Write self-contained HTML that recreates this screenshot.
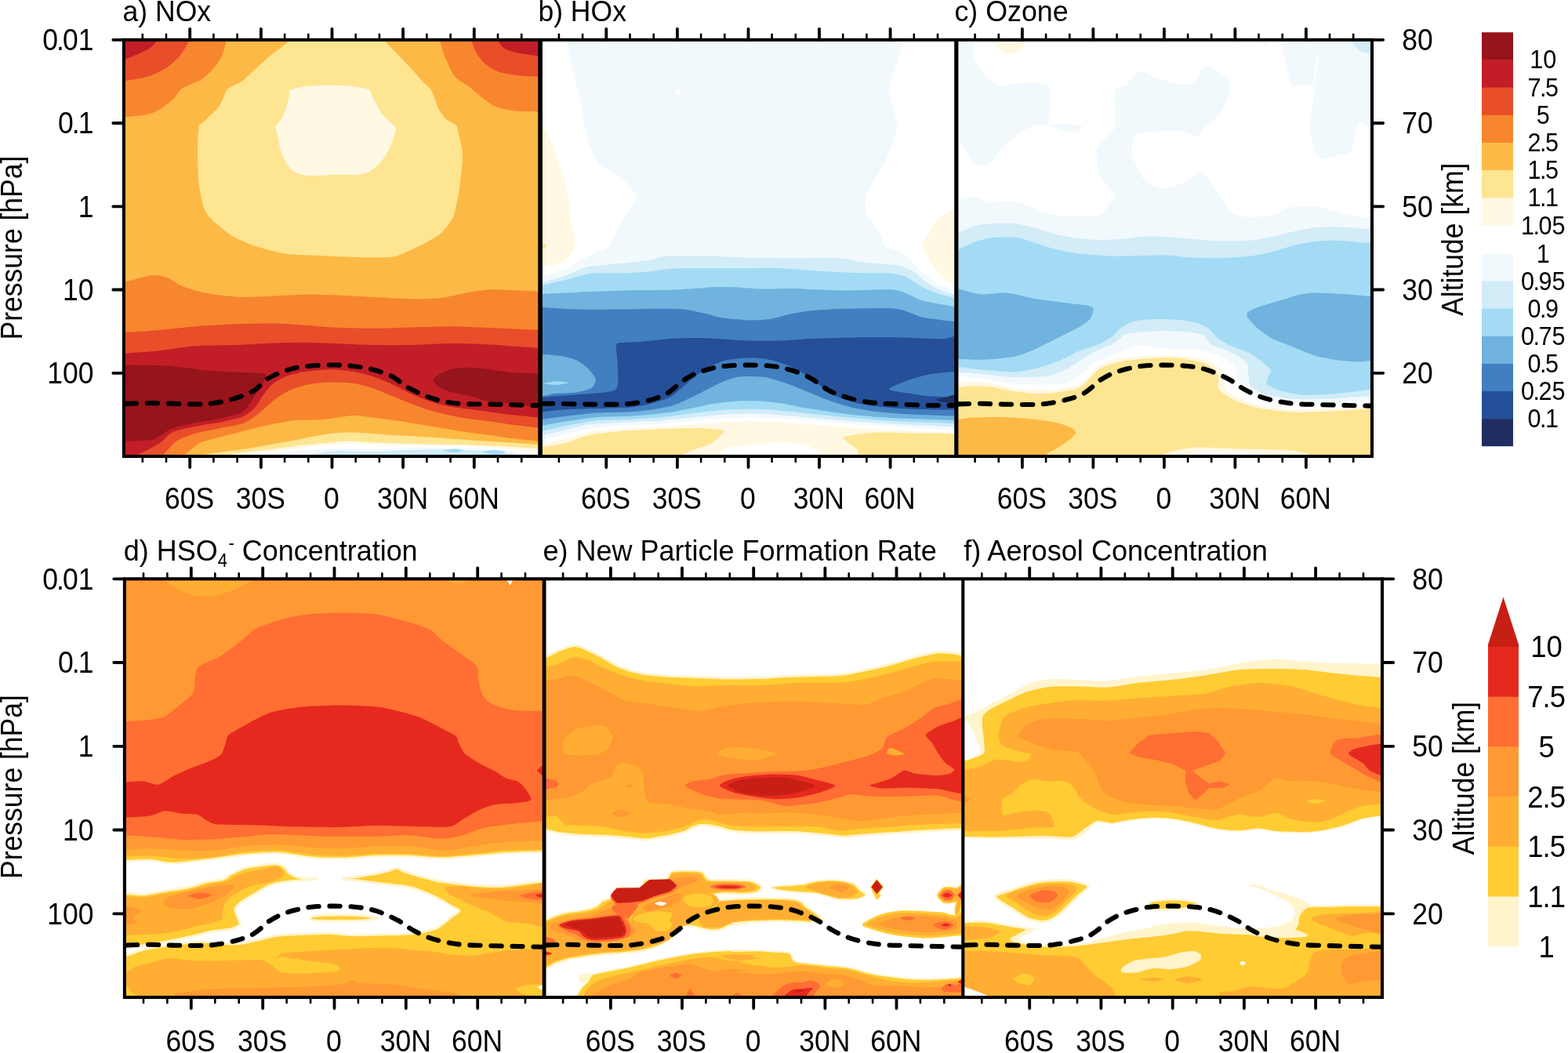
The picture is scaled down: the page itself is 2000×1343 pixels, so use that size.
<!DOCTYPE html>
<html lang="en">
<head>
<meta charset="utf-8">
<title>Zonal mean changes: NOx, HOx, Ozone, HSO4- Concentration, New Particle Formation Rate, Aerosol Concentration</title>
<style>
html,body{margin:0;padding:0;background:#fff;}
body{width:2000px;height:1343px;overflow:hidden;}
svg{display:block;}
svg text{font-family:'Liberation Sans', sans-serif;fill:#000;}
</style>
</head>
<body>
<svg width="2000" height="1343" viewBox="0 0 2000 1343">
<defs>
<clipPath id="cpa"><rect x="157.9" y="50.8" width="531.2" height="531.2"/></clipPath>
<clipPath id="cpb"><rect x="689.1" y="50.8" width="530.7" height="531.2"/></clipPath>
<clipPath id="cpc"><rect x="1219.8" y="50.8" width="530.2" height="531.2"/></clipPath>
<clipPath id="cpd"><rect x="158.9" y="738.3" width="535.2" height="533.7"/></clipPath>
<clipPath id="cpe"><rect x="694.1" y="738.3" width="534.2" height="533.7"/></clipPath>
<clipPath id="cpf"><rect x="1228.3" y="738.3" width="534.7" height="533.7"/></clipPath>
</defs>
<rect width="2000" height="1343" fill="#fff"/>
<g id="fills" shape-rendering="geometricPrecision">
<g clip-path="url(#cpa)">
<rect x="155.9" y="48.8" width="535.2" height="535.2" fill="#fdb945"/>
<path d="M372 44C364.4 45.9 370.3 50.3 366.5 54C362.7 57.7 346.8 69.2 340 75C333.2 80.8 316 97.8 310 102.5C304 107.2 293.6 109.8 290 113.8C286.4 117.7 283.6 130.1 280 135C276.4 139.9 263.1 151.8 260 155C256.9 158.2 254.7 156.4 253.8 161.2C252.8 166.1 252 186.2 252 195C252 203.8 252.8 226.6 253.8 235C254.7 243.4 258.1 259.6 260 265C261.9 270.4 265.8 275.8 270 280C274.2 284.2 288.4 295.9 295 300C301.6 304.1 316.6 310.9 325 313.8C333.4 316.6 356 322.3 365 323.8C374 325.2 389.8 325.2 400 325.8C410.2 326.3 438.3 327.7 450 328C461.7 328.3 490 328.5 497.5 328C505 327.5 507.4 325.8 512.5 323.8C517.6 321.7 534 314.4 540 311.2C546 308.1 558 301.6 562.5 297.5C567 293.4 574.8 283.5 577.5 277.5C580.2 271.5 583.6 255 585 247.5C586.4 240 588.1 221.3 588.8 215C589.4 208.7 590.3 199.8 590 195C589.7 190.2 587.2 179.2 586.2 175C585.3 170.8 584 162.7 582 160C580 157.3 572.6 154.9 570 152.5C567.4 150.1 562.4 144.5 560 140C557.6 135.5 552.3 119.1 550 115C547.7 110.9 544.1 109.4 541 106C537.9 102.6 528 91.3 524 87C520 82.7 511.8 74 508 70C504.2 66 494.9 57.1 492.5 54C490.1 50.9 495.5 45.9 488 44C480.5 42.1 443.9 38 430 38C416.1 38 379.6 42.1 372 44Z" fill="#fde592"/>
<path d="M370 115C372.2 113.6 382.4 111.2 387.5 110.5C392.6 109.8 406.5 108.9 412.5 108.8C418.5 108.6 432.1 109 437.5 109.2C442.9 109.5 453.4 110.6 457.5 111.2C461.6 111.9 469.1 113.2 471.2 114.5C473.4 115.8 473.6 119.7 475 122.5C476.4 125.3 480.7 134.3 482.5 137.5C484.3 140.7 487.4 145.9 490 148.8C492.6 151.6 502 159 503.8 161.2C505.5 163.5 505.1 164.7 504.5 167.5C503.9 170.3 500.2 181.4 498.8 185C497.3 188.6 494.4 194.5 492.5 197.5C490.6 200.5 485.2 207.4 482.5 210C479.8 212.6 473.3 217.9 470 219.5C466.7 221.1 459.5 222.9 455 223.2C450.5 223.6 437.6 222.4 432.5 222.5C427.4 222.6 417.6 223.6 412.5 223.8C407.4 223.9 394.5 224.3 390 223.8C385.5 223.2 377.9 220.4 375 218.8C372.1 217.1 368.4 213.4 366.2 210C364.1 206.6 359 194.8 357.5 190C356 185.2 354.5 173.4 353.8 170C353 166.6 350.5 164.2 351.2 161.8C352 159.3 358.4 152.9 360 150C361.6 147.1 363.9 140.8 365 137.5C366.1 134.2 368.1 125.2 368.8 122.5C369.4 119.8 367.8 116.4 370 115Z" fill="#fff8e3"/>
<path d="M155 149.5C158.9 149.1 181.5 147.5 187.5 146.2C193.5 145 200.8 141.3 205 138.8C209.2 136.2 219.2 128.2 222.5 125C225.8 121.8 228.6 115.2 232.5 112.5C236.4 109.8 250.5 105.2 255 102.5C259.5 99.8 266.7 93.6 270 90C273.3 86.4 280.1 77.5 282.5 72.5C284.9 67.5 289.1 50.9 290 48L149.9 42.8 Z" fill="#f8862e"/>
<path d="M150 103.5C151.2 103.4 155.5 103.7 160 103C164.5 102.3 181.5 99.8 187.5 98C193.5 96.2 205.1 91 210 88C214.9 85 224.6 76.6 228 73C231.4 69.4 236.2 61.2 238 58C239.8 54.8 242.4 47.4 243 46L149.9 42.8 Z" fill="#e84e2a"/>
<path d="M150 78C151.2 77.7 156.9 76.6 160 75.5C163.1 74.4 172.4 70.6 176 69C179.6 67.4 187.5 63.6 190 62C192.5 60.4 195.4 57.9 197 56C198.6 54.1 202.3 47.2 203 46L149.9 42.8 Z" fill="#c31e27"/>
<path d="M560 48C560.9 50.9 565.1 66.6 567.5 72.5C569.9 78.4 576.4 93 580 97.5C583.6 102 593.6 107 597.5 110C601.4 113 608.6 119.5 612.5 122.5C616.4 125.5 624.9 132.8 630 135C635.1 137.2 647.6 140.3 655 141.2C662.4 142.2 687.6 142.3 692 142.5L697.1 42.8 Z" fill="#f8862e"/>
<path d="M600 48C600.9 50.3 605.1 63.4 607.5 67.5C609.9 71.6 616.7 79.7 620 82.5C623.3 85.3 630.2 89.6 635 91.2C639.8 92.9 653.2 95.4 660 96.2C666.8 97.1 688.2 97.8 692 98L697.1 42.8 Z" fill="#e84e2a"/>
<path d="M632.5 48C633.7 49.6 639.2 58.9 642.5 61.2C645.8 63.6 654.1 66.2 660 67.5C665.9 68.8 688.2 71.5 692 72L697.1 42.8 Z" fill="#c31e27"/>
<path d="M155 361C159.5 359.8 185.6 352.1 192.5 351.2C199.4 350.4 207.7 352.1 212.5 353.8C217.3 355.4 226.5 362.6 232.5 365C238.5 367.4 253.8 372.1 262.5 373.8C271.2 375.4 294.5 378.3 305 378.8C315.5 379.2 340.1 377.9 350 377.5C359.9 377.1 378.5 375.9 387.5 375.8C396.5 375.6 414.5 375.9 425 376.2C435.5 376.6 463 378.1 475 378.8C487 379.4 514.5 381.1 525 381.2C535.5 381.4 553.5 381.1 562.5 380C571.5 378.9 592.5 373.8 600 372.5C607.5 371.2 619 369.6 625 369.2C631 368.9 642 369.7 650 370C658 370.3 687 371.8 692 372L697.1 372 L697.1 590 L149.9 590 L149.9 361 Z" fill="#f8862e"/>
<path d="M155 424C160.4 423.7 188.6 422.2 200 421.2C211.4 420.3 238 417.2 250 416.2C262 415.3 288 413.7 300 413.2C312 412.8 341 412.4 350 412.5C359 412.6 366 413.1 375 413.8C384 414.4 413 416.9 425 417.5C437 418.1 463 418.8 475 418.8C487 418.8 513 417.8 525 417.5C537 417.2 564.5 416.2 575 416.2C585.5 416.2 603.5 417.1 612.5 417.5C621.5 417.9 640.5 418.8 650 419.2C659.5 419.7 687 420.8 692 421L697.1 421 L697.1 590 L149.9 590 L149.9 424 Z" fill="#e84e2a"/>
<path d="M155 451C160.4 450.6 188.6 448.7 200 447.5C211.4 446.3 238 442.1 250 441.2C262 440.4 288 440.4 300 440C312 439.6 339.5 437.9 350 437.5C360.5 437.1 378.5 436.7 387.5 436.8C396.5 436.8 414.5 437.6 425 438C435.5 438.4 463 439.8 475 440C487 440.2 513 440.2 525 440C537 439.8 564.5 438.1 575 438C585.5 437.9 603.5 438.4 612.5 438.8C621.5 439.1 640.5 440.6 650 441.2C659.5 441.9 687 443.7 692 444L697.1 444 L697.1 590 L149.9 590 L149.9 451 Z" fill="#c31e27"/>
<path d="M100 464.5C107.2 452.8 146.5 465.3 160 465.5C173.5 465.7 200.2 465.7 212.5 466.5C224.8 467.3 252 471.5 262.5 472.5C273 473.5 291.3 474.1 300 474.5C308.7 474.9 330.4 475.6 335 476.2C339.6 476.9 338.8 478.4 338.8 480C338.8 481.6 336.6 487 335 490C333.4 493 327.4 501.4 325 505C322.6 508.6 317.4 517.3 315 520C312.6 522.7 309.8 525.7 305 527.5C300.2 529.3 282.2 533.5 275 535C267.8 536.5 251.6 538.6 245 540C238.4 541.4 224.8 544.5 220 546.2C215.2 548 208.3 553.2 205 555C201.7 556.8 197.9 560.4 192.5 561.2C187.1 562.1 171.1 562.3 160 562.5C148.9 562.7 107.2 574.8 100 563C92.8 551.2 92.8 476.2 100 464.5Z" fill="#96141b"/>
<path d="M552.5 485C552.5 483.1 557.3 479.1 560 477.5C562.7 475.9 570.8 472.3 575 471.2C579.2 470.2 589 468.8 595 468.8C601 468.8 618.4 470.5 625 471.2C631.6 472 641 473.9 650 475C659 476.1 694 474.8 700 480C706 485.2 706 513.9 700 518C694 522.1 659 515.2 650 514.5C641 513.8 631 513.6 625 512.5C619 511.4 606 506.5 600 505C594 503.5 579.8 501.4 575 500C570.2 498.6 562.7 495.6 560 493.8C557.3 491.9 552.5 486.9 552.5 485Z" fill="#96141b"/>
<path d="M164 586C165.2 585.3 170.9 582.1 174 580.5C177.1 578.9 186.4 574.9 190 573C193.6 571.1 200.4 567.6 204 565C207.6 562.4 214.5 553.8 220 551.2C225.5 548.7 242.8 545.2 250 543.8C257.2 542.2 272.8 540.2 280 538.8C287.2 537.2 304.6 533.5 310 531.2C315.4 529 322 523.1 325 520C328 516.9 332.3 508.6 335 505C337.7 501.4 343.9 493 347.5 490C351.1 487 359.9 481.9 365 480C370.1 478.1 383.1 474.8 390 473.8C396.9 472.7 415.3 471.2 422.5 471.2C429.7 471.2 443.7 472.7 450 473.8C456.3 474.8 469 478.1 475 480C481 481.9 494 487.3 500 490C506 492.7 519 499.8 525 502.5C531 505.2 544 510.6 550 512.5C556 514.5 567.5 517.4 575 518.8C582.5 520.1 603.5 522.5 612.5 523.8C621.5 525 640.5 527.6 650 528.8C659.5 529.9 687 532.5 692 533L697.1 533 L697.1 590 L149.9 590 L149.9 586 Z" fill="#e84e2a"/>
<path d="M200 587C201 586.2 205 583.4 208 580.5C211 577.6 220 565.9 225 562.5C230 559.1 243.4 554.5 250 552.5C256.6 550.5 272.8 547.8 280 546.2C287.2 544.8 304 542.2 310 540C316 537.8 325.2 531.1 330 527.5C334.8 523.9 345.2 513.6 350 510C354.8 506.4 364.6 499.9 370 497.5C375.4 495.1 388.7 491.2 395 490C401.3 488.8 415.9 487.6 422.5 487.5C429.1 487.4 443.7 487.9 450 488.8C456.3 489.6 469 493.1 475 495C481 496.9 494 502.6 500 505C506 507.4 519 512.8 525 515C531 517.2 542.5 521.6 550 523.8C557.5 525.9 578.5 530.9 587.5 532.5C596.5 534.1 617.5 536.5 625 537.5C632.5 538.5 642 540.2 650 541.2C658 542.3 687 545.4 692 546L697.1 546 L697.1 590 L149.9 590 L149.9 587 Z" fill="#f8862e"/>
<path d="M230 585C233 582.6 249 568.3 255 565C261 561.7 273.4 559.3 280 557.5C286.6 555.7 302.8 551.8 310 550C317.2 548.2 332.2 544.1 340 542.5C347.8 540.9 366.3 537.1 375 536.2C383.7 535.4 403.5 535.8 412.5 535C421.5 534.2 442.5 530.3 450 530C457.5 529.7 467.5 531.6 475 532.5C482.5 533.4 503.5 536.1 512.5 537.5C521.5 538.9 541 542.2 550 543.8C559 545.2 578.5 548.6 587.5 550C596.5 551.4 617.5 554 625 555C632.5 556 642 557.8 650 558.8C658 559.7 687 562.5 692 563L697.1 563 L697.1 590 L149.9 590 L149.9 585 Z" fill="#fdb945"/>
<path d="M258 585C258.9 584.3 258.7 580.5 265.5 579C272.3 577.5 302.5 574.3 315 572.3C327.5 570.3 358.4 564.7 370 562.6C381.6 560.5 402.1 555.7 411.3 554.4C420.5 553.1 437.1 551.6 447 551.6C456.9 551.6 479.9 553.6 493.8 554.4C507.7 555.2 547.7 557.5 562.5 558.5C577.3 559.5 602 561.6 617.5 562.6C633 563.6 683.1 566.5 692 567L697.1 567 L697.1 590 L149.9 590 L149.9 585 Z" fill="#fde592"/>
<path d="M288 585C288.9 584.3 289.3 580.4 295.8 579C302.3 577.6 331.9 574.9 342.5 573.6C353.1 572.3 373.9 569.3 383.8 568.1C393.7 566.9 417.4 564.7 425 564C432.6 563.3 440.4 562.5 447 562.6C453.6 562.7 469.4 564.2 480 564.6C490.6 565 521.8 565.9 535 566.2C548.2 566.5 576.8 566.9 590 567.3C603.2 567.7 632.8 568.9 645 569.5C657.2 570.1 686.4 572.1 692 572.5L697.1 572.5 L697.1 590 L149.9 590 L149.9 585 Z" fill="#fff8e3"/>
<path d="M296 585C297 584.3 296.8 580.2 304 579C311.2 577.8 345.1 576.1 356.3 575C367.5 573.9 389.3 570.4 397.5 569.5C405.7 568.6 418.4 567.7 425 567.3C431.6 566.9 442.6 566.1 452.5 566.2C462.4 566.3 494.3 567.8 507.5 568.1C520.7 568.4 549.3 568.8 562.5 569C575.7 569.2 605.9 569.4 617.5 570C629.1 570.6 649.9 572.8 658.8 573.6C667.7 574.4 688 576.6 692 577L697.1 577 L697.1 590 L149.9 590 L149.9 585 Z" fill="#ffffff"/>
<path d="M330 585C289.5 583.7 334.4 580.4 342.5 579C350.6 577.6 387.6 574.5 397.5 573.6C407.4 572.7 415.1 571.9 425 571.7C434.9 571.5 468.4 572.4 480 572.3C491.6 572.2 511.4 571.1 521.3 570.9C531.2 570.7 551 570.7 562.5 570.9C574 571.1 605.9 571.6 617.5 572.3C629.1 573 651.9 575.4 658.8 576.4C665.7 577.4 672.5 579.4 675 581C677.5 582.6 721.4 589.5 680 590C638.6 590.5 370.5 586.3 330 585Z" fill="#f2f9fd"/>
<path d="M400 585C371.2 583.7 416.6 576.1 425 575C433.4 573.9 458.6 576.1 470 576C481.4 575.9 509 574.3 520 574C531 573.7 550.4 573.4 562 573.5C573.6 573.6 605.8 574.3 617 575C628.2 575.7 649.2 577.7 655 579C660.8 580.3 695.6 585.3 665 586C634.4 586.7 428.8 586.3 400 585Z" fill="#d2ecf8"/>
<path d="M565 574.5C565 574 576.8 572.5 580 572.5C583.2 572.5 592 574 592 574.5C592 575 583.2 577 580 577C576.8 577 565 575 565 574.5Z" fill="#a3dbf5"/>
<path d="M615 576C615.2 575.3 628.4 573.9 632 574C635.6 574.1 645.2 576.3 645 577C644.8 577.7 633.6 579.6 630 579.5C626.4 579.4 614.8 576.7 615 576Z" fill="#a3dbf5"/>
<path d="M157.9 514.9C164.9 514.8 184.7 514.1 200 514.2C215.3 514.4 237.5 515.6 250 515.5C262.5 515.4 266.7 515 275 513.8C283.3 512.5 291.7 510.7 300 508C308.3 505.3 318.3 501.5 325 497.5C331.7 493.5 333.3 487.9 340 483.8C346.7 479.6 357.1 475.2 365 472.5C372.9 469.8 377.9 468.7 387.5 467.5C397.1 466.3 412.1 465.6 422.5 465.5C432.9 465.4 441.2 466 450 467C458.8 468 466.7 469.1 475 471.2C483.3 473.4 492.9 476.5 500 480C507.1 483.5 510.8 488.5 517.5 492.5C524.2 496.5 532.5 500.6 540 503.8C547.5 506.9 554.6 509.4 562.5 511.2C570.4 513.1 577.1 514.3 587.5 515C597.9 515.7 614.6 515.3 625 515.5C635.4 515.7 638.3 515.9 650 516.2C661.7 516.6 687.5 517.3 695 517.5" fill="none" stroke="#000" stroke-width="6.1" stroke-dasharray="13.3 13.7" stroke-dashoffset="-3" stroke-linecap="round"/>
</g>
<g clip-path="url(#cpb)">
<rect x="687.1" y="48.8" width="534.7" height="535.2" fill="#f2f9fd"/>
<path d="M722.7 45.5C723.4 49.8 726.4 72.7 728.2 81.3C730 89.9 735.9 108.2 737.9 117.2C739.9 126.1 742.9 147.1 744.8 155.7C746.6 164.3 750.5 182.2 753 188.8C755.5 195.4 761 206.5 765.4 210.8C769.9 215.1 784.7 220 790.2 224.6C795.8 229.3 810.4 244.1 811.7 249.4C813 254.7 803.8 264.1 801.2 268.7C798.7 273.3 793.2 282.5 790.2 288C787.2 293.5 780.1 310.2 776.4 314.2C772.8 318.1 763.9 319.1 759.9 321.1C755.9 323.1 748 328.1 743.4 330.7C738.7 333.4 728.3 340.3 721.3 343.1C714.4 345.9 689.8 352.8 685.5 354.1L681.1 354.1 L681.1 45.5 Z" fill="#ffffff"/>
<path d="M685.5 150.2C687.5 153.5 698.7 170.5 702 177.8C705.4 185.1 710.4 202.6 713.1 210.8C715.7 219.1 722.3 238.1 724.1 246.7C725.9 255.3 727.1 274.6 728.2 282.5C729.4 290.4 734.6 307 733.7 312.8C732.9 318.6 724.5 327.7 721.3 330.7C718.2 333.7 711.9 336.4 707.6 337.6C703.3 338.8 688.2 340 685.5 340.4L681.1 340.4 L681.1 150.2 Z" fill="#fff8e3"/>
<path d="M688.3 307.3 L698.7 313.4 L688.3 318.9 Z" fill="#fde592"/>
<path d="M1151.8 45.5C1151 49.1 1147.4 69.2 1145.7 75.8C1144 82.4 1138.9 95.8 1137.4 100.6C1135.9 105.4 1133.1 111.5 1133.3 115.8C1133.5 120.1 1137.5 131 1138.8 136.4C1140.1 141.9 1144.5 155.3 1144.3 161.2C1144.1 167.2 1139.6 180.1 1137.4 186C1135.3 192 1129 205.6 1126.4 210.8C1123.8 216.1 1118 225.5 1115.4 230.1C1112.7 234.8 1105.5 244.1 1104.4 249.4C1103.2 254.7 1104.1 269.3 1105.7 274.2C1107.4 279.2 1115.2 286 1118.1 290.8C1121.1 295.6 1126.9 310.5 1130.5 314.2C1134.2 317.8 1144.3 318.6 1148.4 321.1C1152.6 323.5 1161 331.2 1165 334.8C1169 338.5 1177.5 347.9 1181.5 351.4C1185.5 354.9 1193.1 361.3 1198 363.8C1203 366.3 1219.9 371.1 1222.8 372L1227.8 372 L1227.8 45.5 Z" fill="#ffffff"/>
<path d="M1222.8 264.6C1220.5 265.7 1207.5 271.4 1203.6 274.2C1199.6 277 1192.4 284.7 1189.8 288C1187.1 291.3 1183.2 298.8 1181.5 301.8C1179.9 304.8 1175.7 309.5 1176 312.8C1176.3 316.1 1182 325.4 1184.3 329.3C1186.6 333.3 1192.6 342.6 1195.3 345.9C1197.9 349.2 1203 354.7 1206.3 356.9C1209.6 359 1220.9 363 1222.8 363.8L1227.8 363.8 L1227.8 264.6 Z" fill="#fff8e3"/>
<path d="M860.5 113.8 L869.6 113.8 L865.2 123.2 Z" fill="#ffffff"/>
<path d="M685.5 362.4C689.8 361.1 713.7 354 721.3 351.4C728.9 348.7 742.3 342 748.9 340.4C755.5 338.7 769.8 338.3 776.4 337.6C783.1 336.9 797.1 335.7 804 334.8C810.9 334 828.7 331.7 834.3 330.7C839.9 329.7 842.9 327.1 850.8 326.6C858.8 326.1 887.9 326.3 900.4 326.6C913 326.8 942.3 328.5 955.6 328.8C968.8 329.1 996.8 329.3 1010.7 329.3C1024.6 329.4 1061.4 328.8 1071.3 329.3C1081.2 329.8 1087.4 332.6 1093.3 333.5C1099.3 334.3 1114.3 335.6 1120.9 336.2C1127.5 336.9 1143.2 337.8 1148.4 339C1153.7 340.1 1161 343.4 1165 345.9C1169 348.3 1177.5 356.8 1181.5 359.6C1185.5 362.5 1193.1 367.1 1198 369.3C1203 371.4 1219.9 376.6 1222.8 377.6L1227.8 377.6 L1227.8 590 L681.1 590 L681.1 362.4 Z" fill="#d2ecf8"/>
<path d="M685.5 365.2C689.8 364.2 713.1 358.9 721.3 356.9C729.6 354.9 746.1 349.6 754.4 348.6C762.7 347.6 781 349 790.2 348.6C799.5 348.3 823.3 346.6 831.6 345.9C839.8 345.1 850.8 343 859.1 342.6C867.4 342.1 888.9 342.3 900.4 342.3C912 342.3 944 342.3 955.6 342.3C967.1 342.3 987 341.9 996.9 342.3C1006.8 342.7 1026.7 344.6 1038.2 345.3C1049.8 346 1081.8 347.7 1093.3 348.1C1104.9 348.5 1127.4 348.1 1134.7 348.6C1141.9 349.2 1149.7 351.1 1154 352.8C1158.3 354.4 1166.2 360.1 1170.5 362.4C1174.8 364.7 1183.5 369.7 1189.8 372C1196.1 374.4 1218.9 380.5 1222.8 381.7L1227.8 381.7 L1227.8 590 L681.1 590 L681.1 365.2 Z" fill="#a3dbf5"/>
<path d="M685.5 375.1C691.5 374.8 722.5 373.4 735.1 372.9C747.7 372.3 777 371 790.2 370.7C803.4 370.3 833.8 370.4 845.3 370.1C856.9 369.8 878.4 368.4 886.7 367.9C894.9 367.4 907.6 366.2 914.2 366C920.8 365.8 935.2 366.2 941.8 366.5C948.4 366.8 961.1 368.3 969.3 368.5C977.6 368.6 1002.4 367.8 1010.7 367.9C1018.9 368 1030 369 1038.2 369.3C1046.5 369.6 1071.3 370.6 1079.6 370.7C1087.8 370.7 1100.2 370 1107.1 369.8C1114.1 369.7 1131.8 368.9 1137.4 369.3C1143 369.7 1149.3 371.8 1154 373.4C1158.6 375.1 1170.7 381.4 1176 383.1C1181.3 384.8 1192.4 386.7 1198 387.8C1203.7 388.8 1219.9 391.6 1222.8 392.2L1227.8 392.2 L1227.8 590 L681.1 590 L681.1 375.1 Z" fill="#6fb3de"/>
<path d="M685.5 391.6C691.4 392 722.5 394.3 735 394.6C747.5 395 776.8 394.7 790 394.6C803.2 394.5 835.1 393.8 845 393.8C854.9 393.8 865.9 393.9 872.5 394.6C879.1 395.4 894.1 398.8 900 400.1C906 401.5 915.4 404.6 922 405.6C928.6 406.6 947.8 408.2 955 408.4C962.3 408.5 975.9 408 982.5 407C989.1 406 1003.4 401.5 1010 400.1C1016.6 398.8 1029.3 396.8 1037.5 396C1045.8 395.2 1067.2 394.1 1078.8 393.8C1090.3 393.5 1124.9 393 1133.8 393.3C1142.7 393.5 1148.1 394.7 1153 396C1158 397.3 1169.1 402.8 1175 404.3C1181 405.7 1196.9 407.7 1202.6 408.4C1208.2 409.1 1219.5 410.1 1221.8 410.3L1227.8 410.3 L1227.8 590 L681.1 590 L681.1 391.6 Z" fill="#417fc0"/>
<path d="M685.5 455.1C688.8 449.3 707.1 453.3 713 453.8C718.9 454.3 730.6 457.3 735 459.3C739.5 461.2 747.2 467.3 750.1 470.3C753.1 473.2 759.3 481 759.8 484C760.3 487 757.2 493 754.3 495C751.3 497 740.6 499.7 735 500.5C729.4 501.3 713.4 501.6 707.5 501.9C701.6 502.2 688.1 508.3 685.5 502.7C682.9 497.1 682.2 461 685.5 455.1Z" fill="#6fb3de"/>
<path d="M693.8 489C693.8 488.4 706.5 486.3 710.3 486.2C714 486.1 725.4 487.6 725.4 488.1C725.4 488.7 714 490.8 710.3 490.9C706.5 491 693.8 489.5 693.8 489Z" fill="#a3dbf5"/>
<path d="M785.9 442.8C786.1 439.1 786.2 438.1 790 437.3C793.8 436.4 809.3 436.5 817.5 435.9C825.8 435.2 848.9 432.3 858.8 431.8C868.7 431.2 888.5 430.9 900 431.2C911.6 431.5 943.5 434.1 955 434.5C966.6 434.9 986.4 434.8 996.3 434.5C1006.2 434.2 1026 432.3 1037.5 431.8C1049.1 431.3 1079.3 430.6 1092.5 430.4C1105.7 430.2 1134.3 430.2 1147.5 430.4C1160.7 430.6 1193 432 1202.6 432.3C1212.1 432.6 1224.3 422.1 1227.3 433.1C1230.3 444.1 1231.9 513.1 1227.3 523.9C1222.7 534.7 1198.4 523.4 1188.8 523.1C1179.2 522.7 1157.4 521.9 1147.5 521.1C1137.6 520.4 1114.5 518.3 1106.3 517C1098 515.7 1084.4 512 1078.8 510.1C1073.2 508.3 1063.8 504.4 1059.5 501.9C1055.2 499.4 1047.3 492.7 1043 489.5C1038.7 486.4 1028.7 478.7 1023.8 475.8C1018.8 472.8 1007.4 466.9 1001.8 464.8C996.2 462.6 982.6 458.9 977 457.9C971.4 456.9 961 456.3 955 456.5C949.1 456.7 933.1 458.1 927.5 459.3C921.9 460.4 912.9 463.8 908.3 466.1C903.7 468.4 893.3 475.4 889 478.5C884.7 481.7 876.5 489 872.5 492.3C868.6 495.6 861 503.3 856 506C851.1 508.7 837.5 513.2 831.3 514.8C825 516.5 812 519 803.8 519.8C795.5 520.5 772.4 520.8 762.5 521.1C752.6 521.5 731.2 522 721.3 522.5C711.4 523.1 685 527.5 680 525.8C675 524.2 673.4 511.5 680 508.8C686.6 506.1 722.5 504.7 735 503.3C747.5 501.9 778.2 501.5 784.5 497.2C790.8 492.9 787.6 474 787.8 467.5C788 461 785.6 446.4 785.9 442.8Z" fill="#254f98"/>
<path d="M1133.8 496.4C1133.8 494.2 1154.7 486.3 1161.3 484C1167.9 481.7 1180.9 478.2 1188.8 477.1C1196.7 476.1 1222.7 471.9 1227.3 475.2C1231.9 478.5 1231.9 501 1227.3 504.6C1222.7 508.3 1196.7 505.8 1188.8 505.5C1180.9 505.1 1167.9 503 1161.3 501.9C1154.7 500.8 1133.8 498.5 1133.8 496.4Z" fill="#417fc0"/>
<path d="M1194.3 510.1C1194.3 509.2 1204.1 507 1208.1 506C1212 505 1225 500.8 1227.3 501.9C1229.6 502.9 1229.6 513.4 1227.3 514.8C1225 516.2 1212 514.3 1208.1 513.7C1204.1 513.2 1194.3 511.1 1194.3 510.1Z" fill="#1f2d62"/>
<path d="M685.5 525.8C689.8 525.4 712 523.1 721.3 522.5C730.5 522 752.6 521.5 762.5 521.1C772.4 520.8 795.5 520.5 803.8 519.8C812 519 825 516.5 831.3 514.8C837.5 513.2 851.1 508.7 856 506C861 503.3 868.6 495.6 872.5 492.3C876.5 489 884.7 481.7 889 478.5C893.3 475.4 903.7 468.4 908.3 466.1C912.9 463.8 921.9 460.4 927.5 459.3C933.1 458.1 949.1 456.7 955 456.5C961 456.3 971.4 456.9 977 457.9C982.6 458.9 996.2 462.6 1001.8 464.8C1007.4 466.9 1018.8 472.8 1023.8 475.8C1028.7 478.7 1038.7 486.4 1043 489.5C1047.3 492.7 1055.2 499.4 1059.5 501.9C1063.8 504.4 1073.2 508.3 1078.8 510.1C1084.4 512 1098 515.7 1106.3 517C1114.5 518.3 1137.6 520.5 1147.5 521.1C1157.4 521.8 1179.9 522.4 1188.8 522.5C1197.7 522.7 1217.8 522.5 1221.8 522.5L1227.8 522.5 L1227.8 590 L681.1 590 L681.1 525.8 Z" fill="#417fc0"/>
<path d="M685.5 535.7C689.8 535.1 712 531.9 721.3 530.8C730.5 529.7 752.6 527.3 762.5 526.6C772.4 526 795.5 525.8 803.8 525.3C812 524.8 824.7 523.5 831.3 522.5C837.9 521.5 853.2 518.7 858.8 517C864.4 515.4 873.1 511.1 878 508.8C883 506.5 895.1 500.2 900 497.8C905 495.3 914.7 490.1 919.3 488.1C923.9 486.2 934.2 482.3 938.5 481.3C942.8 480.3 950.4 479.9 955 479.9C959.6 479.9 971.1 480.1 977 481.3C983 482.4 997.9 487.2 1004.5 489.5C1011.1 491.8 1025.4 497.9 1032 500.5C1038.6 503.2 1052.9 509.2 1059.5 511.5C1066.1 513.8 1079.8 518.1 1087 519.8C1094.3 521.4 1111.1 524.2 1120 525.3C1129 526.3 1149.1 527.9 1161.3 528.6C1173.5 529.2 1214.5 530.5 1221.8 530.8L1227.8 530.8 L1227.8 590 L681.1 590 L681.1 535.7 Z" fill="#6fb3de"/>
<path d="M685.5 544C689.8 543.2 712 539.1 721.3 537.6C730.5 536.2 752.6 533 762.5 532.1C772.4 531.3 795.5 531.2 803.8 530.8C812 530.3 824.7 529.2 831.3 528.6C837.9 527.9 852.2 526.3 858.8 525.3C865.4 524.2 879.7 521.1 886.3 519.8C892.9 518.4 907.2 515.3 913.8 514.3C920.4 513.3 934.7 511.8 941.3 511.5C947.9 511.2 962.2 511.2 968.8 511.5C975.4 511.8 989.7 513.3 996.3 514.3C1002.9 515.3 1017.2 518.6 1023.8 519.8C1030.4 520.9 1043 522.7 1051.3 523.9C1059.5 525 1081 528.2 1092.5 529.4C1104.1 530.6 1132 532.7 1147.5 533.5C1163.1 534.3 1212.9 535.9 1221.8 536.3L1227.8 536.3 L1227.8 590 L681.1 590 L681.1 544 Z" fill="#a3dbf5"/>
<path d="M685.5 551.4C689.8 550.4 712 545 721.3 543.1C730.5 541.3 752.6 537.3 762.5 536.3C772.4 535.3 793.9 535.4 803.8 534.9C813.7 534.4 835.1 533.1 845 532.1C854.9 531.2 876.4 527.8 886.3 526.6C896.2 525.5 919.3 523.1 927.5 522.5C935.8 521.9 948.4 521.7 955 521.7C961.6 521.7 974.3 521.9 982.5 522.5C990.8 523.1 1013.9 525.7 1023.8 526.6C1033.7 527.6 1053.5 529.7 1065 530.8C1076.6 531.9 1106.8 534.8 1120 535.7C1133.2 536.6 1162.8 537.9 1175 538.5C1187.3 539 1216.2 540.2 1221.8 540.4L1227.8 540.4 L1227.8 590 L681.1 590 L681.1 551.4 Z" fill="#d2ecf8"/>
<path d="M685.5 556.9C689.8 555.9 713.7 550.5 721.3 548.6C728.8 546.8 740.5 542.9 748.8 541.8C757 540.6 778.5 539.7 790 539C801.6 538.4 833.5 537.1 845 536.3C856.6 535.4 876.4 533.1 886.3 532.1C896.2 531.2 919.3 529.1 927.5 528.6C935.8 528 948.4 527.5 955 527.5C961.6 527.5 972.6 527.9 982.5 528.6C992.4 529.2 1024.3 531.9 1037.5 533C1050.7 534.1 1079.3 536.7 1092.5 537.6C1105.7 538.6 1132 540.4 1147.5 541.2C1163.1 542 1212.9 544.1 1221.8 544.5L1227.8 544.5 L1227.8 590 L681.1 590 L681.1 556.9 Z" fill="#f2f9fd"/>
<path d="M685.5 562.4C689.8 561.4 713.7 556 721.3 554.1C728.8 552.3 740.5 548.6 748.8 547.3C757 546 778.5 544 790 543.1C801.6 542.3 831.8 541.4 845 540.4C858.2 539.4 886.8 535.9 900 534.9C913.2 533.9 943.5 532.3 955 532.1C966.6 532 986.4 533 996.3 533.5C1006.2 534 1026 535.3 1037.5 536.3C1049.1 537.2 1079.3 540.2 1092.5 541.2C1105.7 542.2 1132 543.6 1147.5 544.5C1163.1 545.4 1212.9 548.2 1221.8 548.6L1227.8 548.6 L1227.8 590 L681.1 590 L681.1 562.4 Z" fill="#ffffff"/>
<path d="M685.5 567.9C689.8 566.9 713.7 561.6 721.3 559.6C728.8 557.7 740.5 552.9 748.8 551.4C757 549.9 778.5 548.1 790 547.3C801.6 546.4 831.8 545.3 845 544.5C858.2 543.7 886.8 541.2 900 540.4C913.2 539.6 941.8 537.7 955 537.6C968.2 537.5 996.8 538.8 1010 539.6C1023.2 540.3 1051.8 543 1065 544C1078.2 544.9 1106.8 546.5 1120 547.3C1133.2 548 1162.8 549.4 1175 550C1187.3 550.7 1216.2 552.4 1221.8 552.8L1227.8 552.8 L1227.8 590 L681.1 590 L681.1 567.9 Z" fill="#fff8e3"/>
<path d="M680 573.4C685 570.9 713 567.3 721.3 565.1C729.5 563 740.5 557.3 748.8 555.5C757 553.7 778.5 551 790 550C801.6 549 833.5 547.8 845 547.3C856.6 546.8 878 545.9 886.3 545.9C894.5 545.9 909.3 546.8 913.8 547.3C918.2 547.8 923.1 548.7 923.4 550C923.7 551.3 918.7 556.3 916.5 558.3C914.4 560.3 908.8 564.9 905.5 566.5C902.2 568.2 893 570.5 889 572C885.1 573.5 876.1 577.2 872.5 578.9C868.9 580.6 881.9 585 858.8 585.8C835.7 586.6 701.5 587.3 680 585.8C658.5 584.3 675 575.9 680 573.4Z" fill="#fde592"/>
<path d="M1076 558.3C1077 556.8 1087.3 555 1092.5 554.1C1097.8 553.3 1110.1 551.6 1120 551.4C1129.9 551.2 1162.2 552.3 1175 552.8C1187.9 553.3 1221 551.6 1227.3 555.5C1233.6 559.5 1242.8 582.1 1227.3 585.8C1211.8 589.4 1113.9 586.6 1098 585.8C1082.2 585 1096 580.6 1095.3 578.9C1094.6 577.2 1093.9 573.5 1092.5 572C1091.2 570.5 1086.3 568.2 1084.3 566.5C1082.3 564.9 1075 559.8 1076 558.3Z" fill="#fde592"/>
<path d="M927.5 583C913.8 581.7 924.5 573.7 926.1 572C927.8 570.4 936.2 569.9 941.3 569.3C946.4 568.6 962.2 567.2 968.8 566.5C975.4 565.9 989.7 563.8 996.3 563.8C1002.9 563.8 1018.8 565.5 1023.8 566.5C1028.7 567.5 1035.5 570 1037.5 572C1039.6 574 1054 581.7 1040.8 583C1027.6 584.3 941.3 584.3 927.5 583Z" fill="#ffffff"/>
<path d="M689.1 514.8C692.2 514.8 697.6 514.7 707.5 514.8C717.4 515 735 515.5 748.8 515.6C762.5 515.8 779.5 516 790 515.6C800.6 515.3 804.7 514.9 812 513.7C819.3 512.6 827.6 510.7 834 508.8C840.4 506.8 845.9 504.4 850.5 501.9C855.1 499.4 857.9 496.5 861.5 493.6C865.2 490.8 867.9 487.5 872.5 484.6C877.1 481.6 883.1 478.2 889 475.8C895 473.3 901.9 471.2 908.3 469.7C914.7 468.2 919.7 467.4 927.5 466.7C935.3 466 945.9 465.6 955 465.6C964.2 465.6 974.3 465.8 982.5 466.7C990.8 467.6 997.2 468.8 1004.5 470.8C1011.9 472.8 1020.1 475.6 1026.5 478.5C1033 481.4 1038 484.9 1043 488.1C1048.1 491.3 1051.7 495 1056.8 497.8C1061.8 500.5 1067.3 502.6 1073.3 504.6C1079.2 506.7 1085.7 508.6 1092.5 510.1C1099.4 511.7 1105.4 512.8 1114.5 513.7C1123.7 514.6 1135.2 515.1 1147.5 515.6C1159.9 516.2 1175.5 516.8 1188.8 517C1202.1 517.2 1220.9 517 1227.3 517" fill="none" stroke="#000" stroke-width="6.1" stroke-dasharray="13.3 13.7" stroke-dashoffset="-3" stroke-linecap="round"/>
</g>
<g clip-path="url(#cpc)">
<rect x="1217.8" y="48.8" width="534.2" height="535.2" fill="#ffffff"/>
<path d="M1210 40C1213.5 24.1 1235 41.2 1238.9 45.5C1242.9 49.8 1241.2 70.2 1243.1 75.8C1244.9 81.4 1250.5 88.4 1254.1 92.4C1257.7 96.3 1267.8 107.2 1273.4 108.9C1279 110.5 1294 106.5 1300.9 106.1C1307.9 105.8 1326.6 105.3 1331.2 106.1C1335.9 107 1338.5 109.4 1339.5 113C1340.5 116.7 1339.8 131 1339.5 136.4C1339.2 141.9 1339.1 155.7 1336.8 158.5C1334.4 161.3 1324.5 158.5 1320.2 159.9C1315.9 161.2 1305.9 166 1300.9 169.5C1296 173 1283.2 184.5 1278.9 188.8C1274.6 193.1 1268.4 202.5 1265.1 205.3C1261.8 208.1 1254.3 212.2 1251.3 212.2C1248.4 212.2 1243.3 208.6 1240.3 205.3C1237.3 202 1230.2 188 1226.5 184.7C1222.9 181.4 1212 195.1 1210 177.8C1208 160.4 1206.5 55.9 1210 40Z" fill="#f2f9fd"/>
<path d="M1339.5 159.9C1339.8 158.8 1353.8 157.8 1358.8 157.9C1363.8 158.1 1379.2 160 1380.8 161.2C1382.5 162.5 1375.6 167.5 1372.6 168.1C1369.6 168.8 1360 167.7 1356 166.8C1352.1 165.8 1339.2 160.9 1339.5 159.9Z" fill="#f2f9fd"/>
<path d="M1635.7 40C1640.8 35 1676 38 1681.8 40C1687.5 42 1683.8 51.6 1683.4 56.5C1683 61.5 1679.5 75.1 1678.4 81.3C1677.4 87.6 1676.3 105.7 1674.3 108.9C1672.3 112 1665.1 107.5 1661.9 107.5C1658.8 107.5 1650.8 112 1648.1 108.9C1645.5 105.7 1641.4 89.6 1639.9 81.3C1638.4 73.1 1630.7 45 1635.7 40Z" fill="#f2f9fd"/>
<path d="M1685.1 40C1690 36 1716.7 37.4 1722.5 40C1728.4 42.6 1729.3 58.4 1733.6 62C1737.9 65.7 1755.4 58.1 1758.4 70.3C1761.3 82.5 1761.3 153.8 1758.4 164C1755.4 174.3 1737.2 154.1 1733.6 155.7C1729.9 157.4 1729.4 173.1 1728 177.8C1726.7 182.4 1725.2 191.8 1722.5 194.3C1719.9 196.8 1710 197.5 1706 198.4C1702 199.4 1692.8 202.7 1689.5 202.6C1686.2 202.4 1680.4 200 1678.4 197.1C1676.5 194.1 1673.9 182.1 1672.9 177.8C1671.9 173.5 1670 166.2 1670.2 161.2C1670.3 156.3 1673.5 142.7 1674.3 136.4C1675.1 130.2 1675.9 116.5 1676.8 108.9C1677.7 101.3 1680.8 81.3 1681.8 73.1C1682.7 64.8 1680.2 44 1685.1 40Z" fill="#f2f9fd"/>
<path d="M1722.5 45.5C1725.8 43.5 1754.1 43.4 1758.4 45.5C1762.7 47.7 1760.3 60.8 1758.4 63.4C1756.4 66.1 1745.1 67.7 1741.8 67.6C1738.5 67.4 1733.1 64.7 1730.8 62C1728.5 59.4 1719.2 47.5 1722.5 45.5Z" fill="#d2ecf8"/>
<path d="M1606.8 51 L1617.3 51 L1615.1 61.5 Z" fill="#f2f9fd"/>
<path d="M1266.5 45.5C1270.4 43.2 1304.2 43.5 1308.6 45.5C1313.1 47.5 1305.9 59.2 1303.7 62C1301.4 64.9 1293.2 68.6 1289.9 68.9C1286.6 69.3 1278.9 67.6 1276.1 64.8C1273.3 62 1262.6 47.8 1266.5 45.5Z" fill="#fff8e3"/>
<path d="M1215.5 255.5C1218.8 254.9 1237.8 250.5 1243.1 250.8C1248.4 251.1 1253.6 257 1259.6 257.7C1265.6 258.4 1286.1 255.7 1292.7 256.3C1299.3 257 1310.1 261.4 1314.7 263.2C1319.3 265 1325.6 270 1331.2 271.5C1336.9 273 1353 275.3 1361.6 275.6C1370.2 275.9 1396.6 276 1402.9 274.2C1409.2 272.4 1411.6 263.4 1413.9 260.4C1416.2 257.5 1423.5 253.7 1422.2 249.4C1420.9 245.1 1405.7 231.1 1402.9 224.6C1400.1 218.2 1398.8 200.7 1398.8 195.7C1398.8 190.7 1400.1 187.4 1402.9 183.3C1405.7 179.2 1419.9 169.3 1422.2 161.2C1424.5 153.1 1420.5 122.1 1422.2 115.8C1423.8 109.5 1433 111.4 1436 108.9C1438.9 106.4 1444.3 97.3 1447 95.1C1449.6 93 1454.7 90.5 1458 91C1461.3 91.5 1470.2 97.6 1474.5 99.2C1478.8 100.9 1489.2 103.8 1493.8 104.8C1498.5 105.7 1509.5 107.7 1513.1 107.5C1516.8 107.3 1521 106.2 1524.1 103.4C1527.3 100.6 1534.3 84.4 1539.3 84.1C1544.3 83.8 1562 96.7 1565.5 100.6C1568.9 104.6 1568.9 112.5 1568.2 117.2C1567.6 121.8 1562.3 134.9 1560 139.2C1557.6 143.5 1551.6 150.3 1548.9 153C1546.3 155.6 1540.6 158.6 1537.9 161.2C1535.3 163.9 1530.2 174.2 1526.9 175C1523.6 175.9 1515.3 169.1 1510.4 168.1C1505.4 167.1 1492.8 166.4 1485.6 166.8C1478.3 167.1 1454.5 169.6 1449.7 170.9C1444.9 172.2 1446.3 174.6 1445.6 177.8C1444.9 180.9 1443.2 193.1 1443.7 197.1C1444.2 201 1448 207.2 1449.7 210.8C1451.5 214.5 1455.4 224.2 1458 227.4C1460.6 230.5 1468.5 235.5 1471.8 237C1475.1 238.5 1480.6 240.4 1485.6 239.8C1490.5 239.1 1507.7 234.1 1513.1 231.5C1518.6 229 1527.7 219.1 1531 218.6C1534.3 218.1 1537.9 224 1540.7 227.4C1543.5 230.8 1551.1 241.7 1554.4 246.7C1557.8 251.6 1565.6 265.4 1568.2 268.7C1570.9 272 1573.2 273.2 1576.5 274.2C1579.8 275.2 1590.2 277 1595.8 277C1601.4 277 1618 275.5 1623.3 274.2C1628.6 272.9 1634.9 267.3 1639.9 266C1644.8 264.6 1658.4 262.7 1664.7 262.7C1671 262.7 1685.6 264.6 1692.2 266C1698.8 267.3 1712.5 272.6 1719.8 274.2C1727.1 275.8 1748.9 278.6 1752.8 279.2L1758 279.2 L1758 590 L1211.8 590 L1211.8 255.5 Z" fill="#f2f9fd"/>
<path d="M1215.5 300.4C1218.8 298.9 1237.1 289.8 1243.1 288C1249 286.2 1259.2 285.6 1265.1 285.2C1271.1 284.8 1286.1 284 1292.7 284.7C1299.3 285.4 1313.6 289 1320.2 290.8C1326.8 292.5 1341.2 297.4 1347.8 299C1354.4 300.6 1368.7 303.2 1375.3 304C1381.9 304.8 1396.3 305.8 1402.9 305.9C1409.5 306 1423.8 305.6 1430.4 305.1C1437.1 304.6 1451.4 302.2 1458 301.8C1464.6 301.4 1478.9 301.5 1485.6 301.8C1492.2 302 1506.5 303.4 1513.1 304C1519.7 304.6 1534.1 306.3 1540.7 306.7C1547.3 307.1 1561.6 307.3 1568.2 307.3C1574.8 307.3 1589.2 307.4 1595.8 306.7C1602.4 306.1 1616.7 303.2 1623.3 301.8C1630 300.4 1644.3 296.3 1650.9 294.9C1657.5 293.5 1671.8 290.9 1678.4 290.2C1685.1 289.5 1697.1 289.1 1706 289.4C1714.9 289.6 1747.2 292 1752.8 292.4L1758 292.4 L1758 590 L1211.8 590 L1211.8 300.4 Z" fill="#d2ecf8"/>
<path d="M1215.5 321.6C1218.8 320.1 1237.1 310.9 1243.1 308.7C1249 306.5 1258.5 303.8 1265.1 303.2C1271.7 302.5 1291.6 302.3 1298.2 303.2C1304.8 304 1314.3 308.2 1320.2 310C1326.2 311.9 1341.2 316.7 1347.8 318.3C1354.4 319.9 1367.1 322.3 1375.3 323.3C1383.6 324.3 1406.7 326.2 1416.7 326.6C1426.6 326.9 1449.7 326.2 1458 326C1466.3 325.9 1478.9 325 1485.6 325.2C1492.2 325.4 1504.8 327.5 1513.1 328C1521.4 328.5 1544.5 329.5 1554.4 329.3C1564.4 329.2 1587.5 327.6 1595.8 326.6C1604 325.6 1616.7 322.7 1623.3 321.1C1630 319.4 1644.3 314.4 1650.9 312.8C1657.5 311.2 1671.8 308.6 1678.4 307.8C1685.1 307.1 1697.1 306.4 1706 306.7C1714.9 307.1 1747.2 310.1 1752.8 310.6L1758 310.6 L1758 590 L1211.8 590 L1211.8 321.6 Z" fill="#a3dbf5"/>
<path d="M1199 366.3C1201.8 355.6 1216.1 367.4 1222.4 368.5C1228.6 369.6 1243.8 374.8 1251.3 375.4C1258.7 376 1276 372.8 1284.3 373.5C1292.5 374.1 1310.8 379.3 1320 380.9C1329.3 382.4 1353 385.3 1361.3 386.4C1369.5 387.5 1384.7 389 1388.8 390C1392.8 390.9 1394.7 392.6 1394.8 394.6C1395 396.7 1392.5 404.2 1390.1 407C1387.8 409.8 1380.1 415 1375 418C1369.9 421 1354.1 428.5 1347.5 431.8C1340.9 435.1 1326.6 442.7 1320 445.5C1313.4 448.3 1300.8 453.6 1292.5 455.1C1284.3 456.7 1259.7 458.4 1251.3 458.7C1242.8 459 1228.6 458 1222.4 457.9C1216.1 457.8 1201.8 468.9 1199 457.9C1196.2 446.9 1196.2 377 1199 366.3Z" fill="#6fb3de"/>
<path d="M1592.3 397.4C1594.4 395.7 1603.5 392.3 1608.8 390.5C1614.1 388.7 1630.7 384 1636.3 382.3C1641.9 380.5 1650.6 377.3 1655.5 376.2C1660.5 375.1 1670 373.6 1677.5 373.5C1685.1 373.4 1710.2 374.8 1718.8 375.4C1727.4 375.9 1742.8 377.6 1749.1 378.1C1755.3 378.6 1768.4 369.8 1771.1 379.5C1773.7 389.2 1773.7 449.6 1771.1 459.3C1768.4 468.9 1753.7 459.5 1749.1 459.8C1744.4 460.1 1737.8 461.5 1732.6 461.5C1727.3 461.4 1711.7 460.2 1705 459.3C1698.4 458.3 1684.1 455.7 1677.5 453.8C1670.9 451.8 1656.6 445.4 1650 442.8C1643.4 440.1 1628.2 434.7 1622.5 431.8C1616.9 428.8 1607.1 421.3 1603.3 418C1599.5 414.7 1592.2 406.7 1590.9 404.3C1589.6 401.8 1590.1 399 1592.3 397.4Z" fill="#6fb3de"/>
<path d="M1215.5 467C1219.8 467.5 1242 470.7 1251.3 471.6C1260.5 472.5 1283.6 474.7 1292.5 474.4C1301.4 474.1 1318.3 470.7 1325.5 468.9C1332.8 467.1 1347.1 461.7 1353 459.3C1359 456.8 1369.1 450.7 1375 448.3C1381 445.8 1397.2 440.9 1402.5 438.6C1407.8 436.3 1415.7 431.5 1419 429C1422.3 426.5 1426.7 420.3 1430 418C1433.3 415.7 1441.6 411.1 1446.5 409.8C1451.5 408.4 1465 407.3 1471.3 407C1477.5 406.7 1492.5 407.1 1498.8 407.6C1505 408.1 1518.6 409.9 1523.5 411.1C1528.5 412.4 1536.4 415.5 1540 418C1543.7 420.5 1550.5 429.1 1553.8 431.8C1557.1 434.4 1562.6 437.7 1567.5 440C1572.5 442.3 1589.1 447.7 1595 451C1601 454.3 1613.9 464.9 1617 467.5C1620.2 470.2 1621.3 470.4 1621.2 473C1621 475.7 1613.9 486.4 1615.7 489.5C1617.5 492.7 1630.5 497.4 1636.3 499.1C1642.1 500.9 1655.5 503.5 1663.8 503.8C1672 504.1 1694.2 502.8 1705 501.9C1715.9 500.9 1748.6 496.6 1754.6 495.8L1758 495.8 L1758 590 L1211.8 590 L1211.8 467 Z" fill="#d2ecf8"/>
<path d="M1215.5 473.8C1219.8 474.2 1242 476.2 1251.3 477.1C1260.5 478 1282.6 480.9 1292.5 481.3C1302.4 481.6 1326.2 480.9 1333.8 479.9C1341.4 478.9 1350.8 475.2 1355.8 473C1360.7 470.9 1370.1 465 1375 462C1380 459 1391.4 451.2 1397 448.3C1402.6 445.3 1417.2 439.9 1421.8 437.3C1426.4 434.6 1431.2 427.9 1435.5 426.3C1439.8 424.6 1451.6 424 1457.5 423.5C1463.5 423 1478.4 422.1 1485 422.1C1491.6 422.1 1506.6 422.8 1512.5 423.5C1518.5 424.2 1530.6 425.7 1534.5 427.6C1538.5 429.6 1541.6 437.5 1545.5 440C1549.5 442.5 1562.3 445.6 1567.5 448.3C1572.8 450.9 1586.6 458.7 1589.5 462C1592.5 465.3 1591.6 472.1 1592.3 475.8C1592.9 479.4 1592.4 489 1595 492.3C1597.7 495.6 1607.7 501.3 1614.3 503.3C1620.9 505.2 1639.2 508.2 1650 508.8C1660.9 509.4 1692.5 508.8 1705 508.2C1717.6 507.7 1748.6 504.6 1754.6 504.1L1758 504.1 L1758 590 L1211.8 590 L1211.8 473.8 Z" fill="#f2f9fd"/>
<path d="M1215.5 479.3C1219.8 479.7 1242 481.4 1251.3 482.6C1260.5 483.9 1282.6 488.5 1292.5 489.5C1302.4 490.5 1325.5 491.1 1333.8 490.9C1342 490.7 1355.7 490 1361.3 488.1C1366.9 486.3 1376.2 478.9 1380.5 475.8C1384.8 472.6 1391.7 465 1397 462C1402.3 459 1417.9 453.7 1424.5 451C1431.1 448.4 1446.4 441 1452 440C1457.6 439 1465.7 442.1 1471.3 442.8C1476.9 443.4 1492.2 445.2 1498.8 445.5C1505.4 445.8 1519.7 444.5 1526.3 445.5C1532.9 446.5 1548.2 451.5 1553.8 453.8C1559.4 456.1 1570.1 461.1 1573 464.8C1576 468.4 1575.9 479.7 1578.5 484C1581.2 488.3 1589.8 497.2 1595 500.5C1600.3 503.8 1614.3 509.8 1622.5 511.5C1630.8 513.2 1653.9 514.6 1663.8 514.8C1673.7 515.1 1694.2 514.3 1705 513.7C1715.9 513.1 1748.6 510.1 1754.6 509.6L1758 509.6 L1758 590 L1211.8 590 L1211.8 479.3 Z" fill="#ffffff"/>
<path d="M1215.5 490.1C1218.1 489.7 1231.6 486.8 1237.5 486.8C1243.4 486.7 1258.4 488.5 1265 489.5C1271.6 490.5 1285.9 494.1 1292.5 495C1299.1 495.9 1313.4 497.1 1320 497.2C1326.6 497.4 1340.9 497.2 1347.5 496.4C1354.1 495.6 1370.1 492.9 1375 490.9C1380 488.9 1385.5 482.9 1388.8 479.9C1392.1 476.9 1398.2 468.9 1402.5 466.1C1406.8 463.4 1418.6 458.5 1424.5 457.1C1430.5 455.6 1444.8 454.8 1452 454.3C1459.3 453.8 1477.8 452.9 1485 452.9C1492.3 452.9 1505.9 453.6 1512.5 454.3C1519.1 455.1 1534.8 457.3 1540 459.3C1545.3 461.2 1554.1 467.3 1556.5 470.3C1559 473.2 1559.7 480.7 1560.7 484C1561.7 487.3 1562.3 494.8 1564.8 497.8C1567.3 500.7 1576 506.4 1581.3 508.8C1586.6 511.1 1600.5 515.9 1608.8 517.6C1617 519.2 1638.5 522.1 1650 522.5C1661.6 522.9 1692.5 521.7 1705 521.1C1717.6 520.6 1748.6 518.5 1754.6 518.1L1758 518.1 L1758 590 L1211.8 590 L1211.8 490.1 Z" fill="#fff8e3"/>
<path d="M1215.5 495.6C1218.1 495.2 1231.6 492.5 1237.5 492.3C1243.4 492 1258.4 492.8 1265 493.6C1271.6 494.5 1285.9 498.2 1292.5 499.1C1299.1 500.1 1313.4 501.7 1320 501.9C1326.6 502.1 1340.9 501.3 1347.5 500.5C1354.1 499.7 1370.1 497 1375 495C1380 493 1385.5 487 1388.8 484C1392.1 481 1398.2 472.9 1402.5 470.3C1406.8 467.6 1418.6 463.5 1424.5 462C1430.5 460.5 1444.8 458.6 1452 457.9C1459.3 457.2 1477.8 456 1485 456C1492.3 456 1505.9 456.8 1512.5 457.9C1519.1 458.9 1535.1 462.3 1540 464.8C1545 467.2 1552.1 474.9 1553.8 478.5C1555.4 482.1 1552.8 492 1553.8 495C1554.8 498 1558.7 501.1 1562 503.3C1565.3 505.4 1575.7 510.7 1581.3 512.9C1586.9 515 1600.5 519.6 1608.8 521.1C1617 522.7 1638.5 525.5 1650 525.8C1661.6 526.1 1692.5 524.5 1705 523.9C1717.6 523.3 1748.6 521.2 1754.6 520.9L1758 520.9 L1758 590 L1211.8 590 L1211.8 495.6 Z" fill="#fde592"/>
<path d="M1199 535.7C1201.8 528.6 1217.8 535.3 1222.4 534.9C1227 534.5 1230.7 533 1237.5 532.7C1244.3 532.4 1268.9 531.9 1278.8 532.1C1288.7 532.4 1311.8 534.1 1320 534.9C1328.3 535.7 1341.9 537.7 1347.5 539C1353.1 540.3 1363.8 544.4 1366.8 545.9C1369.7 547.4 1372.6 549.6 1372.3 551.4C1371.9 553.2 1367 558.5 1364 561C1361 563.5 1351.1 569.7 1347.5 572C1343.9 574.3 1336.4 577.6 1333.8 580.3C1331.1 582.9 1341.7 592.4 1325.5 594C1309.3 595.7 1214.2 601 1199 594C1183.8 587 1196.2 542.8 1199 535.7Z" fill="#fdb945"/>
<path d="M1474 585.8C1450.3 585.1 1479.3 581.6 1482.3 580.3C1485.2 579 1493.5 575.9 1498.8 574.8C1504.1 573.6 1518 571 1526.3 570.6C1534.5 570.3 1556 571.7 1567.5 572C1579.1 572.4 1612.6 573.1 1622.5 573.4C1632.4 573.7 1644.1 573.9 1650 574.8C1656 575.6 1668.4 579 1672 580.3C1675.7 581.6 1704.1 585.1 1680.3 585.8C1656.5 586.4 1497.8 586.4 1474 585.8Z" fill="#fff8e3"/>
<path d="M1507 584.4C1495.5 583.6 1520.7 578.5 1526.3 577.5C1531.9 576.5 1545.5 576.1 1553.8 576.1C1562 576.1 1587.4 577.1 1595 577.5C1602.6 578 1613.7 578.9 1617 579.7C1620.3 580.6 1635.7 583.8 1622.5 584.4C1609.3 585 1518.6 585.2 1507 584.4Z" fill="#ffffff"/>
<path d="M1219.8 515.4C1225 515.3 1241.4 514.8 1251.3 514.8C1261.1 514.9 1267.3 515.5 1278.8 515.6C1290.2 515.8 1309.5 516.2 1320 515.9C1330.6 515.6 1334.7 514.9 1342 513.7C1349.3 512.5 1357.6 510.6 1364 508.8C1370.4 506.9 1375.9 505 1380.5 502.7C1385.1 500.4 1387.9 497.9 1391.5 495C1395.2 492.1 1397.9 488.5 1402.5 485.4C1407.1 482.3 1413.1 478.8 1419 476.3C1425 473.8 1431.9 471.9 1438.3 470.3C1444.7 468.7 1449.7 467.5 1457.5 466.7C1465.3 465.9 1475.9 465.6 1485 465.6C1494.2 465.6 1504.3 465.9 1512.5 466.7C1520.8 467.5 1527.7 468.5 1534.5 470.3C1541.4 472 1547.8 474.6 1553.8 477.1C1559.7 479.7 1564.8 482.2 1570.3 485.4C1575.8 488.6 1580.8 493 1586.8 496.4C1592.7 499.7 1599.2 502.9 1606 505.5C1612.9 508 1620.7 510 1628 511.5C1635.4 513.1 1641.8 514.1 1650 514.8C1658.3 515.6 1666.1 515.6 1677.5 515.9C1689 516.3 1705.5 516.7 1718.8 517C1732.1 517.3 1750.9 517.7 1757.3 517.8" fill="none" stroke="#000" stroke-width="6.1" stroke-dasharray="13.3 13.7" stroke-dashoffset="-3" stroke-linecap="round"/>
</g>
<g clip-path="url(#cpd)">
<rect x="156.9" y="736.3" width="539.2" height="537.7" fill="#ff9933"/>
<path d="M206.5 730.5C194.1 732.8 219.9 746.4 224.4 749.8C228.9 753.2 238.7 757.3 243.7 758.6C248.6 759.9 260.4 761.2 265.7 760.8C271 760.5 282.5 757.5 287.8 755.9C293.1 754.2 305 750.1 309.8 747C314.6 744 340.1 732.5 327.7 730.5C315.3 728.5 218.9 728.2 206.5 730.5Z" fill="#ffae33"/>
<path d="M560.6 733.3C556.6 734.3 569 740.8 571.6 742.1C574.2 743.4 580 744.3 582.6 744.3C585.3 744.3 591 743.4 593.6 742.1C596.3 740.8 608.6 734.3 604.7 733.3C600.7 732.2 564.5 732.2 560.6 733.3Z" fill="#ffae33"/>
<path d="M645.5 738.8 L654.8 738.8 L650.7 746.5 Z" fill="#ffffff"/>
<path d="M150 920.6C155 920.3 184.1 918.7 191.3 917.9C198.6 917.1 206 916.1 210.6 913.8C215.3 911.4 225.6 902.2 229.9 898.6C234.2 895 244.1 887.7 246.4 883.4C248.8 879.1 248.3 866.8 249.2 862.8C250.1 858.7 250.5 852.5 254.2 849.6C257.8 846.6 273.5 841.5 279.5 838C285.5 834.4 299 824.2 304.3 820.1C309.6 815.9 319 806.5 323.6 803.5C328.2 800.6 337.3 797.3 342.9 795.3C348.5 793.3 363.8 788.5 370.4 787C377.1 785.5 389.7 783.5 398 782.9C406.3 782.2 429.4 781.4 439.3 781.5C449.3 781.6 472.4 782.4 480.7 783.4C488.9 784.4 501.6 788 508.2 789.8C514.8 791.5 530.8 796.4 535.8 798C540.7 799.7 546.3 801.4 549.6 803.5C552.9 805.7 559 812.5 563.3 815.9C567.6 819.4 580.1 828.5 585.4 832.5C590.7 836.4 604.5 845 607.4 849C610.4 853 609.4 861.4 610.2 865.5C611 869.7 612.7 879.8 614.3 883.4C616 887.1 620.8 893.5 624 895.8C627.1 898.2 636.2 901.5 640.5 902.7C644.8 904 652.5 905.8 659.8 906.3C667.1 906.8 696.2 906.8 701.1 906.9L702.1 906.9 L702.1 1280 L150.9 1280 L150.9 920.6 Z" fill="#ff6e33"/>
<path d="M133.5 997.3C136.8 991.8 155.1 997.4 161 997.3C167 997.2 178.1 996 183.1 996.4C188 996.8 197.7 1001.4 202.4 1000.6C207 999.7 216.4 992.2 221.6 989.5C226.9 986.9 240.8 980.8 246.4 978.5C252.1 976.2 264.2 972.2 268.5 970.2C272.8 968.3 280 964.6 282.3 962C284.6 959.3 286.6 951.2 287.8 948.2C288.9 945.2 288.6 940.2 291.9 937.2C295.2 934.2 309.2 926.7 315.3 923.4C321.5 920.1 336.3 912 342.9 909.6C349.5 907.2 363.8 904.7 370.4 903.6C377.1 902.5 389.7 901 398 900.5C406.3 900 429.4 899.3 439.3 899.4C449.3 899.5 472.4 900.5 480.7 901.4C488.9 902.2 501.6 905.2 508.2 906.9C514.8 908.5 529.2 912.5 535.8 915.1C542.4 917.8 557.9 926.1 563.3 928.9C568.8 931.7 578.6 936.2 581.2 938.6C583.9 940.9 583.9 945.4 585.4 948.2C586.9 951 590.3 958.8 593.6 962C597 965.1 608.3 971.7 612.9 974.4C617.6 977 628.3 981.8 632.2 984C636.2 986.2 642.7 991.4 646 992.8C649.3 994.3 657.1 995.2 659.8 996.4C662.4 997.7 665.9 1000.5 668 1003.3C670.2 1006.1 678.7 1017.4 677.7 1019.8C676.7 1022.3 665.2 1023.3 659.8 1024C654.3 1024.7 637.8 1024.9 632.2 1025.9C626.6 1026.9 617.9 1030 612.9 1032.2C608 1034.5 595.5 1042 590.9 1044.6C586.3 1047.3 581 1053.1 574.4 1054.3C567.7 1055.4 547 1054.5 535.8 1054.3C524.5 1054.1 493.9 1052.8 480.7 1052.9C467.4 1053 438.8 1055 425.6 1055.1C412.3 1055.3 380.4 1054.6 370.4 1054.3C360.5 1054 353.8 1053.2 342.9 1052.9C332 1052.6 288.8 1052.2 279.5 1051.5C270.3 1050.9 269 1048.9 265.7 1047.4C262.4 1045.9 255.9 1040.3 252 1039.1C248 1038 237.6 1038.4 232.7 1037.8C227.7 1037.2 215.6 1033.8 210.6 1034.2C205.7 1034.5 197.3 1039.5 191.3 1040.5C185.4 1041.5 168 1042.2 161 1042.4C154.1 1042.7 136.8 1047.9 133.5 1042.4C130.2 1037 130.2 1002.7 133.5 997.3Z" fill="#e6291f"/>
<path d="M698.4 970.2 L684.6 982.6 L698.4 996.4 Z" fill="#e6291f"/>
<path d="M150 1064.8C155 1065.1 181.4 1066.6 191.3 1067.3C201.2 1068 222.6 1070.5 232.5 1070.9C242.4 1071.2 263.9 1070.8 273.8 1070.3C283.7 1069.8 306.8 1067.5 315 1066.8C323.3 1066 334.3 1064.2 342.5 1064C350.8 1063.8 373.9 1065 383.8 1065.4C393.7 1065.7 413.5 1066.6 425 1066.8C436.6 1066.9 468.5 1066.9 480 1066.8C491.6 1066.6 511.4 1065 521.3 1065.4C531.2 1065.7 554.3 1069.5 562.5 1069.5C570.8 1069.5 583.4 1067 590 1065.4C596.6 1063.7 609.3 1057.6 617.5 1055.8C625.8 1053.9 648.9 1051.3 658.8 1050.3C668.7 1049.2 695.1 1047.3 700.1 1047L702.1 1047 L702.1 1280 L150.9 1280 L150.9 1064.8 Z" fill="#ff9933"/>
<path d="M150 1085.5C155 1085 181.4 1082 191.3 1081.9C201.2 1081.8 222.6 1084.3 232.5 1084.6C242.4 1085 263.9 1085.3 273.8 1084.6C283.7 1084 305.1 1080 315 1079.1C324.9 1078.2 346.4 1077 356.3 1077.2C366.2 1077.4 387.6 1080.5 397.5 1081.1C407.4 1081.6 428.9 1082.1 438.8 1081.9C448.7 1081.7 470.1 1079.5 480 1079.1C489.9 1078.8 511.4 1078.5 521.3 1079.1C531.2 1079.8 554.3 1084.3 562.5 1084.6C570.8 1085 581.8 1083 590 1081.9C598.3 1080.7 618.1 1076.2 631.3 1075C644.5 1073.8 691.8 1072.1 700.1 1071.7L702.1 1071.7 L702.1 1280 L150.9 1280 L150.9 1085.5 Z" fill="#ffae33"/>
<path d="M150 1093.2C155 1093 181.4 1091.2 191.3 1091.5C201.2 1091.8 222.6 1095.5 232.5 1095.6C242.4 1095.8 263.9 1094 273.8 1092.9C283.7 1091.7 305.1 1087 315 1086C324.9 1085 346.4 1084.1 356.3 1084.6C366.2 1085.1 387.6 1089.3 397.5 1090.1C407.4 1091 428.9 1091.7 438.8 1091.5C448.7 1091.3 470.1 1089.1 480 1088.8C489.9 1088.4 511.4 1088.4 521.3 1088.8C531.2 1089.2 552.6 1092.1 562.5 1092.1C572.4 1092.1 593.9 1089.6 603.8 1088.8C613.7 1087.9 633.5 1085.3 645 1084.6C656.6 1083.9 693.5 1083.2 700.1 1083L702.1 1083 L702.1 1280 L150.9 1280 L150.9 1093.2 Z" fill="#ffcc33"/>
<path d="M150 1098.7C155 1098.5 183 1096.7 191.3 1097C199.5 1097.3 210.5 1101.1 218.8 1101.1C227 1101.1 248.5 1098.3 260 1097C271.6 1095.7 303.5 1091.2 315 1090.1C326.6 1089.1 346.4 1087.8 356.3 1088.2C366.2 1088.6 387.6 1092.9 397.5 1093.7C407.4 1094.5 428.9 1095 438.8 1094.8C448.7 1094.6 470.1 1092.4 480 1092.1C489.9 1091.7 511.4 1091.7 521.3 1092.1C531.2 1092.4 552.6 1094.8 562.5 1094.8C572.4 1094.8 593.9 1092.8 603.8 1092.1C613.7 1091.3 633.5 1088.9 645 1088.2C656.6 1087.5 693.5 1086.5 700.1 1086.3L702.1 1086.3 L702.1 1280 L150.9 1280 L150.9 1098.7 Z" fill="#ffffff" stroke="#fff4cc" stroke-width="2.5" stroke-linejoin="round"/>
<path d="M141 1138.8C143.4 1130.1 156 1139 161.2 1139.2C166.5 1139.5 178.6 1141.1 184.5 1140.7C190.3 1140.4 203.3 1137.3 210 1136.2C216.7 1135.2 233.7 1133.1 240 1131.7C246.3 1130.4 257.1 1126.3 262.5 1125C267.9 1123.7 281.4 1122.3 285 1121.2C288.6 1120.2 290.7 1117.1 292.5 1116C294.3 1114.9 297.7 1113.3 300 1112.2C302.3 1111.2 308.4 1108 312 1107C315.6 1106 325.1 1104.6 330 1104C334.9 1103.4 348.5 1101.5 352.5 1101.7C356.4 1102 361 1104.8 363 1106.2C365 1107.7 367 1112.2 369 1113.7C371 1115.3 375.2 1118.2 379.5 1119C383.8 1119.8 405.5 1120.3 405 1120.8C404.4 1121.3 381.3 1122.8 375 1123.5C368.7 1124.2 357 1125.7 352.5 1126.8C348 1127.9 341.1 1130.7 337.5 1132.5C333.9 1134.3 326.1 1139.3 322.5 1141.5C318.9 1143.7 310.2 1148.3 307.5 1150.5C304.8 1152.7 300.5 1157.2 300 1159.5C299.5 1161.8 302.3 1167.7 303 1170C303.7 1172.3 307.1 1177.2 306 1179C304.9 1180.8 298.3 1183.9 294 1185C289.7 1186.1 275 1187.1 270 1188C265 1188.9 257.8 1191.1 252 1192.5C246.2 1193.8 229.9 1197.7 222 1199.2C214.1 1200.8 193.3 1204 186 1205.2C178.7 1206.4 166.6 1208.5 161.2 1209.3C155.8 1210.1 143.4 1220.5 141 1212C138.6 1203.5 138.6 1147.5 141 1138.8Z" fill="#ffcc33" stroke="#fff4cc" stroke-width="3" stroke-linejoin="round"/>
<path d="M141 1222.5C143.4 1222 156 1219.7 161.2 1218.3C166.5 1216.9 177.7 1212.4 184.5 1210.8C191.2 1209.2 209 1206.4 217.5 1205.2C226 1204 247.8 1201 255 1200.7C262.2 1200.5 273 1202.6 277.5 1203C282 1203.4 288.9 1203.7 292.5 1203.7C296.1 1203.8 303 1203.9 307.5 1203.3C312 1202.7 324.6 1199.7 330 1198.5C335.4 1197.3 347.1 1194.1 352.5 1193.2C357.9 1192.4 366.9 1192.1 375 1191.7C383.1 1191.4 411.6 1190.2 420 1190.2C428.4 1190.3 436.6 1192.3 445 1192.5C453.4 1192.7 481 1191.9 490 1191.7C499 1191.6 514.2 1191.4 520 1191C525.8 1190.6 533.5 1189.6 538 1188.7C542.5 1187.8 553.9 1185 557.5 1183.5C561.1 1182 565.7 1177.8 568 1176C570.3 1174.2 574.8 1170.2 577 1168.5C579.2 1166.8 586 1163.2 586 1161.7C586 1160.3 579.5 1158 577 1156.5C574.5 1155 568.2 1150.8 565 1149C561.8 1147.2 553.6 1143.1 550 1141.5C546.4 1139.9 538.6 1136.8 535 1135.5C531.4 1134.2 525.4 1132 520 1131C514.6 1130 497.2 1128.1 490 1127.2C482.8 1126.3 466.3 1124.3 460 1123.5C453.7 1122.7 437.5 1121.5 437.5 1120.8C437.5 1120.1 454.6 1118.3 460 1117.5C465.4 1116.7 478 1114.6 482.5 1113.7C487 1112.8 494.6 1110.8 497.5 1110C500.4 1109.2 504.2 1106.7 506.5 1107C508.8 1107.3 513.6 1111 517 1112.2C520.4 1113.5 530.1 1116.1 535 1117.5C539.9 1118.8 552.1 1122.4 557.5 1123.5C562.9 1124.6 573.7 1125.8 580 1126.5C586.3 1127.2 602.8 1129 610 1129.5C617.2 1129.9 632.8 1130.6 640 1130.2C647.2 1129.9 662.6 1127.3 670 1126.5C677.4 1125.7 697.7 1123.9 701.5 1123.5L702.1 1123.5 L702.1 1280 L150.9 1280 L150.9 1222.5 Z" fill="#ffcc33" stroke="#fff4cc" stroke-width="3" stroke-linejoin="round"/>
<path d="M395.5 1170.7C395.5 1170.1 395.9 1168.9 400 1168.5C404.1 1168 422.8 1167.1 430 1167C437.2 1166.9 453.9 1167.3 460 1167.7C466.1 1168.1 480.1 1169.6 481 1170.3C481.9 1171 472.7 1173.2 467.5 1173.7C462.3 1174.2 445.6 1174.5 437.5 1174.5C429.4 1174.5 405 1174.2 400 1173.7C395 1173.3 395.5 1171.4 395.5 1170.7Z" fill="#ffcc33" stroke="#fff4cc" stroke-width="3" stroke-linejoin="round"/>
<path d="M141 1143C143.4 1137.1 156 1142.8 161.2 1143C166.5 1143.2 178.6 1144.9 184.5 1144.5C190.3 1144.1 203.3 1141.1 210 1140C216.7 1138.9 233.2 1136.9 240 1135.5C246.8 1134.1 261.2 1129.3 267 1128C272.8 1126.6 284 1125.5 288 1124.2C292 1123 296.8 1118.9 300 1117.5C303.2 1116.1 310.5 1113.4 315 1112.2C319.5 1111.1 333 1108.6 337.5 1107.7C342 1106.8 349.8 1104.5 352.5 1104.7C355.2 1105 358.9 1108.5 360 1110C361.1 1111.5 363.3 1115.7 361.5 1117.5C359.7 1119.3 349.7 1123.6 345 1125C340.3 1126.4 327.9 1127.7 322.5 1129.5C317.1 1131.3 304.1 1137.5 300 1140C295.9 1142.5 290 1147.6 288 1150.5C286 1153.4 284 1161.5 283.5 1164C283 1166.5 285.1 1169.9 283.5 1171.5C281.9 1173.1 274.3 1176.2 270 1177.5C265.7 1178.8 252.9 1180.7 247.5 1182C242.1 1183.3 231.3 1186.8 225 1188C218.7 1189.2 202.6 1191.2 195 1191.7C187.3 1192.3 167.7 1192.4 161.2 1192.5C154.8 1192.6 143.4 1198.4 141 1192.5C138.6 1186.6 138.6 1148.9 141 1143Z" fill="#ffae33"/>
<path d="M208.5 1152C208.1 1150.4 210.7 1146.3 214.5 1144.5C218.3 1142.7 233.3 1138.6 240 1137C246.7 1135.4 263.7 1132 270 1131C276.3 1130 289.1 1128.7 292.5 1128.7C295.9 1128.7 298.9 1129.6 298.5 1131C298.1 1132.3 292 1138 289.5 1140C287 1142 280.7 1145.9 277.5 1147.5C274.3 1149.1 267 1152.1 262.5 1153.5C258 1154.9 245.4 1159 240 1159.5C234.6 1160 221.3 1158.9 217.5 1158C213.7 1157.1 208.9 1153.6 208.5 1152Z" fill="#ff9933"/>
<path d="M240 1142.2C240 1141.3 251.4 1138.6 255 1138.5C258.6 1138.4 270 1140.5 270 1141.5C270 1142.5 258.6 1146.7 255 1146.7C251.4 1146.8 240 1143.2 240 1142.2Z" fill="#ff6e33"/>
<path d="M150 1155.7C152.7 1153.2 168.9 1157.3 172.5 1158C176.1 1158.7 180.4 1160.3 180 1161.7C179.6 1163.2 170.2 1168.1 169.5 1170C168.8 1171.9 176.3 1176.4 174 1177.5C171.7 1178.6 152.9 1181.9 150 1179.3C147.1 1176.7 147.3 1158.3 150 1155.7Z" fill="#ff9933"/>
<path d="M568 1131.7C569.8 1130.6 582.5 1130.2 587.5 1130.2C592.5 1130.3 603.7 1132.1 610 1132.5C616.3 1132.9 632.8 1133.5 640 1133.2C647.2 1133 662.6 1130.9 670 1130.2C677.4 1129.6 697.7 1121.7 701.5 1127.7C705.3 1133.7 705.3 1174.2 701.5 1180.2C697.7 1186.2 676.5 1178 670 1177.5C663.5 1177 651.6 1176.9 647.5 1176C643.3 1175.1 638.2 1171.4 635.5 1170C632.8 1168.6 628.9 1165.8 625 1164C621 1162.2 607 1157 602.5 1155C598 1153 591.1 1149.3 587.5 1147.5C583.9 1145.7 574.8 1141.9 572.5 1140C570.2 1138.1 566.2 1132.9 568 1131.7Z" fill="#ffae33"/>
<path d="M598 1141.5C598 1140.5 618.1 1138.5 625 1137.7C631.8 1137 648.7 1135.9 655 1135.5C661.3 1135.1 671.9 1135 677.5 1134.7C683.1 1134.5 698.6 1131.6 701.5 1133.7C704.4 1135.8 705.3 1150.3 701.5 1152.3C697.7 1154.3 676.5 1150.9 670 1150.5C663.5 1150.1 652.9 1149.5 647.5 1149C642.1 1148.5 630.9 1146.9 625 1146C619 1145.1 598 1142.5 598 1141.5Z" fill="#ff9933"/>
<path d="M664 1142.2C664 1141.3 673 1139.2 677.5 1138.5C682 1137.8 698.6 1135.6 701.5 1136.7C704.4 1137.8 704.4 1146.6 701.5 1147.8C698.6 1149 682 1147.4 677.5 1146.7C673 1146.1 664 1143.2 664 1142.2Z" fill="#ff6e33"/>
<path d="M682.7 1141.8C682.7 1141.1 690.6 1139.6 692.5 1139.7C694.4 1139.8 698.5 1142.3 698.5 1143C698.5 1143.7 694.4 1145.5 692.5 1145.4C690.6 1145.3 682.7 1142.5 682.7 1141.8Z" fill="#e6291f"/>
<path d="M150 1242.7C151.3 1242.5 158.5 1241.7 161.2 1240.5C163.9 1239.3 168.4 1234.6 172.5 1233C176.5 1231.4 190.5 1228.2 195 1227C199.5 1225.8 206.4 1223.8 210 1223.2C213.6 1222.7 221.4 1222.3 225 1222.5C228.6 1222.7 234.6 1224.4 240 1224.7C245.4 1225.1 262.8 1225.5 270 1225.5C277.2 1225.5 292.8 1224.9 300 1224.7C307.2 1224.6 325 1223.9 330 1224C335 1224.1 339.7 1225.9 342 1225.8C344.3 1225.7 347.9 1224 349.5 1223.2C351.1 1222.5 354.2 1220.4 355.5 1219.5C356.7 1218.6 355.8 1216.5 360 1215.7C364.1 1215 382.8 1213.9 390 1213.5C397.2 1213 418.8 1212.4 420 1212C421.2 1211.6 399.7 1210.6 400 1210.5C400.3 1210.4 417.1 1211.2 422.5 1211.2C427.9 1211.2 438.7 1210.8 445 1210.5C451.3 1210.2 467.8 1209.2 475 1209C482.2 1208.8 498.7 1208.6 505 1209C511.3 1209.4 522.1 1211.5 527.5 1212C532.9 1212.5 543.7 1212.8 550 1213.5C556.3 1214.2 573.7 1217.4 580 1218C586.3 1218.6 597.1 1219.1 602.5 1218.7C607.9 1218.4 619.6 1215.8 625 1215C630.4 1214.2 642.1 1212.5 647.5 1212C652.9 1211.5 663.5 1210.8 670 1210.5C676.5 1210.2 697.7 1209.6 701.5 1209.4L702.1 1209.4 L702.1 1280 L150.9 1280 L150.9 1242.7 Z" fill="#ffae33"/>
<path d="M337.5 1225.2C338.2 1224.5 346.8 1223.8 349.5 1223.2C352.2 1222.6 356.9 1220.3 360 1220.2C363 1220.2 369.6 1222 375 1222.8C380.4 1223.6 398.7 1226.1 405 1227C411.3 1227.9 424.1 1229 427.5 1230C430.9 1231 433.5 1234.2 433.5 1235.2C433.5 1236.3 432.7 1238.3 427.5 1239C422.3 1239.7 398.1 1241.1 390 1241.2C381.9 1241.4 364.5 1241.1 360 1240.5C355.5 1239.9 354.5 1237.3 352.5 1236C350.5 1234.6 345.3 1230.5 343.5 1229.2C341.7 1227.9 336.8 1225.9 337.5 1225.2Z" fill="#ffcc33"/>
<path d="M200 1280C203 1278.5 216.6 1269.7 225 1267.5C233.4 1265.3 257.4 1262.4 270 1261.5C282.6 1260.6 315.6 1260.4 330 1260C344.4 1259.6 377.4 1259 390 1258.5C402.6 1258 428 1256.5 435 1255.5C442 1254.5 445 1250.5 448 1250.3C451 1250.1 455 1253.5 460 1254C465 1254.5 482.8 1254.3 490 1254.8C497.2 1255.3 512.8 1257.5 520 1258.5C527.2 1259.5 542.8 1262 550 1263C557.2 1264 572.8 1264.8 580 1266.8C587.2 1268.8 606.4 1278.4 610 1280L702.1 1280 L702.1 1280 L150.9 1280 L150.9 1280 Z" fill="#ff9933"/>
<path d="M658 1261.8C658 1260.4 666.7 1257.7 670 1257C673.2 1256.2 681.2 1255.5 685 1255.5C688.8 1255.5 699.5 1255.1 701.5 1257C703.5 1258.9 705.3 1269.9 701.5 1271.2C697.7 1272.6 675.2 1269.4 670 1268.2C664.8 1267.1 658 1263.1 658 1261.8Z" fill="#ffcc33"/>
<path d="M685 1259.2 L692.2 1255.8 L692.2 1262.7 Z" fill="#ffffff"/>
<path d="M158 1256 L163 1258 L168 1266 L178 1271 L158 1273 Z" fill="#ffcc33"/>
<path d="M158.9 1205.5C164.3 1205.4 181.3 1204.8 191.3 1204.8C201.2 1204.8 207.3 1205.5 218.8 1205.6C230.2 1205.8 249.5 1206.2 260 1205.9C270.6 1205.6 274.7 1204.9 282 1203.7C289.3 1202.5 297.6 1200.6 304 1198.8C310.4 1196.9 315.9 1195 320.5 1192.7C325.1 1190.4 327.9 1187.9 331.5 1185C335.2 1182.1 337.9 1178.5 342.5 1175.4C347.1 1172.3 353.1 1168.8 359 1166.3C365 1163.8 371.9 1161.9 378.3 1160.3C384.7 1158.7 389.7 1157.5 397.5 1156.7C405.3 1155.9 415.9 1155.6 425 1155.6C434.2 1155.6 444.3 1155.9 452.5 1156.7C460.8 1157.5 467.7 1158.5 474.5 1160.3C481.4 1162 487.8 1164.6 493.8 1167.1C499.7 1169.7 504.8 1172.2 510.3 1175.4C515.8 1178.6 520.8 1183 526.8 1186.4C532.7 1189.7 539.2 1192.9 546 1195.5C552.9 1198 560.7 1200 568 1201.5C575.4 1203.1 581.8 1204.1 590 1204.8C598.3 1205.6 606.1 1205.6 617.5 1205.9C629 1206.3 645 1206.7 658.8 1207C672.6 1207.3 693.2 1207.7 700.1 1207.8" fill="none" stroke="#000" stroke-width="6.1" stroke-dasharray="13.3 13.7" stroke-dashoffset="-3" stroke-linecap="round"/>
</g>
<g clip-path="url(#cpe)">
<rect x="692.1" y="736.3" width="538.2" height="537.7" fill="#ffffff"/>
<path d="M650.5 839.4C655.3 839.4 683.1 840.5 690.5 839.4C698 838.2 707.6 831.6 712.6 829.7C717.5 827.8 727.9 824 731.8 823.6C735.8 823.3 741.3 825.2 745.6 827C749.9 828.7 762.4 835.2 767.7 838C773 840.8 783.8 847.9 789.7 850.4C795.7 852.9 810 857.3 817.3 858.6C824.5 860 841.4 861.4 850.3 862C859.3 862.5 881.7 863.2 891.7 863.6C901.6 864 923.1 864.9 933 865C942.9 865 964.4 864.5 974.3 864.2C984.3 863.8 1004.1 862.4 1015.7 862C1027.2 861.5 1060.9 861.3 1070.8 860.6C1080.7 859.8 1090.1 857.6 1098.3 855.9C1106.6 854.2 1131.4 848.4 1139.7 846.2C1147.9 844.1 1160.6 839.7 1167.2 838C1173.8 836.3 1189.2 832.6 1194.8 831.9C1200.4 831.3 1209.4 832 1214.1 832.5C1218.7 832.9 1226.2 835.4 1233.4 835.8C1240.5 836.2 1268.6 835.8 1273.4 835.8L1273.4 1057.6C1268.6 1057.6 1244.4 1057.3 1233.4 1057.6C1222.3 1057.9 1192.2 1059.2 1181 1059.8C1169.8 1060.4 1149.6 1061.9 1139.7 1062.6C1129.8 1063.2 1105.9 1064.8 1098.3 1065.3C1090.7 1065.9 1081.3 1067.2 1076.3 1067.2C1071.3 1067.2 1064.3 1066 1057 1065.3C1049.7 1064.7 1027.2 1062.2 1015.7 1061.7C1004.1 1061.3 970.5 1062 960.6 1061.7C950.6 1061.5 938 1060.5 933 1059.8C928 1059.1 923.2 1056.6 919.2 1055.7C915.3 1054.8 903.9 1052.5 899.9 1052.4C896 1052.2 889.5 1053.2 886.2 1054.3C882.9 1055.3 876.7 1059.7 872.4 1061.2C868.1 1062.7 856.3 1065.5 850.3 1066.7C844.4 1067.8 827.7 1070.5 822.8 1070.8C817.8 1071.2 814 1069.9 809 1069.4C804 1069 789.7 1067.2 781.4 1066.7C773.2 1066.2 748.4 1065.8 740.1 1065.3C731.8 1064.8 718.5 1063.5 712.6 1062.6C706.6 1061.7 698 1058.4 690.5 1057.9C683.1 1057.3 655.3 1057.9 650.5 1057.9Z" fill="#ffcc33" stroke="#fff4cc" stroke-width="3" stroke-linejoin="round"/>
<path d="M650.5 851.2C655.3 851.2 683.1 851.8 690.5 851.2C698 850.6 707.6 847.8 712.6 846.2C717.5 844.7 727.5 838.6 731.8 838C736.1 837.3 744.1 839.2 748.4 840.7C752.7 842.2 762 847.9 767.7 850.4C773.3 852.9 788.6 859.3 795.2 861.4C801.8 863.6 814.5 866.9 822.8 868.3C831 869.7 855.8 872.4 864.1 873.3C872.4 874.1 883.4 875.1 891.7 875.2C899.9 875.2 923.1 874 933 873.8C942.9 873.6 964.4 874.1 974.3 873.8C984.3 873.5 1004.1 871.4 1015.7 871C1027.2 870.6 1060.9 871 1070.8 870.5C1080.7 870 1090.1 868.5 1098.3 866.9C1106.6 865.3 1131.4 859.4 1139.7 857.3C1147.9 855.1 1160.6 850.7 1167.2 849C1173.8 847.3 1186.8 844.2 1194.8 843.5C1202.7 842.8 1223.9 843.5 1233.4 843.5C1242.8 843.5 1268.6 843.5 1273.4 843.5L1273.4 1050.2C1268.6 1050.2 1244.4 1050 1233.4 1050.2C1222.3 1050.3 1192.2 1051 1181 1051.5C1169.8 1052 1149.6 1053.6 1139.7 1054.3C1129.8 1055 1106.6 1056.4 1098.3 1057C1090.1 1057.7 1077.4 1060.1 1070.8 1059.8C1064.2 1059.5 1049.8 1055 1043.2 1054.3C1036.6 1053.6 1025.6 1054.3 1015.7 1054.3C1005.7 1054.3 970.5 1054.5 960.6 1054.3C950.6 1054.1 939.6 1053.9 933 1052.9C926.4 1051.9 910.4 1046.9 905.4 1046C900.5 1045.2 895.6 1045 891.7 1046C887.7 1047 877.3 1052.6 872.4 1054.3C867.4 1055.9 856.3 1058.8 850.3 1059.8C844.4 1060.8 829.4 1062.6 822.8 1062.6C816.2 1062.6 801.8 1060.8 795.2 1059.8C788.6 1058.8 774.3 1055.1 767.7 1054.3C761.1 1053.5 745.7 1053.2 740.1 1052.9C734.5 1052.6 724.5 1052.9 720.8 1051.5C717.2 1050.1 713.4 1042.5 709.8 1041.3C706.2 1040.2 697.6 1041.8 690.5 1041.9C683.4 1042 655.3 1041.9 650.5 1041.9Z" fill="#ffae33"/>
<path d="M650.5 868.8C655.3 868.8 683.1 869.2 690.5 868.8C698 868.4 707.6 866.4 712.6 865.5C717.5 864.6 726.9 860.7 731.8 861.4C736.8 862.1 747.9 868.2 753.9 871C759.8 873.9 776.5 882.2 781.4 884.8C786.4 887.5 790.3 891.6 795.2 893.1C800.2 894.6 814.5 896.1 822.8 897.2C831 898.4 855.8 901.6 864.1 902.7C872.4 903.9 885.1 907 891.7 906.9C898.3 906.7 912.6 902.5 919.2 901.4C925.8 900.2 938.5 898 946.8 897.2C955 896.5 978.2 895.3 988.1 895C998 894.8 1019.5 894.8 1029.4 895C1039.4 895.3 1061.9 896.8 1070.8 897.2C1079.7 897.7 1097.2 899.4 1103.8 898.6C1110.5 897.8 1119.9 892.3 1125.9 890.3C1131.8 888.4 1147.5 884.4 1153.4 882.1C1159.4 879.8 1170.5 873.1 1175.5 871C1180.5 869 1187.8 865.3 1194.8 865C1201.7 864.7 1223.9 867.9 1233.4 868.3C1242.8 868.7 1268.6 868.3 1273.4 868.3L1273.4 1036.4C1268.6 1036.4 1244.4 1036 1233.4 1036.4C1222.3 1036.7 1192.2 1038.5 1181 1039.1C1169.8 1039.8 1149.6 1040.9 1139.7 1041.9C1129.8 1042.9 1106.6 1047.2 1098.3 1047.4C1090.1 1047.6 1077.4 1044.3 1070.8 1043.3C1064.2 1042.3 1051.5 1040 1043.2 1039.1C1035 1038.3 1011.8 1036.5 1001.9 1036.4C992 1036.2 967.2 1037.8 960.6 1037.8C953.9 1037.8 951.7 1036.2 946.8 1036.4C941.8 1036.5 924.2 1039.3 919.2 1039.1C914.3 1039 910.4 1036 905.4 1035C900.5 1034 884.5 1032 877.9 1030.9C871.3 1029.7 856.3 1026.2 850.3 1025.4C844.4 1024.5 831.6 1025.3 828.3 1024C825 1022.7 823.8 1018.5 822.8 1014.3C821.8 1010.2 821 993.8 820 989.5C819 985.2 817.5 980.5 814.5 978.5C811.5 976.5 798.5 973.3 795.2 973C791.9 972.7 788.9 973.6 787 975.8C785 977.9 782.7 987.9 778.7 990.9C774.7 993.9 758.5 998.1 753.9 1000.6C749.3 1003 744.1 1009.4 740.1 1011.6C736.1 1013.7 726.8 1017.4 720.8 1018.5C714.9 1019.5 698.9 1020.2 690.5 1020.4C682.1 1020.6 655.3 1020.4 650.5 1020.4Z" fill="#ff9933"/>
<path d="M719.4 942.7C721.4 940.2 730.1 932.3 734.6 930.3C739.1 928.2 752 925.9 756.6 925.6C761.3 925.3 770.2 925.8 773.2 927.5C776.2 929.3 781.1 936.8 781.4 939.9C781.8 943.1 778.2 951.1 775.9 953.7C773.6 956.4 766.5 960.8 762.2 962C757.9 963.1 745.1 963.4 740.1 963.4C735.2 963.3 723.5 962.9 720.8 961.4C718.2 959.9 718.2 953.2 718.1 951C717.9 948.7 717.5 945.2 719.4 942.7Z" fill="#ffae33"/>
<path d="M913.7 961.4C913.1 959.8 923.2 954.7 927.5 953.7C931.8 952.7 943.9 952.8 949.5 953.2C955.2 953.5 969.5 955.5 974.3 956.5C979.1 957.5 989.5 960.1 989.5 961.4C989.5 962.8 977.8 966.5 974.3 967.5C970.9 968.5 965.5 969.8 960.6 969.7C955.6 969.6 938.6 967.9 933 966.9C927.4 965.9 914.4 963 913.7 961.4Z" fill="#ffae33"/>
<path d="M780.1 1037.8C780.1 1036.6 789.5 1032.2 792.5 1032.2C795.4 1032.2 804.9 1036.6 804.9 1037.8C804.9 1038.9 795.4 1041.9 792.5 1041.9C789.5 1041.9 780.1 1038.9 780.1 1037.8Z" fill="#ff9933"/>
<path d="M797.4 1001.9C797.4 1001.5 801.7 1000.3 802.9 1000.3C804.2 1000.3 807.9 1001.5 807.9 1001.9C807.9 1002.4 804.2 1003.9 802.9 1003.9C801.7 1003.9 797.4 1002.4 797.4 1001.9Z" fill="#ff9933"/>
<path d="M685 991.7C686.3 990 693.4 992.4 696 992.8C698.7 993.2 705 994.1 707 995C709.1 996 713.1 999.4 713.1 1000.6C713.1 1001.7 709.1 1004 707 1004.7C705 1005.4 698.7 1006.3 696 1006.6C693.4 1006.9 686.3 1009 685 1007.2C683.7 1005.4 683.7 993.5 685 991.7Z" fill="#ff6e33"/>
<path d="M873.8 1001.9C873.8 1000.6 879.6 997.4 883.4 996.4C887.2 995.4 900.5 994.7 905.4 993.7C910.4 992.7 918.1 989.1 924.7 988.2C931.3 987.2 953 985.9 960.6 985.4C968.2 984.9 979.8 984.4 988.1 984C996.4 983.7 1021.2 983.5 1029.4 982.6C1037.7 981.8 1050.4 978.6 1057 977.1C1063.6 975.6 1077.9 972.1 1084.6 970.2C1091.2 968.4 1107.2 964 1112.1 962C1117.1 960 1123.6 956.4 1125.9 953.7C1128.2 951.1 1128.1 942.9 1131.4 939.9C1134.7 937 1148.2 931.9 1153.4 928.9C1158.7 925.9 1171.2 918.1 1175.5 915.1C1179.8 912.2 1185.3 906.1 1189.3 904.1C1193.2 902.1 1202.6 899.5 1208.6 898.6C1214.5 897.7 1235.2 882.3 1238.9 896.4C1242.5 910.5 1244.2 1002.1 1238.9 1016.3C1233.6 1030.4 1205 1014.4 1194.8 1014.3C1184.5 1014.3 1163.4 1015.5 1153.4 1015.7C1143.5 1015.9 1120.4 1016 1112.1 1015.7C1103.8 1015.4 1089.5 1012.8 1084.6 1013C1079.6 1013.1 1075.7 1015.8 1070.8 1017.1C1065.8 1018.4 1049.8 1022.8 1043.2 1024C1036.6 1025.1 1020.6 1026.2 1015.7 1026.7C1010.7 1027.2 1006.9 1028.8 1001.9 1028.1C996.9 1027.5 980.9 1022.2 974.3 1021.2C967.7 1020.2 953.4 1020.2 946.8 1019.8C940.2 1019.5 924.8 1019.1 919.2 1018.5C913.6 1017.8 904.2 1015.7 899.9 1014.3C895.6 1013 886.5 1008.9 883.4 1007.4C880.3 1006 873.8 1003.3 873.8 1001.9Z" fill="#ff6e33"/>
<path d="M1131.4 960.6C1130.9 959.4 1132.9 953.6 1135.5 953.7C1138.2 953.8 1153 960.3 1153.4 961.4C1153.9 962.6 1142.3 963.5 1139.7 963.4C1137 963.3 1131.9 961.8 1131.4 960.6Z" fill="#ffae33"/>
<path d="M917.8 1001.9C917.2 999.8 927.9 995.2 933 993.7C938.1 992.1 953.9 989.7 960.6 989C967.2 988.3 981.5 987.6 988.1 987.6C994.7 987.6 1009.7 988 1015.7 988.7C1021.6 989.4 1031.8 992.1 1037.7 993.7C1043.7 995.3 1064.6 999.8 1065.3 1001.9C1065.9 1004.1 1049.2 1009.7 1043.2 1011.6C1037.3 1013.5 1022.3 1016.7 1015.7 1017.6C1009.1 1018.6 994.7 1019.5 988.1 1019.3C981.5 1019.1 966.5 1016.6 960.6 1015.7C954.6 1014.8 943.6 1013.2 938.5 1011.6C933.4 1009.9 918.5 1004.1 917.8 1001.9Z" fill="#e6291f"/>
<path d="M1181 937.2C1181.7 934.7 1190.8 929.5 1194.8 927.5C1198.8 925.6 1208.8 921.8 1214.1 920.6C1219.4 919.5 1235.9 907.4 1238.9 917.9C1241.8 928.4 1244.2 997.4 1238.9 1008C1233.6 1018.6 1205 1006.5 1194.8 1006.1C1184.5 1005.7 1161.7 1004.8 1153.4 1004.7C1145.2 1004.6 1131.2 1005.8 1125.9 1005.5C1120.6 1005.2 1109.4 1003 1109.4 1001.9C1109.4 1000.8 1122.3 997.7 1125.9 996.4C1129.5 995.1 1136.4 992.6 1139.7 990.9C1143 989.3 1150.1 983.1 1153.4 982.6C1156.8 982.2 1162.3 986 1167.2 986.8C1172.2 987.5 1189.5 989 1194.8 989C1200.1 989 1208.7 987.7 1211.3 986.8C1214 985.9 1217.5 982.9 1216.8 981.3C1216.2 979.6 1208.1 975.3 1205.8 973C1203.5 970.7 1199.5 965 1197.5 962C1195.6 959 1191.3 951.2 1189.3 948.2C1187.3 945.2 1180.3 939.7 1181 937.2Z" fill="#e6291f"/>
<path d="M928.9 1001.9C928.5 1000 938.6 996.3 944 995C949.5 993.8 967.4 992.1 974.3 991.7C981.3 991.3 995.9 991.2 1001.9 991.7C1007.8 992.3 1019.5 995.2 1023.9 996.4C1028.4 997.6 1039.1 1000.4 1039.1 1001.9C1039.1 1003.4 1028.4 1007.4 1023.9 1008.8C1019.5 1010.2 1007.8 1013.1 1001.9 1013.8C995.9 1014.5 980.9 1015.2 974.3 1014.9C967.7 1014.6 952.2 1013.1 946.8 1011.6C941.3 1010 929.2 1003.9 928.9 1001.9Z" fill="#c81f15"/>
<path d="M676 1174C678.4 1165.9 692.5 1173.2 696.2 1172.5C700 1171.8 704.3 1169.1 707.5 1168C710.6 1166.9 718 1164.4 722.5 1163.5C727 1162.6 740.5 1161.4 745 1160.5C749.5 1159.6 757.1 1157.4 760 1156C762.9 1154.6 766.5 1149.9 769 1148.5C771.5 1147.1 778.8 1145.9 781 1144C783.2 1142.1 782.9 1134.2 787 1132.7C791.1 1131.3 811.2 1133.3 815.5 1132C819.8 1130.7 819 1123.5 823 1122.2C827 1121 844.5 1122.8 848.5 1121.5C852.5 1120.2 853.1 1113.1 856 1111.7C858.9 1110.4 867.8 1110.2 872.5 1110.2C877.2 1110.2 891.2 1110.4 895 1111.7C898.8 1113.1 900.4 1120.2 904 1121.5C907.6 1122.8 918.9 1122.1 925 1122.2C931.1 1122.4 949.9 1122.4 955 1123C960 1123.6 965 1126.4 967 1127.5C969 1128.6 971.7 1130.7 971.5 1132C971.3 1133.3 968.4 1137 965.5 1138C962.6 1139 952.3 1140.1 947.5 1140.2C942.6 1140.4 929.5 1139.3 925 1139.5C920.5 1139.7 911.2 1140.8 910 1141.7C908.7 1142.7 910.9 1147.2 914.5 1147.7C918.1 1148.3 933.3 1146.5 940 1146.2C946.6 1146 967 1145.6 970 1145.5C973 1145.4 962 1145.2 965 1145.2C968 1145.2 989.2 1145.6 995 1145.8C1000.8 1146 1009.8 1146.5 1013 1147C1016.2 1147.5 1020.2 1148.9 1022 1150C1023.8 1151.1 1026.2 1154.6 1028 1156C1029.8 1157.4 1034.8 1160.4 1037 1162C1039.2 1163.6 1044.5 1168 1046 1169.5C1047.5 1171 1050.1 1174 1049.7 1174.7C1049.4 1175.5 1045.1 1175.6 1043 1175.8C1040.9 1176 1035.6 1176.4 1032.5 1176.4C1029.4 1176.4 1022 1175.7 1017.5 1175.5C1013 1175.3 1001.3 1174.7 995 1174.7C988.7 1174.7 972.2 1175.2 965 1175.5C957.8 1175.8 936.2 1176.8 935 1177C933.8 1177.2 955.3 1176.6 955 1177C954.7 1177.4 937 1178.9 932.5 1180C928 1181.1 921.1 1185.3 917.5 1186C913.9 1186.7 906.1 1186.4 902.5 1186C898.9 1185.5 890.9 1183 887.5 1182.2C884.1 1181.5 876.2 1179.9 874 1180C871.8 1180.1 870.9 1181.6 869.5 1183C868.1 1184.4 864.3 1189.8 862 1192C859.7 1194.2 853.2 1199 850 1201C846.8 1203 838.6 1207.1 835 1208.5C831.4 1209.8 824.5 1211.4 820 1212.2C815.5 1213.1 803.8 1214.6 797.5 1215.2C791.2 1215.9 773.8 1216.9 767.5 1217.5C761.2 1218.1 750.4 1219.7 745 1220.5C739.6 1221.3 727 1223.2 722.5 1224.2C718 1225.3 710.6 1228.1 707.5 1229.5C704.3 1230.8 700 1234.2 696.2 1235.5C692.5 1236.8 678.4 1247.4 676 1240C673.6 1232.6 673.6 1182.1 676 1174Z" fill="#ffcc33" stroke="#fff4cc" stroke-width="2.5" stroke-linejoin="round"/>
<path d="M676 1177.7C678.4 1170.8 692.5 1177 696.2 1176.2C700 1175.5 704.3 1172.8 707.5 1171.7C710.6 1170.7 718 1168.1 722.5 1167.2C727 1166.3 740.1 1165.1 745 1164.2C749.9 1163.3 759.4 1161.3 763 1159.7C766.6 1158.2 772.3 1153.1 775 1151.5C777.7 1149.9 783.7 1148.1 785.5 1146.2C787.3 1144.4 786.2 1137.1 790 1135.7C793.8 1134.4 812.7 1136.3 817 1135C821.3 1133.7 822 1126.5 826 1125.2C830 1124 846.2 1125.5 850 1124.2C853.8 1122.9 854.8 1116.1 857.5 1114.7C860.2 1113.4 868.2 1113.2 872.5 1113.2C876.8 1113.2 890.1 1113.5 893.5 1114.7C896.9 1116 897.2 1122.5 901 1123.7C904.8 1125 918.7 1124.6 925 1124.8C931.3 1125 948.8 1125.1 953.5 1125.7C958.2 1126.3 963.1 1128.6 964 1129.7C964.9 1130.9 963 1134.1 961 1135C959 1135.9 951.8 1137 947.5 1137.2C943.2 1137.5 930.2 1136.6 925 1136.8C919.8 1137 909.4 1138.4 904 1138.7C898.6 1139.1 884.1 1138.7 880 1139.5C875.9 1140.3 872.2 1143.9 869.5 1145.5C866.8 1147.1 861.6 1151.6 857.5 1153C853.4 1154.4 839.9 1156.4 835 1157.5C830.1 1158.6 820.6 1160.7 817 1162C813.4 1163.3 806.6 1166.2 805 1168C803.4 1169.8 802.6 1174.7 803.5 1177C804.4 1179.3 810.5 1185.3 812.5 1187.5C814.5 1189.7 817.7 1193 820 1195C822.3 1197 832 1202.3 832 1204C832 1205.7 824.1 1208.3 820 1209.2C815.9 1210.2 803.8 1211.6 797.5 1212.2C791.2 1212.9 773.8 1213.9 767.5 1214.5C761.2 1215.1 750.4 1216.7 745 1217.5C739.6 1218.3 727 1220.3 722.5 1221.2C718 1222.2 710.6 1224.6 707.5 1225.7C704.3 1226.9 700 1230 696.2 1231C692.5 1232 678.4 1240.4 676 1234C673.6 1227.6 673.6 1184.7 676 1177.7Z" fill="#ffae33"/>
<path d="M919 1150C922.2 1149.1 933.9 1149 940 1148.8C946.1 1148.6 967 1148.3 970 1148.2C973 1148.1 962 1147.9 965 1147.9C968 1147.9 989.6 1148.3 995 1148.5C1000.4 1148.7 1007.1 1149.2 1010 1149.7C1012.9 1150.1 1017.2 1151.3 1019 1152.2C1020.8 1153.2 1023.2 1156.1 1025 1157.5C1026.8 1158.9 1032.2 1162.8 1034 1164.2C1035.8 1165.7 1040.2 1168.4 1040 1169.5C1039.8 1170.6 1035.2 1173 1032.5 1173.4C1029.8 1173.8 1022 1172.9 1017.5 1172.8C1013 1172.7 1001.3 1172.2 995 1172.2C988.7 1172.2 972.2 1172.5 965 1172.8C957.8 1173 936.2 1174.1 935 1174.3C933.8 1174.5 955.3 1174 955 1174.3C954.7 1174.6 936.8 1176 932.5 1177C928.2 1177.9 922.4 1181.5 919 1182.2C915.6 1183 906.9 1183.3 904 1183C901.1 1182.7 896.4 1181.4 895 1180C893.5 1178.6 891.1 1173.2 892 1171C892.9 1168.8 900 1163.8 902.5 1162C905 1160.2 911 1157.4 913 1156C915 1154.6 915.7 1150.9 919 1150Z" fill="#ffae33"/>
<path d="M701.5 1180C702.4 1178.6 711.6 1176.5 715 1175.5C718.4 1174.5 725.5 1172.6 730 1171.7C734.5 1170.8 747.8 1169.2 752.5 1168C757.2 1166.8 765.6 1163.4 769 1162C772.4 1160.6 779.2 1157.8 781 1156C782.8 1154.2 782.9 1149.2 784 1147C785.1 1144.8 786.2 1139.3 790 1138C793.8 1136.7 811.2 1137.8 815.5 1136.5C819.8 1135.1 821.9 1128.1 826 1126.7C830.1 1125.4 845.7 1126.1 850 1125.2C854.3 1124.4 858.4 1120.8 862 1120C865.6 1119.2 876.4 1118.2 880 1118.5C883.6 1118.8 892 1121.2 892 1122.2C892 1123.3 883.2 1126.1 880 1127.5C876.8 1128.8 867.7 1132.1 865 1133.5C862.3 1134.9 861.1 1138.1 857.5 1139.5C853.9 1140.9 839.5 1144.1 835 1145.5C830.5 1146.9 823.6 1150.2 820 1151.5C816.4 1152.8 807 1154.4 805 1156C803 1157.6 803.9 1162.8 803.5 1165C803.1 1167.2 800.9 1171.5 802 1174C803.1 1176.5 812.1 1183.7 812.5 1186C812.9 1188.3 807.7 1191.9 805 1193.5C802.3 1195.1 794.5 1198.5 790 1199.5C785.5 1200.5 772.9 1201.6 767.5 1201.7C762.1 1201.9 749.5 1201.8 745 1201C740.5 1200.2 732.9 1196.1 730 1195C727.1 1193.9 723.7 1192.9 721 1192C718.3 1191.1 709.8 1188.9 707.5 1187.5C705.2 1186.1 700.6 1181.4 701.5 1180Z" fill="#ff9933"/>
<path d="M712 1180C712.9 1178.3 725.1 1174.3 730 1173.2C734.9 1172.2 747.1 1171.6 752.5 1171C757.9 1170.4 770.5 1168.5 775 1168C779.5 1167.5 787.1 1165.8 790 1166.5C792.9 1167.2 797.2 1171.7 799 1174C800.8 1176.3 804.8 1183.5 805 1186C805.2 1188.5 803.2 1193.4 800.5 1195C797.8 1196.6 787.4 1198.8 782.5 1199.5C777.6 1200.2 764.5 1201.2 760 1201C755.5 1200.8 748.1 1199.1 745 1198C741.9 1196.9 737.2 1193.3 734.5 1192C731.8 1190.7 725.2 1188.9 722.5 1187.5C719.8 1186.1 711.1 1181.7 712 1180Z" fill="#ff6e33"/>
<path d="M781 1156C781.9 1154.9 787.1 1153.5 790 1153C792.9 1152.5 802.1 1151.3 805 1151.5C807.9 1151.7 813.6 1153.1 814 1154.5C814.4 1155.9 809.6 1161.5 808 1163.5C806.4 1165.5 802.7 1170.5 800.5 1171C798.3 1171.5 792.2 1169.1 790 1168C787.8 1166.9 783.6 1163.4 782.5 1162C781.4 1160.6 780.1 1157.1 781 1156Z" fill="#ff6e33"/>
<path d="M778.7 1142.5C779.5 1140.7 782.6 1134.6 787 1133.5C791.4 1132.4 810.5 1134.4 815.5 1133.2C820.5 1132 824.3 1124.6 829 1123.3C833.7 1122 850.3 1121.6 854.5 1122.4C858.7 1123.2 864.1 1127.8 864.2 1129.7C864.4 1131.7 859.5 1136.5 856 1138.3C852.5 1140.1 839.3 1143.1 835 1144.6C830.7 1146.1 823.4 1149.4 820 1150.6C816.6 1151.7 809.2 1153.4 806.5 1154.2C803.8 1155 799.8 1157.2 797.5 1157.2C795.2 1157.2 789 1155.2 787 1154.2C785 1153.2 782 1150.2 781 1148.8C780 1147.4 778 1144.3 778.7 1142.5Z" fill="#ff6e33"/>
<path d="M713.5 1179.2C714.4 1178 725.3 1174.9 730 1174C734.7 1173.1 747.1 1172.4 752.5 1171.7C757.9 1171.1 770.5 1169.2 775 1168.7C779.5 1168.3 787.5 1167 790 1168C792.5 1169 794.9 1174.7 796 1177C797.1 1179.3 799.2 1185.3 799 1187.5C798.8 1189.7 797.4 1193.7 794.5 1195C791.6 1196.3 779.7 1197.5 775 1198C770.3 1198.4 759.1 1199.1 755.5 1198.7C751.9 1198.4 747.2 1196.3 745 1195C742.8 1193.6 740.2 1188.8 737.5 1187.5C734.8 1186.2 725.4 1185.5 722.5 1184.5C719.6 1183.5 712.6 1180.5 713.5 1179.2Z" fill="#e6291f"/>
<path d="M779.2 1141.7 L786.7 1132.6 L815.5 1132.3 L828.2 1122.1 L854.8 1121.3 L863.2 1129.7 L854.8 1136.8 L835 1142.8 L820 1148.8 L805 1151 L787 1151.8 L782.5 1147.3 Z" fill="#c81f15"/>
<path d="M719.2 1179.2 L730 1175.5 L752.5 1173.2 L775 1170.2 L788.8 1169.2 L793.3 1177 L797.8 1187.5 L793.3 1193.8 L775 1195.3 L757 1196.8 L748 1193.8 L740.2 1186.3 L730 1183.3 Z" fill="#c81f15"/>
<path d="M817 1160.5C820.4 1158.9 830.1 1155.8 835 1154.5C839.9 1153.1 853.4 1150.6 857.5 1149.2C861.6 1147.9 866.8 1144.5 869.5 1143.2C872.2 1142 875.9 1139.7 880 1139.2C884.1 1138.7 900 1138.8 904 1139.2C907.9 1139.6 911.5 1141.4 913 1142.5C914.5 1143.6 917.1 1146.9 916.7 1148.5C916.4 1150.1 911.9 1154.6 910 1156C908.1 1157.4 903.1 1158.7 901 1160.5C898.8 1162.3 894.5 1168.8 892 1171C889.5 1173.2 882.7 1177.1 880 1178.5C877.3 1179.8 871.7 1180.7 869.5 1182.2C867.3 1183.8 864.3 1189.1 862 1191.2C859.7 1193.4 853.2 1198.6 850 1200.2C846.8 1201.9 838.6 1205.4 835 1204.7C831.4 1204.1 822.7 1197.1 820 1195C817.3 1192.9 814.3 1189.5 812.5 1187.5C810.7 1185.5 805.7 1180.8 805 1178.5C804.3 1176.2 805.1 1170.2 806.5 1168C807.9 1165.8 813.6 1162.1 817 1160.5Z" fill="#ffae33"/>
<path d="M820 1156C821.4 1154.6 831.4 1151.4 835 1150C838.6 1148.6 846.8 1145.3 850 1144C853.2 1142.7 859.7 1139.9 862 1139.5C864.3 1139.1 869.1 1139.7 869.5 1141C869.9 1142.3 867 1148.2 865 1150C863 1151.8 856.6 1154.7 853 1156C849.4 1157.3 838.6 1159.8 835 1160.5C831.4 1161.2 824.8 1162.5 823 1162C821.2 1161.5 818.6 1157.4 820 1156Z" fill="#ff9933"/>
<path d="M808 1171.7C808.9 1170.5 815.9 1166.2 820 1165C824.1 1163.8 838 1162 842.5 1162C847 1162 856.1 1163.6 857.5 1165C858.9 1166.4 854.5 1172.2 854.5 1174C854.5 1175.8 858 1178.4 857.5 1180C857 1181.6 852.7 1186.8 850 1187.5C847.3 1188.2 837.7 1187.1 835 1186C832.3 1184.9 830.2 1179.8 827.5 1178.5C824.8 1177.2 814.8 1176.3 812.5 1175.5C810.2 1174.7 807.1 1173 808 1171.7Z" fill="#ffcc33"/>
<path d="M872.5 1144C874.3 1142.7 883.9 1139.9 887.5 1139.5C891.1 1139.1 899.8 1140.1 902.5 1141C905.2 1141.9 909.4 1145.4 910 1147C910.5 1148.6 908.8 1153.2 907 1154.5C905.2 1155.8 898.2 1157.3 895 1157.5C891.7 1157.7 882.7 1156.9 880 1156C877.3 1155.1 873.4 1151.4 872.5 1150C871.6 1148.6 870.7 1145.3 872.5 1144Z" fill="#ffcc33"/>
<path d="M835 1152.2C834.8 1151.6 840.7 1150 842.5 1150C844.3 1150 849.8 1151.6 850 1152.2C850.2 1152.9 845.8 1155.2 844 1155.2C842.2 1155.2 835.2 1152.9 835 1152.2Z" fill="#ffffff"/>
<path d="M905.5 1130.8C905.5 1130 913.3 1127.9 917.5 1127.5C921.6 1127.1 935.8 1127.1 940 1127.5C944.1 1127.9 952 1130 952 1130.8C952 1131.6 944.1 1134 940 1134.4C935.8 1134.8 921.6 1134.8 917.5 1134.4C913.3 1134 905.5 1131.6 905.5 1130.8Z" fill="#ff6e33"/>
<path d="M913 1130.9C913.3 1130.5 921.7 1129.4 925 1129.3C928.2 1129.2 937.5 1129.5 940 1129.7C942.5 1130 946.3 1130.8 946 1131.2C945.6 1131.7 939.9 1133 937 1133.2C934.1 1133.4 924.9 1133.2 922 1132.9C919.1 1132.6 912.6 1131.4 913 1130.9Z" fill="#e6291f"/>
<path d="M685 1194.2C686.3 1192.7 694.1 1194.7 696.2 1195C698.4 1195.3 701.5 1195.8 703 1196.5C704.5 1197.2 709 1199.9 709 1201C709 1202.1 704.5 1204.7 703 1205.5C701.5 1206.3 698.4 1207 696.2 1207.3C694.1 1207.6 686.3 1209.3 685 1207.7C683.7 1206.2 683.7 1195.8 685 1194.2Z" fill="#ff6e33"/>
<path d="M691 1214.2C691.9 1213.7 696.9 1213.6 698.5 1213.9C700.1 1214.1 704.5 1215.8 704.5 1216.3C704.5 1216.8 700.1 1218 698.5 1218.2C696.9 1218.5 691.9 1218.7 691 1218.2C690.1 1217.8 690.1 1214.7 691 1214.2Z" fill="#e6291f"/>
<path d="M984.5 1131.2C986.5 1130.7 997.6 1129.7 1002.5 1129.3C1007.4 1128.8 1020.5 1128.2 1025 1127.5C1029.5 1126.8 1035.5 1124.4 1040 1123.7C1044.5 1123.1 1058 1122.2 1062.5 1122.2C1067 1122.2 1074.3 1123.1 1077.5 1123.7C1080.7 1124.4 1087.2 1126.1 1089.5 1127.5C1091.8 1128.8 1095.2 1133.3 1097 1135C1098.8 1136.7 1105 1140.3 1104.5 1141.7C1104 1143.2 1096.6 1146.4 1092.5 1147C1088.4 1147.6 1074.5 1147.4 1070 1147C1065.5 1146.5 1058.6 1144.1 1055 1143.2C1051.4 1142.3 1044.5 1140.1 1040 1139.5C1035.5 1138.9 1022.9 1138.4 1017.5 1138C1012.1 1137.5 998.8 1136.3 995 1135.7C991.2 1135.2 987.3 1134 986 1133.5C984.7 1133 982.5 1131.8 984.5 1131.2Z" fill="#ffcc33" stroke="#fff4cc" stroke-width="2" stroke-linejoin="round"/>
<path d="M1028 1131.2C1028.4 1130 1038.9 1126.8 1043 1126C1047.1 1125.2 1058.4 1124.5 1062.5 1124.5C1066.6 1124.5 1074.4 1125.3 1077.5 1126C1080.6 1126.7 1086 1129.1 1088 1130.5C1090 1131.9 1094.4 1136.4 1094 1138C1093.6 1139.6 1087.9 1143.2 1085 1144C1082.1 1144.8 1073.6 1145.1 1070 1144.7C1066.4 1144.4 1058.6 1142 1055 1141C1051.4 1140 1043.2 1137.7 1040 1136.5C1036.8 1135.3 1027.6 1132.5 1028 1131.2Z" fill="#ffae33"/>
<path d="M1058 1131.2C1058.4 1130.4 1064.7 1128.5 1067 1128.2C1069.3 1128 1075.7 1128.4 1077.5 1129C1079.3 1129.6 1082.4 1132.4 1082 1133.5C1081.6 1134.6 1076.7 1137.8 1074.5 1138C1072.3 1138.2 1066 1135.8 1064 1135C1062 1134.2 1057.6 1132.1 1058 1131.2Z" fill="#ff9933"/>
<path d="M1118.3 1120.7 L1127 1131.2 L1121 1139.5 L1124 1142.5 L1118.3 1147.7 L1114.7 1141.7 L1110.2 1131.2 Z" fill="#ffcc33"/>
<path d="M1118.3 1122.2 L1125.8 1131.2 L1118.3 1140.2 L1111.4 1131.2 Z" fill="#c81f15"/>
<path d="M1196 1141.7C1196 1139.6 1201.5 1133.9 1203.5 1132.7C1205.5 1131.6 1210.5 1131.9 1212.5 1132C1214.5 1132.1 1218.2 1133.9 1220 1133.5C1221.8 1133 1225.9 1128.9 1227.5 1128.2C1229.1 1127.6 1232.8 1125.1 1233.5 1128.2C1234.2 1131.4 1234.4 1151.4 1233.5 1154.5C1232.6 1157.6 1227.1 1153 1226 1153.7C1224.9 1154.5 1225.2 1158.8 1224.5 1160.5C1223.8 1162.2 1220.7 1168 1220 1168C1219.3 1168 1218.5 1162.7 1218.5 1160.5C1218.5 1158.3 1220.7 1151.2 1220 1150C1219.3 1148.8 1214.5 1150.7 1212.5 1150.7C1210.5 1150.8 1205.5 1151.8 1203.5 1150.7C1201.5 1149.7 1196 1143.9 1196 1141.7Z" fill="#ffae33" stroke="#ffcc33" stroke-width="2" stroke-linejoin="round"/>
<path d="M1199 1141.7C1199 1140.3 1203.4 1136.5 1205 1135.7C1206.6 1135 1211 1135 1212.5 1135.7C1214 1136.5 1217.7 1140.3 1217.7 1141.7C1217.7 1143.2 1214 1147 1212.5 1147.7C1211 1148.5 1206.6 1148.5 1205 1147.7C1203.4 1147 1199 1143.2 1199 1141.7Z" fill="#ff6e33"/>
<path d="M1202 1141.7C1202 1141 1206.5 1138.7 1208 1138.7C1209.5 1138.7 1214.7 1141 1214.7 1141.7C1214.7 1142.5 1209.5 1144.7 1208 1144.7C1206.5 1144.7 1202 1142.5 1202 1141.7Z" fill="#e6291f"/>
<path d="M1221.5 1141.7 L1227.5 1135 L1227.5 1148.5 Z" fill="#e6291f"/>
<path d="M1101.5 1179.2C1102.4 1177.9 1111.6 1172.6 1115 1171C1118.4 1169.4 1125.5 1166.7 1130 1165.7C1134.5 1164.8 1147.1 1163 1152.5 1162.7C1157.9 1162.5 1169 1163.2 1175 1163.5C1180.9 1163.8 1197.5 1164.5 1202 1165C1206.5 1165.5 1210.3 1167.6 1212.5 1168C1214.6 1168.4 1217.5 1168.7 1220 1168C1222.5 1167.3 1231.9 1159.5 1233.5 1162C1235.1 1164.5 1235.1 1185.4 1233.5 1189C1231.9 1192.6 1223.4 1191.5 1220 1192C1216.6 1192.5 1209.5 1193.1 1205 1193.5C1200.5 1193.9 1187.9 1195 1182.5 1195C1177.1 1195 1165.4 1194 1160 1193.5C1154.6 1193 1142.3 1191.4 1137.5 1190.5C1132.6 1189.6 1123.1 1187 1119.5 1186C1115.9 1185 1109.7 1183.1 1107.5 1182.2C1105.3 1181.4 1100.6 1180.6 1101.5 1179.2Z" fill="#ffae33" stroke="#ffcc33" stroke-width="3" stroke-linejoin="round"/>
<path d="M1121 1178.5C1121 1177 1132.8 1173 1137.5 1171.7C1142.2 1170.5 1154.6 1168.4 1160 1168C1165.4 1167.6 1177.1 1168.4 1182.5 1168.7C1187.9 1169.1 1200.5 1170.2 1205 1171C1209.5 1171.8 1218.2 1173.9 1220 1175.5C1221.8 1177.1 1221.8 1183.1 1220 1184.5C1218.2 1185.9 1209.5 1187 1205 1187.5C1200.5 1188 1187.9 1189 1182.5 1189C1177.1 1189 1165.4 1188 1160 1187.5C1154.6 1187 1142.2 1185.6 1137.5 1184.5C1132.8 1183.4 1121 1180 1121 1178.5Z" fill="#ff9933"/>
<path d="M1148 1171C1147.8 1170.4 1154.6 1168.7 1157 1168.7C1159.3 1168.7 1167.3 1170.4 1167.5 1171C1167.7 1171.6 1160.8 1174 1158.5 1174C1156.1 1174 1148.2 1171.6 1148 1171Z" fill="#ff6e33"/>
<path d="M1190 1180C1190 1178.6 1201.7 1174.7 1205 1174.7C1208.2 1174.7 1217 1178.6 1217 1180C1217 1181.3 1208.2 1186 1205 1186C1201.7 1186 1190 1181.3 1190 1180Z" fill="#ff6e33"/>
<path d="M1200.5 1180C1200.5 1179.5 1205 1177.7 1206.5 1177.7C1207.9 1177.7 1212.5 1179.5 1212.5 1180C1212.5 1180.5 1207.9 1181.8 1206.5 1181.8C1205 1181.8 1200.5 1180.5 1200.5 1180Z" fill="#e6291f"/>
<path d="M737.5 1246C737.9 1244.6 742.8 1242.2 745 1241.8C747.2 1241.3 755 1241.2 755.5 1242.2C756 1243.3 751.1 1249.1 749.5 1250.5C747.9 1251.9 743.4 1254.3 742 1253.8C740.6 1253.3 737.1 1247.4 737.5 1246Z" fill="#fff4cc"/>
<path d="M733 1279C733.4 1277.8 734.9 1271.6 736 1269.2C737.1 1266.9 740.4 1261.6 742 1259.5C743.6 1257.4 747.9 1254 749.5 1252C751.1 1250 752.4 1244.6 755.5 1243C758.6 1241.4 769.1 1239.8 775 1238.5C780.9 1237.2 797.8 1234.1 805 1232.5C812.2 1230.9 827.8 1226.6 835 1225C842.2 1223.4 857.8 1220.3 865 1219C872.2 1217.7 887.8 1215.3 895 1214.5C902.2 1213.7 917.8 1212.6 925 1212.2C932.2 1211.9 953.8 1211.7 955 1211.8C956.2 1211.9 933.8 1212.9 935 1213C936.2 1213 958.7 1212.2 965 1212.2C971.3 1212.3 982.5 1213.4 987.5 1213.7C992.5 1214.1 1004.3 1214.4 1007 1215.2C1009.7 1216.1 1009.3 1219.2 1010 1220.5C1010.7 1221.8 1011.2 1224.8 1013 1225.7C1014.8 1226.6 1020 1227.4 1025 1228C1030 1228.6 1048.7 1230.4 1055 1231C1061.3 1231.6 1073 1232.6 1077.5 1233.2C1082 1233.9 1088.9 1235.3 1092.5 1236.2C1096.1 1237.1 1103 1239.8 1107.5 1240.7C1112 1241.7 1124.6 1243.7 1130 1244.5C1135.4 1245.3 1147.1 1247 1152.5 1247.5C1157.9 1248 1169.6 1248.6 1175 1248.7C1180.4 1248.8 1193 1248.4 1197.5 1248.2C1202 1248.1 1208.2 1247.8 1212.5 1247.5C1216.8 1247.2 1231 1245.9 1233.5 1245.7L1236.3 1245.7 L1236.3 1280 L686.1 1280 L686.1 1279 Z" fill="#ffcc33" stroke="#fff4cc" stroke-width="2" stroke-linejoin="round"/>
<path d="M742 1279C742.4 1277.8 743.7 1271.8 745 1269.2C746.3 1266.7 749.8 1260.4 752.5 1258C755.2 1255.6 763 1250.8 767.5 1249C772 1247.2 783.7 1244.5 790 1243C796.3 1241.5 812.8 1237.9 820 1236.2C827.2 1234.6 842.8 1231 850 1229.5C857.2 1228 873.7 1224.6 880 1223.5C886.3 1222.4 898 1220.7 902.5 1220.5C907 1220.3 913.9 1221.4 917.5 1222C921.1 1222.6 928.9 1225.4 932.5 1225.7C936.1 1226.1 943 1225.4 947.5 1225C952 1224.5 971.5 1222.5 970 1222C968.5 1221.5 937.8 1219.8 935 1220.5C932.2 1221.2 943.4 1226.7 947 1228C950.6 1229.3 960.1 1230.3 965 1231C969.9 1231.7 982.1 1233.8 987.5 1234C992.9 1234.2 1005.5 1232.9 1010 1232.5C1014.5 1232.1 1019.6 1230.7 1025 1231C1030.4 1231.3 1048.7 1234.1 1055 1234.7C1061.3 1235.4 1073 1235.6 1077.5 1236.2C1082 1236.9 1088 1238.8 1092.5 1240C1097 1241.2 1109.6 1244.6 1115 1246C1120.4 1247.3 1132.1 1250.3 1137.5 1251.2C1142.9 1252.1 1154.6 1253.3 1160 1253.5C1165.4 1253.7 1177.1 1253 1182.5 1252.7C1187.9 1252.5 1198.9 1251.7 1205 1251.2C1211.1 1250.8 1230.1 1249 1233.5 1248.7L1236.3 1248.7 L1236.3 1280 L686.1 1280 L686.1 1279 Z" fill="#ffae33"/>
<path d="M919 1219C919.9 1218.2 934.8 1217.2 940 1217.2C945.2 1217.2 961 1218 962.5 1218.7C963.9 1219.4 955.6 1222.2 952 1222.7C948.4 1223.3 936.4 1223.9 932.5 1223.5C928.5 1223 918.1 1219.7 919 1219Z" fill="#ffae33"/>
<path d="M752.5 1279C753 1277.8 754.3 1271.8 757 1269.2C759.7 1266.7 769.2 1260.6 775 1258C780.8 1255.4 800.5 1249.5 805 1247.5C809.5 1245.5 808.9 1242.9 812.5 1241.5C816.1 1240.1 828.7 1236.8 835 1235.5C841.3 1234.2 859.6 1231.7 865 1231C870.4 1230.3 876.4 1229.1 880 1229.5C883.6 1229.9 891.4 1232.9 895 1234C898.6 1235.1 905.5 1238.3 910 1238.5C914.5 1238.7 927.1 1235.5 932.5 1235.5C937.9 1235.5 954.7 1238 955 1238.5C955.3 1239 934.7 1239.6 935 1240C935.3 1240.4 952.1 1241.1 957.5 1241.5C962.9 1241.9 974.6 1243.2 980 1243C985.4 1242.8 997.1 1240.5 1002.5 1240C1007.9 1239.5 1019.6 1238.3 1025 1238.5C1030.4 1238.7 1042.1 1241 1047.5 1241.5C1052.9 1242 1065.5 1242.5 1070 1243C1074.5 1243.5 1081.4 1245.1 1085 1246C1088.6 1246.9 1097.3 1249.4 1100 1250.5C1102.7 1251.6 1104.8 1254.1 1107.5 1255C1110.2 1255.9 1118.9 1257.8 1122.5 1258C1126.1 1258.2 1133 1256.5 1137.5 1256.5C1142 1256.5 1154.6 1257.6 1160 1258C1165.4 1258.4 1177.4 1259.5 1182.5 1259.5C1187.5 1259.5 1198.4 1258.7 1202 1258C1205.6 1257.3 1208.7 1254.4 1212.5 1253.5C1216.3 1252.6 1231 1250.6 1233.5 1250.2L1236.3 1250.2 L1236.3 1280 L686.1 1280 L686.1 1279 Z" fill="#ff9933"/>
<path d="M1053.5 1253.5C1054 1252.4 1060.2 1249.4 1062.5 1249C1064.8 1248.6 1071.4 1249.8 1073 1250.5C1074.6 1251.2 1076.4 1253.9 1076 1255C1075.6 1256.1 1072.2 1259.1 1070 1259.5C1067.8 1259.9 1060 1258.7 1058 1258C1056 1257.3 1053 1254.6 1053.5 1253.5Z" fill="#ffae33"/>
<path d="M854.5 1244.5C854.5 1243.6 860.2 1240.7 862 1240.7C863.8 1240.7 869.5 1243.6 869.5 1244.5C869.5 1245.4 863.8 1248.2 862 1248.2C860.2 1248.2 854.5 1245.4 854.5 1244.5Z" fill="#ff6e33"/>
<path d="M874.7 1270.7 L880 1261 L886.7 1270.7 Z" fill="#ff6e33"/>
<path d="M931 1270.7 L940 1266.2 L949 1270.7 Z" fill="#ff6e33"/>
<path d="M984.5 1274.5C980.5 1272.5 994.9 1260.5 998 1258C1001.1 1255.5 1006.8 1254.1 1010 1253.5C1013.2 1252.9 1022.1 1253.1 1025 1252.7C1027.9 1252.4 1031.8 1250.4 1034 1250.5C1036.2 1250.6 1041.6 1252.4 1043 1253.5C1044.4 1254.6 1046.4 1258.1 1046 1259.5C1045.6 1260.9 1041.8 1263.7 1040 1265.5C1038.2 1267.3 1037.7 1273.4 1031 1274.5C1024.3 1275.6 988.5 1276.5 984.5 1274.5Z" fill="#ff6e33"/>
<path d="M998 1274.5C996.4 1273.1 1006.8 1264.1 1010 1262.5C1013.2 1260.9 1021.8 1261.3 1025 1261C1028.2 1260.7 1036.1 1259.8 1037 1260.2C1037.9 1260.7 1034.1 1263 1032.5 1264.7C1030.9 1266.5 1027.6 1273.3 1023.5 1274.5C1019.4 1275.7 999.6 1275.9 998 1274.5Z" fill="#e6291f"/>
<path d="M1013 1264C1013.5 1263.6 1020.6 1262.5 1022 1262.5C1023.4 1262.5 1025.5 1263.6 1025 1264C1024.5 1264.4 1018.9 1265.8 1017.5 1265.8C1016.1 1265.8 1012.5 1264.4 1013 1264Z" fill="#c81f15"/>
<path d="M1200.5 1261C1201 1259.7 1207.1 1254.8 1209.5 1254.2C1211.8 1253.7 1217.1 1257.3 1220 1256.5C1222.9 1255.7 1231.9 1246.5 1233.5 1247.5C1235.1 1248.5 1235.5 1262.6 1233.5 1264.7C1231.5 1266.9 1220.4 1265.5 1217 1265.5C1213.6 1265.5 1207 1265.3 1205 1264.7C1203 1264.2 1199.9 1262.3 1200.5 1261Z" fill="#ff6e33"/>
<path d="M1221.5 1252.3 L1227.5 1248.2 L1227.5 1255.7 Z" fill="#e6291f"/>
<path d="M1208.7 1256.5C1208.7 1256.1 1210.7 1255 1211.3 1255C1211.9 1255 1213.7 1256.4 1213.7 1256.8C1213.7 1257.2 1211.9 1258.3 1211.3 1258.3C1210.7 1258.3 1208.7 1256.9 1208.7 1256.5Z" fill="#e6291f"/>
<path d="M694.1 1205.5C699.5 1205.4 716.3 1204.8 726.3 1204.8C736.2 1204.8 742.3 1205.5 753.8 1205.6C765.2 1205.8 784.5 1206.2 795 1205.9C805.6 1205.6 809.7 1204.9 817 1203.7C824.3 1202.5 832.6 1200.6 839 1198.8C845.4 1196.9 850.9 1195 855.5 1192.7C860.1 1190.4 862.9 1187.9 866.5 1185C870.2 1182.1 872.9 1178.5 877.5 1175.4C882.1 1172.3 888.1 1168.8 894 1166.3C900 1163.8 906.9 1161.9 913.3 1160.3C919.7 1158.7 924.7 1157.5 932.5 1156.7C940.3 1155.9 950.9 1155.6 960 1155.6C969.2 1155.6 979.3 1155.9 987.5 1156.7C995.8 1157.5 1002.7 1158.5 1009.5 1160.3C1016.4 1162 1022.8 1164.6 1028.8 1167.1C1034.7 1169.7 1039.8 1172.2 1045.3 1175.4C1050.8 1178.6 1055.8 1183 1061.8 1186.4C1067.7 1189.7 1074.2 1192.9 1081 1195.5C1087.9 1198 1095.7 1200 1103 1201.5C1110.4 1203.1 1116.8 1204.1 1125 1204.8C1133.3 1205.6 1141.1 1205.6 1152.5 1205.9C1164 1206.3 1180 1206.7 1193.8 1207C1207.6 1207.3 1228.2 1207.7 1235.1 1207.8" fill="none" stroke="#000" stroke-width="6.1" stroke-dasharray="13.3 13.7" stroke-dashoffset="-3" stroke-linecap="round"/>
</g>
<g clip-path="url(#cpf)">
<rect x="1226.3" y="736.3" width="538.7" height="537.7" fill="#ffffff"/>
<path d="M1209 917.9C1211.6 917.3 1226.4 914.3 1231 912.9C1235.7 911.6 1243.6 908.8 1247.6 906.9C1251.5 905 1259.1 899.9 1264.1 897.2C1269 894.6 1283.3 887.8 1288.9 884.8C1294.5 881.8 1306.6 874.4 1310.9 872.4C1315.2 870.4 1320.7 869.1 1324.7 868.3C1328.7 867.5 1336.7 866.2 1344 866.1C1351.3 866 1377.1 867.5 1385.3 867.7C1393.6 868 1404.6 868.9 1412.9 868.3C1421.2 867.7 1444.3 863.9 1454.2 862.8C1464.1 861.6 1485.6 859.6 1495.6 858.6C1505.5 857.7 1527 856 1536.9 854.5C1546.8 853 1570 847.7 1578.2 846.2C1586.5 844.8 1599.2 842.8 1605.8 842.1C1612.4 841.5 1626.7 840.6 1633.3 840.7C1640 840.9 1652.6 842.9 1660.9 843.5C1669.2 844.1 1688.7 845.3 1702.2 845.7C1715.8 846.1 1765.3 846.7 1773.9 846.8L1773.9 1038.6C1769.6 1039.4 1745.7 1043.2 1738 1045.2C1730.4 1047.2 1718.1 1053.1 1710.5 1055.1C1702.9 1057.2 1683.9 1061.4 1674.7 1062.3C1665.4 1063.1 1641.6 1062.8 1633.3 1062.3C1625.1 1061.8 1612.4 1058.3 1605.8 1058.1C1599.2 1058 1584.8 1060.9 1578.2 1060.9C1571.6 1060.9 1557.3 1059.3 1550.7 1058.1C1544.1 1057 1529.7 1052.7 1523.1 1051.3C1516.5 1049.8 1502.2 1046.6 1495.6 1045.7C1488.9 1044.9 1474.6 1044.2 1468 1044.4C1461.4 1044.5 1446.4 1046.3 1440.4 1047.1C1434.5 1048 1423.4 1051 1418.4 1051.3C1413.4 1051.6 1403.1 1048.4 1399.1 1049.6C1395.1 1050.9 1389 1059.2 1385.3 1061.7C1381.7 1064.2 1375.4 1069.6 1368.8 1070.5C1362.2 1071.5 1341.5 1069.6 1330.2 1069.4C1319 1069.3 1289.7 1069.6 1275.1 1069.4C1260.6 1069.3 1216.9 1068.5 1209 1068.3Z" fill="#fff4cc"/>
<path d="M1209 917.9C1211.6 911.7 1227.4 917.1 1231 918.4C1234.7 919.8 1237.3 925.3 1239.3 928.9C1241.3 932.5 1246.2 944.6 1247.6 948.2C1248.9 951.8 1251 957.2 1250.3 959.2C1249.7 961.2 1244.4 963.5 1242 964.7C1239.7 965.9 1235 968.5 1231 969.1C1227.1 969.8 1211.6 976.4 1209 970.2C1206.3 964.1 1206.3 924.1 1209 917.9Z" fill="#ffffff"/>
<path d="M1209 971.6C1211.6 971.5 1226.4 971.1 1231 970.2C1235.7 969.4 1244.6 966.1 1247.6 964.7C1250.5 963.4 1255 962.2 1255.8 959.2C1256.6 956.2 1254.8 945.2 1254.4 939.9C1254.1 934.6 1251.9 919.4 1253.1 915.1C1254.2 910.8 1259.8 906.9 1264.1 904.1C1268.4 901.3 1283.3 894.4 1288.9 891.7C1294.5 889.1 1305 884 1310.9 882.1C1316.9 880.2 1331.2 876.8 1338.5 876C1345.8 875.2 1362.6 875.1 1371.6 875.2C1380.5 875.2 1403 877.1 1412.9 876.6C1422.8 876 1444.3 871.7 1454.2 870.5C1464.1 869.3 1485.6 868 1495.6 866.9C1505.5 865.8 1527 862.9 1536.9 861.4C1546.8 859.9 1568.3 855.5 1578.2 854.5C1588.1 853.5 1609.6 853.2 1619.6 853.1C1629.5 853.1 1651 853.3 1660.9 854C1670.8 854.6 1694 857.8 1702.2 858.6C1710.5 859.5 1721.2 860.7 1729.8 861.4C1738.4 862.1 1768.6 864.3 1773.9 864.7L1773.9 1038.6C1769.6 1039.2 1745.7 1042.3 1738 1044.1C1730.4 1045.9 1718.1 1051.8 1710.5 1053.7C1702.9 1055.7 1683.9 1059.8 1674.7 1060.6C1665.4 1061.5 1641.6 1061.1 1633.3 1060.6C1625.1 1060.1 1612.4 1056.7 1605.8 1056.5C1599.2 1056.3 1584.8 1059.3 1578.2 1059.3C1571.6 1059.3 1557.3 1057.7 1550.7 1056.5C1544.1 1055.3 1529.7 1051.1 1523.1 1049.6C1516.5 1048.1 1502.2 1044.9 1495.6 1044.1C1488.9 1043.3 1474.6 1042.6 1468 1042.7C1461.4 1042.9 1446.4 1044.6 1440.4 1045.5C1434.5 1046.3 1423.4 1049.4 1418.4 1049.6C1413.4 1049.8 1403.7 1045.7 1399.1 1046.9C1394.5 1048 1383.8 1056.8 1379.8 1059.3C1375.9 1061.7 1372 1066.7 1366 1067.5C1360.1 1068.3 1341.1 1066.1 1330.2 1066.1C1319.3 1066.1 1289.7 1067.5 1275.1 1067.5C1260.6 1067.6 1216.9 1066.8 1209 1066.7Z" fill="#ffcc33"/>
<path d="M1209 982.6C1211.6 982.5 1226.4 981.8 1231 981.3C1235.7 980.8 1242.9 980 1247.6 978.5C1252.2 977 1264.6 969.9 1269.6 968.9C1274.6 967.9 1284.3 969.9 1288.9 970.2C1293.5 970.6 1305 972.6 1308.2 971.6C1311.3 970.6 1315.7 963.5 1315.1 962C1314.4 960.5 1307 960.5 1302.7 959.2C1298.4 957.9 1282.7 953.6 1279.2 951C1275.8 948.3 1273.6 941.5 1273.7 937.2C1273.9 932.9 1277.2 919.1 1280.6 915.1C1284.1 911.2 1296.7 906.2 1302.7 904.1C1308.6 902.1 1322 899.4 1330.2 898.1C1338.5 896.7 1361.6 893.6 1371.6 893.1C1381.5 892.6 1403 894 1412.9 893.6C1422.8 893.3 1444.3 891.1 1454.2 890.3C1464.1 889.6 1485.6 888.2 1495.6 887.6C1505.5 886.9 1528.6 886.1 1536.9 884.8C1545.2 883.5 1556.2 878.2 1564.4 876.6C1572.7 874.9 1595.9 871.2 1605.8 871C1615.7 870.9 1637.2 873.2 1647.1 875.2C1657 877.2 1678.5 884.8 1688.4 887.6C1698.4 890.4 1719.5 896.6 1729.8 898.6C1740 900.7 1768.6 903.9 1773.9 904.7L1773.9 1024.8C1769.6 1025.2 1745 1026.7 1738 1028.1C1731.1 1029.5 1721.3 1034.2 1716 1036.4C1710.7 1038.5 1698.9 1044.5 1694 1046C1689 1047.5 1680.3 1048.9 1674.7 1048.8C1669 1048.6 1652.7 1046.1 1647.1 1044.6C1641.5 1043.2 1632.8 1036.7 1627.8 1036.4C1622.9 1036 1611.7 1041.6 1605.8 1041.9C1599.8 1042.2 1584.8 1038.6 1578.2 1039.1C1571.6 1039.6 1557.3 1045.7 1550.7 1046C1544.1 1046.4 1529.7 1043 1523.1 1041.9C1516.5 1040.7 1502.2 1037.2 1495.6 1036.4C1488.9 1035.6 1474.6 1035 1468 1035C1461.4 1035 1446.4 1035.9 1440.4 1036.4C1434.5 1036.9 1424.4 1040.1 1418.4 1039.1C1412.4 1038.1 1395.8 1030.8 1390.8 1028.1C1385.9 1025.5 1379.7 1020.1 1377.1 1017.1C1374.4 1014.1 1371.1 1005.8 1368.8 1003.3C1366.5 1000.8 1361.7 997.3 1357.8 996.4C1353.8 995.6 1340.7 996.8 1335.7 996.4C1330.8 996.1 1320.4 993.2 1316.4 993.7C1312.5 994.2 1305.6 998.4 1302.7 1000.6C1299.7 1002.7 1294.5 1009.3 1291.6 1011.6C1288.8 1013.9 1280.7 1016.5 1279.2 1019.8C1277.8 1023.2 1277.1 1037.2 1279.2 1039.1C1281.4 1041.1 1291.7 1037 1297.2 1036.4C1302.6 1035.7 1319.8 1033.5 1324.7 1033.6C1329.7 1033.8 1336.2 1035.3 1338.5 1037.8C1340.8 1040.2 1346.6 1052.1 1344 1054.3C1341.4 1056.4 1324.7 1055 1316.4 1055.7C1308.2 1056.3 1288 1059.3 1275.1 1059.8C1262.2 1060.3 1216.9 1059.8 1209 1059.8Z" fill="#ffae33"/>
<path d="M1297.2 938.6C1298.8 936.7 1306.3 926 1310.9 923.4C1315.6 920.8 1326.8 917.2 1335.7 916.5C1344.7 915.8 1376.1 917 1385.3 917.3C1394.6 917.7 1404.6 919.5 1412.9 919.3C1421.2 919 1444.3 916.2 1454.2 915.1C1464.1 914 1487.3 911.3 1495.6 910.2C1503.8 909 1516.5 906.4 1523.1 905.5C1529.7 904.6 1542.4 902.8 1550.7 902.7C1558.9 902.6 1582.1 904 1592 904.7C1601.9 905.3 1623.4 907.3 1633.3 908.2C1643.3 909.2 1664.8 911.2 1674.7 912.4C1684.6 913.5 1704.1 916.5 1716 917.9C1727.9 919.3 1766.9 923.2 1773.9 924L1773.9 1012.1C1768.6 1011.4 1738.4 1007.5 1729.8 1006.1C1721.2 1004.7 1708.8 1001.7 1702.2 1000.6C1695.6 999.4 1681.3 996.9 1674.7 996.4C1668.1 995.9 1652.7 996.9 1647.1 996.4C1641.5 995.9 1631.1 992.1 1627.8 992.3C1624.5 992.5 1622.2 995.8 1619.6 997.8C1616.9 999.8 1610.1 1006.5 1605.8 1008.8C1601.5 1011.1 1588.4 1015.1 1583.7 1017.1C1579.1 1019.1 1571.2 1023.5 1567.2 1025.4C1563.2 1027.2 1556 1031.6 1550.7 1032.2C1545.4 1032.9 1529.7 1031.4 1523.1 1030.9C1516.5 1030.4 1502.2 1028.6 1495.6 1028.1C1488.9 1027.6 1474.6 1027.2 1468 1026.7C1461.4 1026.2 1447.1 1025.5 1440.4 1024C1433.8 1022.5 1417.5 1017.1 1412.9 1014.3C1408.3 1011.5 1403.9 1004.2 1401.9 1000.6C1399.9 996.9 1398.3 987.7 1396.4 984C1394.4 980.4 1388 973.2 1385.3 970.2C1382.7 967.3 1379.3 960.9 1374.3 959.2C1369.4 957.6 1350.9 957.8 1344 956.5C1337.1 955.1 1319.8 949.2 1316.4 948.2Z" fill="#ff9933"/>
<path d="M1440.4 960.6 L1451.5 948.2 L1465.2 937.7 L1495.6 935 L1523.1 933 L1542.4 935 L1553.4 945.4 L1563.1 960.6 L1556.2 970.2 L1536.9 977.1 L1520.4 982.6 L1531.4 992.3 L1542.4 999.2 L1556.2 996.4 L1568.6 1000.6 L1558.9 1005.5 L1542.4 1004.7 L1534.1 1013 L1524.5 1020.4 L1516.2 1011.6 L1512.1 997.8 L1512.1 982.6 L1495.6 974.4 L1473.5 968.9 L1454.2 966.1 Z" fill="#ff6e33"/>
<path d="M1696.7 960.6C1696.1 957.5 1701 946.4 1705 944.1C1709 941.8 1721.5 941.9 1729.8 941.3C1738 940.8 1768.6 932.6 1773.9 939.4C1779.2 946.2 1777.5 991.8 1773.9 997.8C1770.2 1003.8 1748.9 991.5 1743.6 989.5C1738.3 987.6 1733.8 983.6 1729.8 981.3C1725.8 979 1714.5 972.7 1710.5 970.2C1706.5 967.8 1697.4 963.7 1696.7 960.6Z" fill="#ff6e33"/>
<path d="M1720.1 961.4C1719.5 959.1 1726.1 955.1 1732.5 953.7C1739 952.3 1768.9 945.3 1773.9 949.6C1778.8 953.9 1776.8 985.4 1773.9 989.5C1770.9 993.7 1753.4 986 1749.1 984C1744.8 982 1741.5 975.7 1738 973C1734.6 970.3 1720.8 963.7 1720.1 961.4Z" fill="#e6291f"/>
<path d="M1666.4 1021.2C1666.4 1020.6 1674.5 1019.3 1677.4 1019.3C1680.4 1019.3 1691.2 1020.6 1691.2 1021.2C1691.2 1021.9 1680.4 1024.8 1677.4 1024.8C1674.5 1024.8 1666.4 1021.9 1666.4 1021.2Z" fill="#ffcc33"/>
<path d="M1225.5 1016.5C1226.5 1015.8 1232.2 1016.7 1233.8 1017.1C1235.4 1017.5 1238.7 1019.2 1238.7 1019.8C1238.7 1020.5 1235.4 1022.2 1233.8 1022.6C1232.2 1023 1226.5 1023.9 1225.5 1023.2C1224.5 1022.4 1224.5 1017.3 1225.5 1016.5Z" fill="#ff9933"/>
<path d="M1269.5 1142.4C1271.2 1140.7 1282.2 1137.7 1288.8 1135.5C1295.4 1133.4 1315.6 1126 1324.5 1124.5C1333.4 1123 1355.4 1122.5 1363 1123.1C1370.6 1123.8 1386.4 1127.5 1387.8 1130C1389.1 1132.5 1377.6 1140.1 1374 1143.8C1370.4 1147.4 1361.1 1157 1357.5 1160.3C1353.9 1163.6 1347.1 1169.4 1343.8 1171.3C1340.5 1173.1 1334 1175.4 1330 1175.4C1326.1 1175.4 1315.7 1173.4 1310.8 1171.3C1305.8 1169.1 1293 1160.2 1288.8 1157.5C1284.5 1154.9 1277.3 1151.1 1275 1149.3C1272.7 1147.4 1267.9 1144 1269.5 1142.4Z" fill="#ffcc33" stroke="#fff4cc" stroke-width="3" stroke-linejoin="round"/>
<path d="M1283.3 1142.4C1283.9 1140.2 1296.9 1135.9 1302.5 1134.1C1308.1 1132.4 1323.1 1128.6 1330 1127.8C1336.9 1127 1355 1126.7 1360.3 1127.3C1365.5 1127.9 1373.7 1130.5 1374 1132.8C1374.3 1135.1 1366 1143.2 1363 1146.5C1360 1149.8 1352.6 1157.6 1349.3 1160.3C1346 1162.9 1339.5 1168 1335.5 1168.5C1331.6 1169 1320.9 1166.4 1316.3 1164.4C1311.6 1162.4 1301 1154.7 1297 1152C1293 1149.4 1282.6 1144.5 1283.3 1142.4Z" fill="#ffae33"/>
<path d="M1297 1142.4C1298.3 1140.6 1311.3 1135.6 1316.3 1134.1C1321.2 1132.7 1333.3 1130.3 1338.3 1130C1343.2 1129.7 1354.5 1130.4 1357.5 1131.4C1360.5 1132.4 1363.7 1135.8 1363 1138.3C1362.4 1140.7 1355 1149.4 1352 1152C1349 1154.7 1341.9 1159.6 1338.3 1160.3C1334.6 1160.9 1325.7 1158.8 1321.8 1157.5C1317.8 1156.2 1308.2 1151.1 1305.3 1149.3C1302.3 1147.4 1295.7 1144.2 1297 1142.4Z" fill="#ff9933"/>
<path d="M1313.5 1142.4C1314.2 1140.6 1326.4 1136.2 1330 1135.5C1333.6 1134.9 1341.5 1136.1 1343.8 1136.9C1346.1 1137.7 1349.9 1140.7 1349.3 1142.4C1348.6 1144 1341.2 1149.6 1338.3 1150.6C1335.3 1151.6 1327.5 1151.6 1324.5 1150.6C1321.5 1149.6 1312.8 1144.2 1313.5 1142.4Z" fill="#ff6e33"/>
<path d="M1385 1203.7C1386.7 1202.2 1405.9 1196.5 1412.5 1194.6C1419.1 1192.8 1433.4 1189.7 1440 1188.3C1446.6 1186.9 1463.9 1183.6 1467.5 1182.8C1471.1 1182 1467 1182.1 1470 1181.5C1473 1180.9 1487.1 1178.4 1492.5 1177.7C1497.9 1177.1 1509.6 1176.2 1515 1176.2C1520.4 1176.3 1532.1 1177.9 1537.5 1178.5C1542.9 1179.1 1553.7 1180.8 1560 1181.5C1566.3 1182.2 1583.7 1184.2 1590 1184.5C1596.3 1184.8 1607.1 1184.3 1612.5 1183.7C1617.9 1183.2 1630.9 1181.2 1635 1180C1639.1 1178.8 1645 1175.8 1647 1174C1649 1172.2 1651.1 1166.8 1651.5 1165C1651.9 1163.2 1651.1 1160.8 1650 1159C1648.9 1157.2 1645.2 1152 1642.5 1150C1639.8 1148 1631.1 1144.3 1627.5 1142.5C1623.9 1140.7 1616.8 1136.7 1612.5 1135C1608.2 1133.3 1592 1129.4 1591.5 1128.7C1591 1128 1604.6 1128.5 1608 1129.3C1611.4 1130.1 1616.8 1133.9 1620 1135C1623.2 1136.1 1630.5 1137.4 1635 1138.7C1639.5 1140.1 1653.2 1144.4 1657.5 1146.2C1661.8 1148 1669.4 1151.9 1671 1153.7C1672.6 1155.6 1671.7 1158.8 1671 1162C1670.3 1165.1 1665 1176 1665 1180C1665 1184 1674.6 1192.8 1671 1195C1667.4 1197.2 1644.7 1198 1635 1198C1625.3 1198 1602.6 1195.7 1590 1195C1577.4 1194.3 1544.4 1191.8 1530 1192C1515.6 1192.2 1480.8 1195.4 1470 1196.5C1459.2 1197.6 1448.6 1200.3 1440 1201.5C1431.5 1202.8 1405.4 1206.8 1398.8 1207C1392.2 1207.3 1383.4 1205.2 1385 1203.7Z" fill="#fff4cc"/>
<path d="M1283 1196.5C1284.4 1194.7 1294.8 1189.1 1298 1187.5C1301.2 1185.9 1307 1183.6 1310 1183.3C1313 1183 1322.4 1184 1322.7 1184.8C1323.1 1185.6 1315.5 1188.4 1313 1189.7C1310.5 1191.1 1303.4 1194.2 1301.7 1195.7C1300.1 1197.3 1301.4 1201.7 1299.5 1202.5C1297.6 1203.3 1288 1203.2 1286 1202.5C1284 1201.8 1281.6 1198.3 1283 1196.5Z" fill="#fff4cc"/>
<path d="M1209 1176.2C1211 1176.2 1219.9 1176.3 1225.5 1176.2C1231.1 1176.1 1248.2 1174.8 1255.8 1175.4C1263.3 1176 1282.2 1179.7 1288.8 1180.9C1295.4 1182 1309.4 1183.7 1310.8 1185C1312.1 1186.3 1302.2 1190.2 1299.8 1191.9C1297.3 1193.5 1288.2 1197.2 1290.1 1198.8C1292.1 1200.3 1309.8 1203.8 1316.3 1204.8C1322.7 1205.8 1337.2 1206.9 1343.8 1207C1350.4 1207.1 1364.7 1206.2 1371.3 1205.6C1377.9 1205 1392.2 1203 1398.8 1202.1C1405.4 1201.2 1419.7 1199.1 1426.3 1198.2C1432.9 1197.4 1448.5 1195.5 1453.8 1194.9C1459 1194.4 1465.4 1194 1470 1193.5C1474.6 1193 1487.1 1191.4 1492.5 1190.5C1497.9 1189.6 1509.6 1186.4 1515 1186C1520.4 1185.6 1532.1 1187 1537.5 1187.5C1542.9 1187.9 1553.7 1189.3 1560 1189.7C1566.3 1190.1 1583.7 1190.3 1590 1190.8C1596.3 1191.2 1607.1 1193 1612.5 1193.5C1617.9 1194 1628.5 1195 1635 1195C1641.5 1195 1664.5 1194.3 1666.5 1193.2C1668.5 1192.1 1652.9 1187.6 1651.5 1186C1650.1 1184.4 1654 1182 1654.5 1180C1655 1178 1655.1 1171.8 1656 1169.5C1656.9 1167.2 1660.4 1162.1 1662 1160.5C1663.6 1158.9 1665.5 1156.6 1669.5 1156C1673.4 1155.4 1688.3 1155.8 1695 1155.7C1701.6 1155.6 1715.8 1154.9 1725 1154.8C1734.2 1154.7 1765.9 1155.2 1771.5 1155.2L1771 1155.2 L1771 1280 L1220.3 1280 L1220.3 1176.2 Z" fill="#ffcc33" stroke="#fff4cc" stroke-width="2.5" stroke-linejoin="round"/>
<path d="M1467 1150.7C1469.2 1149.4 1480.1 1148.1 1485 1147.7C1489.9 1147.4 1502.4 1147.3 1507.5 1147.7C1512.6 1148.2 1526.8 1150.6 1527.7 1151.8C1528.6 1153 1519.2 1156.8 1515 1157.8C1510.8 1158.8 1498.3 1159.7 1492.5 1159.9C1486.7 1160.1 1470.1 1160.4 1467 1159.3C1463.9 1158.2 1464.8 1152.1 1467 1150.7Z" fill="#ffcc33" stroke="#fff4cc" stroke-width="2.5" stroke-linejoin="round"/>
<path d="M1209 1181.7C1214.3 1179.7 1245.1 1181.5 1253 1182.3C1260.9 1183 1274 1186.1 1275 1187.8C1276 1189.4 1269.2 1194.6 1261.3 1196C1253.3 1197.4 1215.3 1201 1209 1199.3C1202.7 1197.6 1203.7 1183.8 1209 1181.7Z" fill="#ffae33"/>
<path d="M1209 1212.5C1211 1212.5 1217.6 1212.4 1225.5 1212.5C1233.4 1212.7 1262.5 1213.2 1275 1213.9C1287.5 1214.6 1318.5 1217.2 1330 1218C1341.6 1218.8 1364.7 1219.1 1371.3 1220.8C1377.9 1222.4 1381.7 1228.8 1385 1231.8C1388.3 1234.7 1394.8 1242.2 1398.8 1245.5C1402.7 1248.8 1415 1256.1 1418 1259.3C1421 1262.4 1422.7 1268.7 1423.5 1271.7C1424.3 1274.6 1424.7 1282.5 1424.9 1284L1220.3 1280 Z" fill="#ffae33"/>
<path d="M1292.9 1248.3C1293.5 1246.8 1302.1 1241.6 1305.3 1241.4C1308.4 1241.2 1318 1245.1 1319 1246.9C1320 1248.7 1315.8 1255.7 1313.5 1256.5C1311.2 1257.3 1302.2 1254.8 1299.8 1253.8C1297.3 1252.8 1292.2 1249.8 1292.9 1248.3Z" fill="#ffcc33"/>
<path d="M1225.5 1257.1 L1247.5 1264.8 L1264 1271.7 L1225.5 1271.7 Z" fill="#ffffff"/>
<path d="M1672.5 1171C1673.4 1169.7 1683 1167.2 1687.5 1166.5C1692 1165.8 1703.7 1165.3 1710 1165C1716.3 1164.7 1732.6 1164.5 1740 1164.2C1747.4 1164 1767.7 1160.6 1771.5 1163.2C1775.3 1165.8 1775.3 1182.7 1771.5 1186C1767.7 1189.3 1745.6 1189.6 1740 1190.5C1734.4 1191.4 1728.6 1193.7 1725 1193.5C1721.4 1193.3 1713.6 1190.3 1710 1189C1706.4 1187.7 1698.6 1184.4 1695 1183C1691.4 1181.6 1682.7 1178.4 1680 1177C1677.3 1175.6 1671.6 1172.3 1672.5 1171Z" fill="#ffae33"/>
<path d="M1704 1171.7C1704.9 1170.3 1719.8 1167.2 1725 1166.5C1730.2 1165.8 1741.9 1165.8 1747.5 1165.7C1753.1 1165.7 1768.6 1163 1771.5 1166.2C1774.4 1169.4 1774.4 1189.7 1771.5 1192.3C1768.6 1194.9 1752.2 1188.6 1747.5 1187.5C1742.8 1186.4 1736.1 1184.1 1732.5 1183C1728.9 1181.9 1720.9 1179.8 1717.5 1178.5C1714.1 1177.1 1703.1 1173.2 1704 1171.7Z" fill="#ff9933"/>
<path d="M1771.5 1209.7C1765.9 1209.8 1734.2 1210.5 1725 1210.7C1715.8 1211 1700.7 1211 1695 1211.5C1689.2 1211.9 1679.9 1212.9 1677 1214.5C1674.1 1216.1 1672.1 1221.9 1671 1225C1669.9 1228.1 1669.6 1237.1 1668 1240C1666.4 1242.9 1660 1247.2 1657.5 1249C1655 1250.8 1649.7 1253.6 1647 1255C1644.3 1256.4 1639.1 1260.5 1635 1261C1630.9 1261.5 1617.5 1259.9 1612.5 1259.5C1607.5 1259.1 1597.5 1257.5 1593 1258C1588.5 1258.5 1579.3 1263.1 1575 1264C1570.7 1264.9 1559.6 1264.2 1557 1265.5C1554.4 1266.8 1553.7 1273.4 1553.2 1274.5L1771 1280 Z" fill="#ffae33"/>
<path d="M1771.5 1214.2C1767.7 1210.6 1745.9 1215.4 1740 1216C1734 1216.6 1725.2 1217.9 1722 1219C1718.7 1220.1 1714.4 1223.2 1713 1225C1711.5 1226.8 1710 1231.5 1710 1234C1710 1236.5 1711.5 1243.5 1713 1246C1714.4 1248.5 1718.7 1254.3 1722 1255C1725.2 1255.7 1734 1253.1 1740 1252C1745.9 1250.9 1767.7 1250.2 1771.5 1245.7C1775.3 1241.2 1775.3 1217.8 1771.5 1214.2Z" fill="#ff9933"/>
<path d="M1447.5 1225C1451.6 1223.9 1465.5 1222.5 1470 1222C1474.5 1221.5 1480.5 1221.4 1485 1220.5C1489.5 1219.6 1503 1215.4 1507.5 1214.5C1512 1213.6 1519.6 1212.6 1522.5 1213C1525.4 1213.4 1530.6 1216.1 1531.5 1217.5C1532.4 1218.9 1532 1223.2 1530 1225C1528 1226.8 1519.5 1231.1 1515 1232.5C1510.5 1233.8 1497.9 1235.9 1492.5 1236.2C1487.1 1236.6 1474.9 1234.7 1470 1235.2C1465.1 1235.6 1456.5 1239.3 1452 1240C1447.5 1240.6 1435.2 1241 1432.5 1240.6C1429.8 1240.1 1429.4 1237.4 1429.8 1236.2C1430.2 1235.1 1433.4 1232.3 1435.5 1231C1437.6 1229.6 1443.4 1226.1 1447.5 1225Z" fill="#fff4cc"/>
<path d="M1581 1228.3C1581 1227.6 1584.2 1225.7 1585.2 1225.7C1586.2 1225.7 1589.2 1227.6 1589.2 1228.3C1589.2 1229 1586.2 1231.3 1585.2 1231.3C1584.2 1231.3 1581 1229 1581 1228.3Z" fill="#ffffff"/>
<path d="M1453.5 1249C1453.5 1248.4 1466.2 1246.7 1470 1246.7C1473.8 1246.7 1485 1248.4 1485 1249C1485 1249.6 1473.8 1251.7 1470 1251.7C1466.2 1251.7 1453.5 1249.6 1453.5 1249Z" fill="#ffae33"/>
<path d="M1498.5 1249.3C1498.5 1248.2 1510.7 1245.3 1515 1245.2C1519.3 1245.2 1534.5 1247.9 1534.5 1249C1534.5 1250.1 1519.3 1254.2 1515 1254.2C1510.7 1254.3 1498.5 1250.4 1498.5 1249.3Z" fill="#ffae33"/>
<path d="M1228.3 1205.5C1233.8 1205.4 1251.2 1204.8 1261.3 1204.8C1271.3 1204.8 1277.3 1205.5 1288.8 1205.6C1300.2 1205.8 1319.5 1206.2 1330 1205.9C1340.6 1205.6 1344.7 1204.9 1352 1203.7C1359.3 1202.5 1367.6 1200.6 1374 1198.8C1380.4 1196.9 1385.9 1195 1390.5 1192.7C1395.1 1190.4 1397.9 1187.9 1401.5 1185C1405.2 1182.1 1407.9 1178.5 1412.5 1175.4C1417.1 1172.3 1423.1 1168.8 1429 1166.3C1435 1163.8 1441.9 1161.9 1448.3 1160.3C1454.7 1158.7 1459.7 1157.5 1467.5 1156.7C1475.3 1155.9 1485.9 1155.6 1495 1155.6C1504.2 1155.6 1514.3 1155.9 1522.5 1156.7C1530.8 1157.5 1537.7 1158.5 1544.5 1160.3C1551.4 1162 1557.8 1164.6 1563.8 1167.1C1569.7 1169.7 1574.8 1172.2 1580.3 1175.4C1585.8 1178.6 1590.8 1183 1596.8 1186.4C1602.7 1189.7 1609.2 1192.9 1616 1195.5C1622.9 1198 1630.7 1200 1638 1201.5C1645.4 1203.1 1651.8 1204.1 1660 1204.8C1668.3 1205.6 1676.1 1205.6 1687.5 1205.9C1699 1206.3 1715 1206.7 1728.8 1207C1742.6 1207.3 1763.2 1207.7 1770.1 1207.8" fill="none" stroke="#000" stroke-width="6.1" stroke-dasharray="13.3 13.7" stroke-dashoffset="-3" stroke-linecap="round"/>
</g>
</g>
<g id="colorbars">
<rect x="1890" y="41.2" width="40" height="35.7" fill="#96141b"/>
<rect x="1890" y="76.4" width="40" height="35.7" fill="#c31e27"/>
<rect x="1890" y="111.6" width="40" height="35.7" fill="#e84e2a"/>
<rect x="1890" y="146.8" width="40" height="35.7" fill="#f8862e"/>
<rect x="1890" y="182" width="40" height="35.7" fill="#fdb945"/>
<rect x="1890" y="217.2" width="40" height="35.7" fill="#fde592"/>
<rect x="1890" y="252.4" width="40" height="35.2" fill="#fff8e3"/>
<rect x="1890" y="323.5" width="40" height="35.6" fill="#f2f9fd"/>
<rect x="1890" y="358.6" width="40" height="35.6" fill="#d2ecf8"/>
<rect x="1890" y="393.7" width="40" height="35.6" fill="#a3dbf5"/>
<rect x="1890" y="428.8" width="40" height="35.6" fill="#6fb3de"/>
<rect x="1890" y="463.9" width="40" height="35.6" fill="#417fc0"/>
<rect x="1890" y="499" width="40" height="35.6" fill="#254f98"/>
<rect x="1890" y="534.1" width="40" height="35.1" fill="#1f2d62"/>
<path d="M1917.5 761.5 L1937 822 L1937 826 L1898 826 L1898 822 Z" fill="#c81f15"/>
<rect x="1898" y="825" width="39" height="64.2" fill="#e6291f"/>
<rect x="1898" y="888.7" width="39" height="64.2" fill="#ff6e33"/>
<rect x="1898" y="952.4" width="39" height="64.2" fill="#ff9933"/>
<rect x="1898" y="1016.1" width="39" height="64.2" fill="#ffae33"/>
<rect x="1898" y="1079.8" width="39" height="64.2" fill="#ffcc33"/>
<rect x="1898" y="1143.5" width="39" height="63.7" fill="#fff4cc"/>
</g>
<g id="axes" stroke="#000" fill="none">
<rect x="157.9" y="50.8" width="1592.1" height="531.2" fill="none" stroke-width="4.1"/>
<line x1="689.1" y1="50.8" x2="689.1" y2="582" stroke-width="5.7" stroke-linecap="butt"/>
<line x1="1219.8" y1="50.8" x2="1219.8" y2="582" stroke-width="5.2" stroke-linecap="butt"/>
<line x1="144.3" y1="50.8" x2="157.9" y2="50.8" stroke-width="3.8" stroke-linecap="round"/>
<line x1="1750" y1="50.8" x2="1764.2" y2="50.8" stroke-width="3.8" stroke-linecap="round"/>
<line x1="144.3" y1="157" x2="157.9" y2="157" stroke-width="3.8" stroke-linecap="round"/>
<line x1="1750" y1="157" x2="1764.2" y2="157" stroke-width="3.8" stroke-linecap="round"/>
<line x1="144.3" y1="263.3" x2="157.9" y2="263.3" stroke-width="3.8" stroke-linecap="round"/>
<line x1="1750" y1="263.3" x2="1764.2" y2="263.3" stroke-width="3.8" stroke-linecap="round"/>
<line x1="144.3" y1="369.5" x2="157.9" y2="369.5" stroke-width="3.8" stroke-linecap="round"/>
<line x1="1750" y1="369.5" x2="1764.2" y2="369.5" stroke-width="3.8" stroke-linecap="round"/>
<line x1="144.3" y1="475.8" x2="157.9" y2="475.8" stroke-width="3.8" stroke-linecap="round"/>
<line x1="1750" y1="475.8" x2="1764.2" y2="475.8" stroke-width="3.8" stroke-linecap="round"/>
<line x1="181.8" y1="43.9" x2="181.8" y2="50.8" stroke-width="2.6" stroke-linecap="round"/>
<line x1="181.8" y1="582" x2="181.8" y2="588.9" stroke-width="2.6" stroke-linecap="round"/>
<line x1="212" y1="43.9" x2="212" y2="50.8" stroke-width="2.6" stroke-linecap="round"/>
<line x1="212" y1="582" x2="212" y2="588.9" stroke-width="2.6" stroke-linecap="round"/>
<line x1="242.2" y1="36.8" x2="242.2" y2="50.8" stroke-width="3.8" stroke-linecap="round"/>
<line x1="242.2" y1="582" x2="242.2" y2="596" stroke-width="3.8" stroke-linecap="round"/>
<line x1="272.4" y1="43.9" x2="272.4" y2="50.8" stroke-width="2.6" stroke-linecap="round"/>
<line x1="272.4" y1="582" x2="272.4" y2="588.9" stroke-width="2.6" stroke-linecap="round"/>
<line x1="302.6" y1="43.9" x2="302.6" y2="50.8" stroke-width="2.6" stroke-linecap="round"/>
<line x1="302.6" y1="582" x2="302.6" y2="588.9" stroke-width="2.6" stroke-linecap="round"/>
<line x1="332.9" y1="36.8" x2="332.9" y2="50.8" stroke-width="3.8" stroke-linecap="round"/>
<line x1="332.9" y1="582" x2="332.9" y2="596" stroke-width="3.8" stroke-linecap="round"/>
<line x1="363.1" y1="43.9" x2="363.1" y2="50.8" stroke-width="2.6" stroke-linecap="round"/>
<line x1="363.1" y1="582" x2="363.1" y2="588.9" stroke-width="2.6" stroke-linecap="round"/>
<line x1="393.3" y1="43.9" x2="393.3" y2="50.8" stroke-width="2.6" stroke-linecap="round"/>
<line x1="393.3" y1="582" x2="393.3" y2="588.9" stroke-width="2.6" stroke-linecap="round"/>
<line x1="423.5" y1="36.8" x2="423.5" y2="50.8" stroke-width="3.8" stroke-linecap="round"/>
<line x1="423.5" y1="582" x2="423.5" y2="596" stroke-width="3.8" stroke-linecap="round"/>
<line x1="453.7" y1="43.9" x2="453.7" y2="50.8" stroke-width="2.6" stroke-linecap="round"/>
<line x1="453.7" y1="582" x2="453.7" y2="588.9" stroke-width="2.6" stroke-linecap="round"/>
<line x1="483.9" y1="43.9" x2="483.9" y2="50.8" stroke-width="2.6" stroke-linecap="round"/>
<line x1="483.9" y1="582" x2="483.9" y2="588.9" stroke-width="2.6" stroke-linecap="round"/>
<line x1="514.1" y1="36.8" x2="514.1" y2="50.8" stroke-width="3.8" stroke-linecap="round"/>
<line x1="514.1" y1="582" x2="514.1" y2="596" stroke-width="3.8" stroke-linecap="round"/>
<line x1="544.4" y1="43.9" x2="544.4" y2="50.8" stroke-width="2.6" stroke-linecap="round"/>
<line x1="544.4" y1="582" x2="544.4" y2="588.9" stroke-width="2.6" stroke-linecap="round"/>
<line x1="574.6" y1="43.9" x2="574.6" y2="50.8" stroke-width="2.6" stroke-linecap="round"/>
<line x1="574.6" y1="582" x2="574.6" y2="588.9" stroke-width="2.6" stroke-linecap="round"/>
<line x1="604.8" y1="36.8" x2="604.8" y2="50.8" stroke-width="3.8" stroke-linecap="round"/>
<line x1="604.8" y1="582" x2="604.8" y2="596" stroke-width="3.8" stroke-linecap="round"/>
<line x1="635" y1="43.9" x2="635" y2="50.8" stroke-width="2.6" stroke-linecap="round"/>
<line x1="635" y1="582" x2="635" y2="588.9" stroke-width="2.6" stroke-linecap="round"/>
<line x1="665.2" y1="43.9" x2="665.2" y2="50.8" stroke-width="2.6" stroke-linecap="round"/>
<line x1="665.2" y1="582" x2="665.2" y2="588.9" stroke-width="2.6" stroke-linecap="round"/>
<line x1="712.9" y1="43.9" x2="712.9" y2="50.8" stroke-width="2.6" stroke-linecap="round"/>
<line x1="712.9" y1="582" x2="712.9" y2="588.9" stroke-width="2.6" stroke-linecap="round"/>
<line x1="743.1" y1="43.9" x2="743.1" y2="50.8" stroke-width="2.6" stroke-linecap="round"/>
<line x1="743.1" y1="582" x2="743.1" y2="588.9" stroke-width="2.6" stroke-linecap="round"/>
<line x1="773.3" y1="36.8" x2="773.3" y2="50.8" stroke-width="3.8" stroke-linecap="round"/>
<line x1="773.3" y1="582" x2="773.3" y2="596" stroke-width="3.8" stroke-linecap="round"/>
<line x1="803.5" y1="43.9" x2="803.5" y2="50.8" stroke-width="2.6" stroke-linecap="round"/>
<line x1="803.5" y1="582" x2="803.5" y2="588.9" stroke-width="2.6" stroke-linecap="round"/>
<line x1="833.7" y1="43.9" x2="833.7" y2="50.8" stroke-width="2.6" stroke-linecap="round"/>
<line x1="833.7" y1="582" x2="833.7" y2="588.9" stroke-width="2.6" stroke-linecap="round"/>
<line x1="863.9" y1="36.8" x2="863.9" y2="50.8" stroke-width="3.8" stroke-linecap="round"/>
<line x1="863.9" y1="582" x2="863.9" y2="596" stroke-width="3.8" stroke-linecap="round"/>
<line x1="894.1" y1="43.9" x2="894.1" y2="50.8" stroke-width="2.6" stroke-linecap="round"/>
<line x1="894.1" y1="582" x2="894.1" y2="588.9" stroke-width="2.6" stroke-linecap="round"/>
<line x1="924.3" y1="43.9" x2="924.3" y2="50.8" stroke-width="2.6" stroke-linecap="round"/>
<line x1="924.3" y1="582" x2="924.3" y2="588.9" stroke-width="2.6" stroke-linecap="round"/>
<line x1="954.5" y1="36.8" x2="954.5" y2="50.8" stroke-width="3.8" stroke-linecap="round"/>
<line x1="954.5" y1="582" x2="954.5" y2="596" stroke-width="3.8" stroke-linecap="round"/>
<line x1="984.6" y1="43.9" x2="984.6" y2="50.8" stroke-width="2.6" stroke-linecap="round"/>
<line x1="984.6" y1="582" x2="984.6" y2="588.9" stroke-width="2.6" stroke-linecap="round"/>
<line x1="1014.8" y1="43.9" x2="1014.8" y2="50.8" stroke-width="2.6" stroke-linecap="round"/>
<line x1="1014.8" y1="582" x2="1014.8" y2="588.9" stroke-width="2.6" stroke-linecap="round"/>
<line x1="1045" y1="36.8" x2="1045" y2="50.8" stroke-width="3.8" stroke-linecap="round"/>
<line x1="1045" y1="582" x2="1045" y2="596" stroke-width="3.8" stroke-linecap="round"/>
<line x1="1075.2" y1="43.9" x2="1075.2" y2="50.8" stroke-width="2.6" stroke-linecap="round"/>
<line x1="1075.2" y1="582" x2="1075.2" y2="588.9" stroke-width="2.6" stroke-linecap="round"/>
<line x1="1105.4" y1="43.9" x2="1105.4" y2="50.8" stroke-width="2.6" stroke-linecap="round"/>
<line x1="1105.4" y1="582" x2="1105.4" y2="588.9" stroke-width="2.6" stroke-linecap="round"/>
<line x1="1135.6" y1="36.8" x2="1135.6" y2="50.8" stroke-width="3.8" stroke-linecap="round"/>
<line x1="1135.6" y1="582" x2="1135.6" y2="596" stroke-width="3.8" stroke-linecap="round"/>
<line x1="1165.8" y1="43.9" x2="1165.8" y2="50.8" stroke-width="2.6" stroke-linecap="round"/>
<line x1="1165.8" y1="582" x2="1165.8" y2="588.9" stroke-width="2.6" stroke-linecap="round"/>
<line x1="1196" y1="43.9" x2="1196" y2="50.8" stroke-width="2.6" stroke-linecap="round"/>
<line x1="1196" y1="582" x2="1196" y2="588.9" stroke-width="2.6" stroke-linecap="round"/>
<line x1="1243.6" y1="43.9" x2="1243.6" y2="50.8" stroke-width="2.6" stroke-linecap="round"/>
<line x1="1243.6" y1="582" x2="1243.6" y2="588.9" stroke-width="2.6" stroke-linecap="round"/>
<line x1="1273.8" y1="43.9" x2="1273.8" y2="50.8" stroke-width="2.6" stroke-linecap="round"/>
<line x1="1273.8" y1="582" x2="1273.8" y2="588.9" stroke-width="2.6" stroke-linecap="round"/>
<line x1="1303.9" y1="36.8" x2="1303.9" y2="50.8" stroke-width="3.8" stroke-linecap="round"/>
<line x1="1303.9" y1="582" x2="1303.9" y2="596" stroke-width="3.8" stroke-linecap="round"/>
<line x1="1334.1" y1="43.9" x2="1334.1" y2="50.8" stroke-width="2.6" stroke-linecap="round"/>
<line x1="1334.1" y1="582" x2="1334.1" y2="588.9" stroke-width="2.6" stroke-linecap="round"/>
<line x1="1364.3" y1="43.9" x2="1364.3" y2="50.8" stroke-width="2.6" stroke-linecap="round"/>
<line x1="1364.3" y1="582" x2="1364.3" y2="588.9" stroke-width="2.6" stroke-linecap="round"/>
<line x1="1394.4" y1="36.8" x2="1394.4" y2="50.8" stroke-width="3.8" stroke-linecap="round"/>
<line x1="1394.4" y1="582" x2="1394.4" y2="596" stroke-width="3.8" stroke-linecap="round"/>
<line x1="1424.6" y1="43.9" x2="1424.6" y2="50.8" stroke-width="2.6" stroke-linecap="round"/>
<line x1="1424.6" y1="582" x2="1424.6" y2="588.9" stroke-width="2.6" stroke-linecap="round"/>
<line x1="1454.7" y1="43.9" x2="1454.7" y2="50.8" stroke-width="2.6" stroke-linecap="round"/>
<line x1="1454.7" y1="582" x2="1454.7" y2="588.9" stroke-width="2.6" stroke-linecap="round"/>
<line x1="1484.9" y1="36.8" x2="1484.9" y2="50.8" stroke-width="3.8" stroke-linecap="round"/>
<line x1="1484.9" y1="582" x2="1484.9" y2="596" stroke-width="3.8" stroke-linecap="round"/>
<line x1="1515.1" y1="43.9" x2="1515.1" y2="50.8" stroke-width="2.6" stroke-linecap="round"/>
<line x1="1515.1" y1="582" x2="1515.1" y2="588.9" stroke-width="2.6" stroke-linecap="round"/>
<line x1="1545.2" y1="43.9" x2="1545.2" y2="50.8" stroke-width="2.6" stroke-linecap="round"/>
<line x1="1545.2" y1="582" x2="1545.2" y2="588.9" stroke-width="2.6" stroke-linecap="round"/>
<line x1="1575.4" y1="36.8" x2="1575.4" y2="50.8" stroke-width="3.8" stroke-linecap="round"/>
<line x1="1575.4" y1="582" x2="1575.4" y2="596" stroke-width="3.8" stroke-linecap="round"/>
<line x1="1605.5" y1="43.9" x2="1605.5" y2="50.8" stroke-width="2.6" stroke-linecap="round"/>
<line x1="1605.5" y1="582" x2="1605.5" y2="588.9" stroke-width="2.6" stroke-linecap="round"/>
<line x1="1635.7" y1="43.9" x2="1635.7" y2="50.8" stroke-width="2.6" stroke-linecap="round"/>
<line x1="1635.7" y1="582" x2="1635.7" y2="588.9" stroke-width="2.6" stroke-linecap="round"/>
<line x1="1665.9" y1="36.8" x2="1665.9" y2="50.8" stroke-width="3.8" stroke-linecap="round"/>
<line x1="1665.9" y1="582" x2="1665.9" y2="596" stroke-width="3.8" stroke-linecap="round"/>
<line x1="1696" y1="43.9" x2="1696" y2="50.8" stroke-width="2.6" stroke-linecap="round"/>
<line x1="1696" y1="582" x2="1696" y2="588.9" stroke-width="2.6" stroke-linecap="round"/>
<line x1="1726.2" y1="43.9" x2="1726.2" y2="50.8" stroke-width="2.6" stroke-linecap="round"/>
<line x1="1726.2" y1="582" x2="1726.2" y2="588.9" stroke-width="2.6" stroke-linecap="round"/>
<rect x="158.9" y="738.3" width="1604.1" height="533.7" fill="none" stroke-width="4.1"/>
<line x1="694.1" y1="738.3" x2="694.1" y2="1272" stroke-width="4.8" stroke-linecap="butt"/>
<line x1="1228.3" y1="738.3" x2="1228.3" y2="1272" stroke-width="4.1" stroke-linecap="butt"/>
<line x1="145.3" y1="738.3" x2="158.9" y2="738.3" stroke-width="3.8" stroke-linecap="round"/>
<line x1="1763" y1="738.3" x2="1777.2" y2="738.3" stroke-width="3.8" stroke-linecap="round"/>
<line x1="145.3" y1="845" x2="158.9" y2="845" stroke-width="3.8" stroke-linecap="round"/>
<line x1="1763" y1="845" x2="1777.2" y2="845" stroke-width="3.8" stroke-linecap="round"/>
<line x1="145.3" y1="951.8" x2="158.9" y2="951.8" stroke-width="3.8" stroke-linecap="round"/>
<line x1="1763" y1="951.8" x2="1777.2" y2="951.8" stroke-width="3.8" stroke-linecap="round"/>
<line x1="145.3" y1="1058.5" x2="158.9" y2="1058.5" stroke-width="3.8" stroke-linecap="round"/>
<line x1="1763" y1="1058.5" x2="1777.2" y2="1058.5" stroke-width="3.8" stroke-linecap="round"/>
<line x1="145.3" y1="1165.3" x2="158.9" y2="1165.3" stroke-width="3.8" stroke-linecap="round"/>
<line x1="1763" y1="1165.3" x2="1777.2" y2="1165.3" stroke-width="3.8" stroke-linecap="round"/>
<line x1="183" y1="731.4" x2="183" y2="738.3" stroke-width="2.6" stroke-linecap="round"/>
<line x1="183" y1="1272" x2="183" y2="1278.9" stroke-width="2.6" stroke-linecap="round"/>
<line x1="213.4" y1="731.4" x2="213.4" y2="738.3" stroke-width="2.6" stroke-linecap="round"/>
<line x1="213.4" y1="1272" x2="213.4" y2="1278.9" stroke-width="2.6" stroke-linecap="round"/>
<line x1="243.8" y1="724.3" x2="243.8" y2="738.3" stroke-width="3.8" stroke-linecap="round"/>
<line x1="243.8" y1="1272" x2="243.8" y2="1286" stroke-width="3.8" stroke-linecap="round"/>
<line x1="274.3" y1="731.4" x2="274.3" y2="738.3" stroke-width="2.6" stroke-linecap="round"/>
<line x1="274.3" y1="1272" x2="274.3" y2="1278.9" stroke-width="2.6" stroke-linecap="round"/>
<line x1="304.7" y1="731.4" x2="304.7" y2="738.3" stroke-width="2.6" stroke-linecap="round"/>
<line x1="304.7" y1="1272" x2="304.7" y2="1278.9" stroke-width="2.6" stroke-linecap="round"/>
<line x1="335.2" y1="724.3" x2="335.2" y2="738.3" stroke-width="3.8" stroke-linecap="round"/>
<line x1="335.2" y1="1272" x2="335.2" y2="1286" stroke-width="3.8" stroke-linecap="round"/>
<line x1="365.6" y1="731.4" x2="365.6" y2="738.3" stroke-width="2.6" stroke-linecap="round"/>
<line x1="365.6" y1="1272" x2="365.6" y2="1278.9" stroke-width="2.6" stroke-linecap="round"/>
<line x1="396.1" y1="731.4" x2="396.1" y2="738.3" stroke-width="2.6" stroke-linecap="round"/>
<line x1="396.1" y1="1272" x2="396.1" y2="1278.9" stroke-width="2.6" stroke-linecap="round"/>
<line x1="426.5" y1="724.3" x2="426.5" y2="738.3" stroke-width="3.8" stroke-linecap="round"/>
<line x1="426.5" y1="1272" x2="426.5" y2="1286" stroke-width="3.8" stroke-linecap="round"/>
<line x1="456.9" y1="731.4" x2="456.9" y2="738.3" stroke-width="2.6" stroke-linecap="round"/>
<line x1="456.9" y1="1272" x2="456.9" y2="1278.9" stroke-width="2.6" stroke-linecap="round"/>
<line x1="487.4" y1="731.4" x2="487.4" y2="738.3" stroke-width="2.6" stroke-linecap="round"/>
<line x1="487.4" y1="1272" x2="487.4" y2="1278.9" stroke-width="2.6" stroke-linecap="round"/>
<line x1="517.8" y1="724.3" x2="517.8" y2="738.3" stroke-width="3.8" stroke-linecap="round"/>
<line x1="517.8" y1="1272" x2="517.8" y2="1286" stroke-width="3.8" stroke-linecap="round"/>
<line x1="548.3" y1="731.4" x2="548.3" y2="738.3" stroke-width="2.6" stroke-linecap="round"/>
<line x1="548.3" y1="1272" x2="548.3" y2="1278.9" stroke-width="2.6" stroke-linecap="round"/>
<line x1="578.7" y1="731.4" x2="578.7" y2="738.3" stroke-width="2.6" stroke-linecap="round"/>
<line x1="578.7" y1="1272" x2="578.7" y2="1278.9" stroke-width="2.6" stroke-linecap="round"/>
<line x1="609.2" y1="724.3" x2="609.2" y2="738.3" stroke-width="3.8" stroke-linecap="round"/>
<line x1="609.2" y1="1272" x2="609.2" y2="1286" stroke-width="3.8" stroke-linecap="round"/>
<line x1="639.6" y1="731.4" x2="639.6" y2="738.3" stroke-width="2.6" stroke-linecap="round"/>
<line x1="639.6" y1="1272" x2="639.6" y2="1278.9" stroke-width="2.6" stroke-linecap="round"/>
<line x1="670" y1="731.4" x2="670" y2="738.3" stroke-width="2.6" stroke-linecap="round"/>
<line x1="670" y1="1272" x2="670" y2="1278.9" stroke-width="2.6" stroke-linecap="round"/>
<line x1="718.1" y1="731.4" x2="718.1" y2="738.3" stroke-width="2.6" stroke-linecap="round"/>
<line x1="718.1" y1="1272" x2="718.1" y2="1278.9" stroke-width="2.6" stroke-linecap="round"/>
<line x1="748.5" y1="731.4" x2="748.5" y2="738.3" stroke-width="2.6" stroke-linecap="round"/>
<line x1="748.5" y1="1272" x2="748.5" y2="1278.9" stroke-width="2.6" stroke-linecap="round"/>
<line x1="778.9" y1="724.3" x2="778.9" y2="738.3" stroke-width="3.8" stroke-linecap="round"/>
<line x1="778.9" y1="1272" x2="778.9" y2="1286" stroke-width="3.8" stroke-linecap="round"/>
<line x1="809.3" y1="731.4" x2="809.3" y2="738.3" stroke-width="2.6" stroke-linecap="round"/>
<line x1="809.3" y1="1272" x2="809.3" y2="1278.9" stroke-width="2.6" stroke-linecap="round"/>
<line x1="839.7" y1="731.4" x2="839.7" y2="738.3" stroke-width="2.6" stroke-linecap="round"/>
<line x1="839.7" y1="1272" x2="839.7" y2="1278.9" stroke-width="2.6" stroke-linecap="round"/>
<line x1="870" y1="724.3" x2="870" y2="738.3" stroke-width="3.8" stroke-linecap="round"/>
<line x1="870" y1="1272" x2="870" y2="1286" stroke-width="3.8" stroke-linecap="round"/>
<line x1="900.4" y1="731.4" x2="900.4" y2="738.3" stroke-width="2.6" stroke-linecap="round"/>
<line x1="900.4" y1="1272" x2="900.4" y2="1278.9" stroke-width="2.6" stroke-linecap="round"/>
<line x1="930.8" y1="731.4" x2="930.8" y2="738.3" stroke-width="2.6" stroke-linecap="round"/>
<line x1="930.8" y1="1272" x2="930.8" y2="1278.9" stroke-width="2.6" stroke-linecap="round"/>
<line x1="961.2" y1="724.3" x2="961.2" y2="738.3" stroke-width="3.8" stroke-linecap="round"/>
<line x1="961.2" y1="1272" x2="961.2" y2="1286" stroke-width="3.8" stroke-linecap="round"/>
<line x1="991.6" y1="731.4" x2="991.6" y2="738.3" stroke-width="2.6" stroke-linecap="round"/>
<line x1="991.6" y1="1272" x2="991.6" y2="1278.9" stroke-width="2.6" stroke-linecap="round"/>
<line x1="1022" y1="731.4" x2="1022" y2="738.3" stroke-width="2.6" stroke-linecap="round"/>
<line x1="1022" y1="1272" x2="1022" y2="1278.9" stroke-width="2.6" stroke-linecap="round"/>
<line x1="1052.4" y1="724.3" x2="1052.4" y2="738.3" stroke-width="3.8" stroke-linecap="round"/>
<line x1="1052.4" y1="1272" x2="1052.4" y2="1286" stroke-width="3.8" stroke-linecap="round"/>
<line x1="1082.7" y1="731.4" x2="1082.7" y2="738.3" stroke-width="2.6" stroke-linecap="round"/>
<line x1="1082.7" y1="1272" x2="1082.7" y2="1278.9" stroke-width="2.6" stroke-linecap="round"/>
<line x1="1113.1" y1="731.4" x2="1113.1" y2="738.3" stroke-width="2.6" stroke-linecap="round"/>
<line x1="1113.1" y1="1272" x2="1113.1" y2="1278.9" stroke-width="2.6" stroke-linecap="round"/>
<line x1="1143.5" y1="724.3" x2="1143.5" y2="738.3" stroke-width="3.8" stroke-linecap="round"/>
<line x1="1143.5" y1="1272" x2="1143.5" y2="1286" stroke-width="3.8" stroke-linecap="round"/>
<line x1="1173.9" y1="731.4" x2="1173.9" y2="738.3" stroke-width="2.6" stroke-linecap="round"/>
<line x1="1173.9" y1="1272" x2="1173.9" y2="1278.9" stroke-width="2.6" stroke-linecap="round"/>
<line x1="1204.3" y1="731.4" x2="1204.3" y2="738.3" stroke-width="2.6" stroke-linecap="round"/>
<line x1="1204.3" y1="1272" x2="1204.3" y2="1278.9" stroke-width="2.6" stroke-linecap="round"/>
<line x1="1252.3" y1="731.4" x2="1252.3" y2="738.3" stroke-width="2.6" stroke-linecap="round"/>
<line x1="1252.3" y1="1272" x2="1252.3" y2="1278.9" stroke-width="2.6" stroke-linecap="round"/>
<line x1="1282.7" y1="731.4" x2="1282.7" y2="738.3" stroke-width="2.6" stroke-linecap="round"/>
<line x1="1282.7" y1="1272" x2="1282.7" y2="1278.9" stroke-width="2.6" stroke-linecap="round"/>
<line x1="1313.2" y1="724.3" x2="1313.2" y2="738.3" stroke-width="3.8" stroke-linecap="round"/>
<line x1="1313.2" y1="1272" x2="1313.2" y2="1286" stroke-width="3.8" stroke-linecap="round"/>
<line x1="1343.6" y1="731.4" x2="1343.6" y2="738.3" stroke-width="2.6" stroke-linecap="round"/>
<line x1="1343.6" y1="1272" x2="1343.6" y2="1278.9" stroke-width="2.6" stroke-linecap="round"/>
<line x1="1374" y1="731.4" x2="1374" y2="738.3" stroke-width="2.6" stroke-linecap="round"/>
<line x1="1374" y1="1272" x2="1374" y2="1278.9" stroke-width="2.6" stroke-linecap="round"/>
<line x1="1404.4" y1="724.3" x2="1404.4" y2="738.3" stroke-width="3.8" stroke-linecap="round"/>
<line x1="1404.4" y1="1272" x2="1404.4" y2="1286" stroke-width="3.8" stroke-linecap="round"/>
<line x1="1434.8" y1="731.4" x2="1434.8" y2="738.3" stroke-width="2.6" stroke-linecap="round"/>
<line x1="1434.8" y1="1272" x2="1434.8" y2="1278.9" stroke-width="2.6" stroke-linecap="round"/>
<line x1="1465.2" y1="731.4" x2="1465.2" y2="738.3" stroke-width="2.6" stroke-linecap="round"/>
<line x1="1465.2" y1="1272" x2="1465.2" y2="1278.9" stroke-width="2.6" stroke-linecap="round"/>
<line x1="1495.7" y1="724.3" x2="1495.7" y2="738.3" stroke-width="3.8" stroke-linecap="round"/>
<line x1="1495.7" y1="1272" x2="1495.7" y2="1286" stroke-width="3.8" stroke-linecap="round"/>
<line x1="1526.1" y1="731.4" x2="1526.1" y2="738.3" stroke-width="2.6" stroke-linecap="round"/>
<line x1="1526.1" y1="1272" x2="1526.1" y2="1278.9" stroke-width="2.6" stroke-linecap="round"/>
<line x1="1556.5" y1="731.4" x2="1556.5" y2="738.3" stroke-width="2.6" stroke-linecap="round"/>
<line x1="1556.5" y1="1272" x2="1556.5" y2="1278.9" stroke-width="2.6" stroke-linecap="round"/>
<line x1="1586.9" y1="724.3" x2="1586.9" y2="738.3" stroke-width="3.8" stroke-linecap="round"/>
<line x1="1586.9" y1="1272" x2="1586.9" y2="1286" stroke-width="3.8" stroke-linecap="round"/>
<line x1="1617.3" y1="731.4" x2="1617.3" y2="738.3" stroke-width="2.6" stroke-linecap="round"/>
<line x1="1617.3" y1="1272" x2="1617.3" y2="1278.9" stroke-width="2.6" stroke-linecap="round"/>
<line x1="1647.7" y1="731.4" x2="1647.7" y2="738.3" stroke-width="2.6" stroke-linecap="round"/>
<line x1="1647.7" y1="1272" x2="1647.7" y2="1278.9" stroke-width="2.6" stroke-linecap="round"/>
<line x1="1678.1" y1="724.3" x2="1678.1" y2="738.3" stroke-width="3.8" stroke-linecap="round"/>
<line x1="1678.1" y1="1272" x2="1678.1" y2="1286" stroke-width="3.8" stroke-linecap="round"/>
<line x1="1708.6" y1="731.4" x2="1708.6" y2="738.3" stroke-width="2.6" stroke-linecap="round"/>
<line x1="1708.6" y1="1272" x2="1708.6" y2="1278.9" stroke-width="2.6" stroke-linecap="round"/>
<line x1="1739" y1="731.4" x2="1739" y2="738.3" stroke-width="2.6" stroke-linecap="round"/>
<line x1="1739" y1="1272" x2="1739" y2="1278.9" stroke-width="2.6" stroke-linecap="round"/>
</g>
<g id="labels">
<text transform="translate(119.6 64.1) scale(0.925 1)" text-anchor="end" font-size="38.4" dx="0 -2 -2 0">0.01</text>
<text transform="translate(119.6 170.3) scale(0.925 1)" text-anchor="end" font-size="38.4" dx="0 -2 -2">0.1</text>
<text transform="translate(119.6 276.6) scale(0.925 1)" text-anchor="end" font-size="38.4">1</text>
<text transform="translate(119.6 382.8) scale(0.925 1)" text-anchor="end" font-size="38.4">10</text>
<text transform="translate(119.6 489.1) scale(0.925 1)" text-anchor="end" font-size="38.4">100</text>
<text transform="translate(1788.3 64.1) scale(0.925 1)" text-anchor="start" font-size="38.4">80</text>
<text transform="translate(1788.3 170.3) scale(0.925 1)" text-anchor="start" font-size="38.4">70</text>
<text transform="translate(1788.3 276.6) scale(0.925 1)" text-anchor="start" font-size="38.4">50</text>
<text transform="translate(1788.3 382.8) scale(0.925 1)" text-anchor="start" font-size="38.4">30</text>
<text transform="translate(1788.3 489.1) scale(0.925 1)" text-anchor="start" font-size="38.4">20</text>
<text transform="translate(241.6 649) scale(0.925 1)" text-anchor="middle" font-size="38.4">60S</text>
<text transform="translate(332.3 649) scale(0.925 1)" text-anchor="middle" font-size="38.4">30S</text>
<text transform="translate(422.9 649) scale(0.925 1)" text-anchor="middle" font-size="38.4">0</text>
<text transform="translate(513.5 649) scale(0.925 1)" text-anchor="middle" font-size="38.4">30N</text>
<text transform="translate(604.2 649) scale(0.925 1)" text-anchor="middle" font-size="38.4">60N</text>
<text transform="translate(772.7 649) scale(0.925 1)" text-anchor="middle" font-size="38.4">60S</text>
<text transform="translate(863.3 649) scale(0.925 1)" text-anchor="middle" font-size="38.4">30S</text>
<text transform="translate(953.9 649) scale(0.925 1)" text-anchor="middle" font-size="38.4">0</text>
<text transform="translate(1044.4 649) scale(0.925 1)" text-anchor="middle" font-size="38.4">30N</text>
<text transform="translate(1135 649) scale(0.925 1)" text-anchor="middle" font-size="38.4">60N</text>
<text transform="translate(1303.3 649) scale(0.925 1)" text-anchor="middle" font-size="38.4">60S</text>
<text transform="translate(1393.8 649) scale(0.925 1)" text-anchor="middle" font-size="38.4">30S</text>
<text transform="translate(1484.3 649) scale(0.925 1)" text-anchor="middle" font-size="38.4">0</text>
<text transform="translate(1574.8 649) scale(0.925 1)" text-anchor="middle" font-size="38.4">30N</text>
<text transform="translate(1665.3 649) scale(0.925 1)" text-anchor="middle" font-size="38.4">60N</text>
<text transform="translate(119.6 751.6) scale(0.925 1)" text-anchor="end" font-size="38.4" dx="0 -2 -2 0">0.01</text>
<text transform="translate(119.6 858.3) scale(0.925 1)" text-anchor="end" font-size="38.4" dx="0 -2 -2">0.1</text>
<text transform="translate(119.6 965.1) scale(0.925 1)" text-anchor="end" font-size="38.4">1</text>
<text transform="translate(119.6 1071.8) scale(0.925 1)" text-anchor="end" font-size="38.4">10</text>
<text transform="translate(119.6 1178.6) scale(0.925 1)" text-anchor="end" font-size="38.4">100</text>
<text transform="translate(1801.3 751.6) scale(0.925 1)" text-anchor="start" font-size="38.4">80</text>
<text transform="translate(1801.3 858.3) scale(0.925 1)" text-anchor="start" font-size="38.4">70</text>
<text transform="translate(1801.3 965.1) scale(0.925 1)" text-anchor="start" font-size="38.4">50</text>
<text transform="translate(1801.3 1071.8) scale(0.925 1)" text-anchor="start" font-size="38.4">30</text>
<text transform="translate(1801.3 1178.6) scale(0.925 1)" text-anchor="start" font-size="38.4">20</text>
<text transform="translate(243.2 1341) scale(0.925 1)" text-anchor="middle" font-size="38.4">60S</text>
<text transform="translate(334.6 1341) scale(0.925 1)" text-anchor="middle" font-size="38.4">30S</text>
<text transform="translate(425.9 1341) scale(0.925 1)" text-anchor="middle" font-size="38.4">0</text>
<text transform="translate(517.2 1341) scale(0.925 1)" text-anchor="middle" font-size="38.4">30N</text>
<text transform="translate(608.6 1341) scale(0.925 1)" text-anchor="middle" font-size="38.4">60N</text>
<text transform="translate(778.3 1341) scale(0.925 1)" text-anchor="middle" font-size="38.4">60S</text>
<text transform="translate(869.4 1341) scale(0.925 1)" text-anchor="middle" font-size="38.4">30S</text>
<text transform="translate(960.6 1341) scale(0.925 1)" text-anchor="middle" font-size="38.4">0</text>
<text transform="translate(1051.8 1341) scale(0.925 1)" text-anchor="middle" font-size="38.4">30N</text>
<text transform="translate(1142.9 1341) scale(0.925 1)" text-anchor="middle" font-size="38.4">60N</text>
<text transform="translate(1312.6 1341) scale(0.925 1)" text-anchor="middle" font-size="38.4">60S</text>
<text transform="translate(1403.8 1341) scale(0.925 1)" text-anchor="middle" font-size="38.4">30S</text>
<text transform="translate(1495.1 1341) scale(0.925 1)" text-anchor="middle" font-size="38.4">0</text>
<text transform="translate(1586.3 1341) scale(0.925 1)" text-anchor="middle" font-size="38.4">30N</text>
<text transform="translate(1677.5 1341) scale(0.925 1)" text-anchor="middle" font-size="38.4">60N</text>
<text transform="translate(156.6 27.3) scale(0.950 1)" text-anchor="start" font-size="37.4">a) NOx</text>
<text transform="translate(686.4 27.3) scale(0.950 1)" text-anchor="start" font-size="37.4">b) HOx</text>
<text transform="translate(1217.4 27.3) scale(0.958 1)" text-anchor="start" font-size="37.4">c) Ozone</text>
<text transform="translate(157.8 714.9) scale(0.964 1)" text-anchor="start" font-size="37.3">d) HSO<tspan font-size="23" dy="8">4</tspan><tspan font-size="23" dx="1.5" dy="-23">-</tspan><tspan dy="15"> Concentration</tspan></text>
<text transform="translate(692.4 714.9) scale(0.966 1)" text-anchor="start" font-size="37.3">e) New Particle Formation Rate</text>
<text transform="translate(1229.2 714.9) scale(0.969 1)" text-anchor="start" font-size="37.3">f) Aerosol Concentration</text>
<text transform="translate(28 316) rotate(-90) scale(0.925 1)" text-anchor="middle" font-size="38.4">Pressure [hPa]</text>
<text transform="translate(28 1003.5) rotate(-90) scale(0.925 1)" text-anchor="middle" font-size="38.4">Pressure [hPa]</text>
<text transform="translate(1866 305.2) rotate(-90) scale(0.925 1)" text-anchor="middle" font-size="38.4">Altitude [km]</text>
<text transform="translate(1880 992.5) rotate(-90) scale(0.925 1)" text-anchor="middle" font-size="38.4">Altitude [km]</text>
<text transform="translate(1968.3 87.4) scale(0.940 1)" text-anchor="middle" font-size="32.6">10</text>
<text transform="translate(1968.3 122.6) scale(0.940 1)" text-anchor="middle" font-size="32.6" dx="0 -1.6 -1.6">7.5</text>
<text transform="translate(1968.3 157.8) scale(0.940 1)" text-anchor="middle" font-size="32.6">5</text>
<text transform="translate(1968.3 193) scale(0.940 1)" text-anchor="middle" font-size="32.6" dx="0 -1.6 -1.6">2.5</text>
<text transform="translate(1968.3 228.2) scale(0.940 1)" text-anchor="middle" font-size="32.6" dx="0 -1.6 -1.6">1.5</text>
<text transform="translate(1968.3 263.4) scale(0.940 1)" text-anchor="middle" font-size="32.6" dx="0 -1.6 -1.6">1.1</text>
<text transform="translate(1968.3 298.6) scale(0.940 1)" text-anchor="middle" font-size="32.6" dx="0 -1.6 -1.6 0">1.05</text>
<text transform="translate(1968.3 334.5) scale(0.940 1)" text-anchor="middle" font-size="32.6">1</text>
<text transform="translate(1968.3 369.6) scale(0.940 1)" text-anchor="middle" font-size="32.6" dx="0 -1.6 -1.6 0">0.95</text>
<text transform="translate(1968.3 404.7) scale(0.940 1)" text-anchor="middle" font-size="32.6" dx="0 -1.6 -1.6">0.9</text>
<text transform="translate(1968.3 439.8) scale(0.940 1)" text-anchor="middle" font-size="32.6" dx="0 -1.6 -1.6 0">0.75</text>
<text transform="translate(1968.3 474.9) scale(0.940 1)" text-anchor="middle" font-size="32.6" dx="0 -1.6 -1.6">0.5</text>
<text transform="translate(1968.3 510) scale(0.940 1)" text-anchor="middle" font-size="32.6" dx="0 -1.6 -1.6 0">0.25</text>
<text transform="translate(1968.3 545.1) scale(0.940 1)" text-anchor="middle" font-size="32.6" dx="0 -1.6 -1.6">0.1</text>
<text transform="translate(1972.6 838.4) scale(0.940 1)" text-anchor="middle" font-size="38.8">10</text>
<text transform="translate(1972.6 902.1) scale(0.940 1)" text-anchor="middle" font-size="38.8" dx="0 -1 -1">7.5</text>
<text transform="translate(1972.6 965.8) scale(0.940 1)" text-anchor="middle" font-size="38.8">5</text>
<text transform="translate(1972.6 1029.5) scale(0.940 1)" text-anchor="middle" font-size="38.8" dx="0 -1 -1">2.5</text>
<text transform="translate(1972.6 1093.2) scale(0.940 1)" text-anchor="middle" font-size="38.8" dx="0 -1 -1">1.5</text>
<text transform="translate(1972.6 1156.9) scale(0.940 1)" text-anchor="middle" font-size="38.8" dx="0 -1 -1">1.1</text>
<text transform="translate(1972.6 1220.6) scale(0.940 1)" text-anchor="middle" font-size="38.8">1</text>
</g>
</svg>
</body>
</html>
